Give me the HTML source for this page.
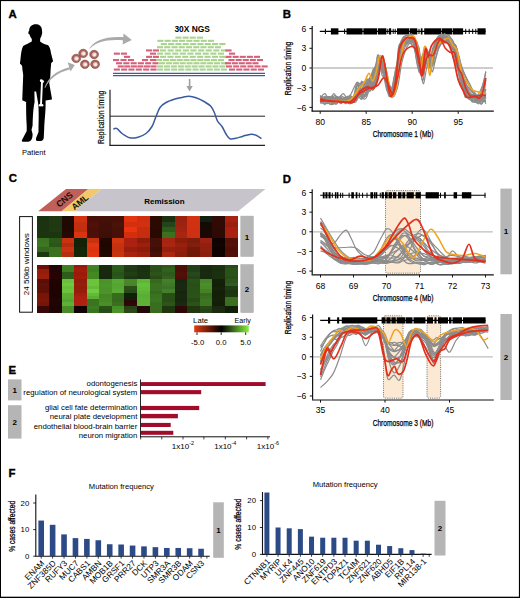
<!DOCTYPE html><html><head><meta charset="utf-8"><style>html,body{margin:0;padding:0;background:#fff;width:520px;height:598px;overflow:hidden}svg{display:block;font-family:"Liberation Sans",sans-serif}</style></head><body>
<svg width="520" height="598" viewBox="0 0 520 598">
<defs><radialGradient id="cellc" cx="0.6" cy="0.55" r="0.6"><stop offset="0" stop-color="#ffffff"/><stop offset="0.45" stop-color="#f0d2cc"/><stop offset="1" stop-color="#c27a70"/></radialGradient><linearGradient id="cbar" x1="0" x2="1" y1="0" y2="0"><stop offset="0" stop-color="#e83a10"/><stop offset="0.5" stop-color="#000000"/><stop offset="1" stop-color="#8cf040"/></linearGradient></defs>
<rect x="0" y="0" width="520" height="598" fill="#fff"/>
<text x="8.40" y="18.10" font-size="11.4" text-anchor="start" fill="#000" font-weight="bold" stroke="#000" stroke-width="0.35">A</text>
<text x="282.80" y="18.20" font-size="11.4" text-anchor="start" fill="#000" font-weight="bold" stroke="#000" stroke-width="0.35">B</text>
<text x="8.70" y="182.10" font-size="11.4" text-anchor="start" fill="#000" font-weight="bold" stroke="#000" stroke-width="0.35">C</text>
<text x="282.80" y="182.60" font-size="11.4" text-anchor="start" fill="#000" font-weight="bold" stroke="#000" stroke-width="0.35">D</text>
<text x="8.50" y="373.90" font-size="11.4" text-anchor="start" fill="#000" font-weight="bold" stroke="#000" stroke-width="0.35">E</text>
<text x="8.60" y="476.70" font-size="11.4" text-anchor="start" fill="#000" font-weight="bold" stroke="#000" stroke-width="0.35">F</text>
<path d="M35.6,24.3 C38.8,24.2 41.9,26.2 42,30.2 L42.2,33 C41.7,35.5 41,37.3 40.2,38.4 L40.1,41.4 C42.3,43.4 45,44.4 47.6,45.1 C49.6,46.2 50.6,50 51.2,54 L53.1,61.3 L51.2,62.9 L50.6,70 L50.3,76.5 L49.2,83 L51.9,98.4 L51.9,99.4 L45.6,100.4 L45.6,105 C45.6,112 44.6,120 44.3,125.4 L44.1,131 L43.8,137 C43.8,139.6 42.6,140.9 40.6,140.9 L37.1,140.9 C36,140.9 35.8,139.6 36.1,138 L38.5,132 L38.5,127 C38.9,120 38.7,110 38.4,105.5 L37.9,102 L36.1,91.4 L34.4,91.4 L34.6,102 C33.2,108 32.8,118 32.6,125.4 L31.5,130 L32.6,134 C32.6,138 31.6,141.6 28,141.8 L23.5,141.8 C22,141.8 21.4,141 22,140 L26.7,131 L26.7,125.4 C26.2,118 26.1,110 26.1,102 L22.3,100.2 L22.3,99 L23.2,75 L22.5,70 L22.1,65.7 L19.9,63.5 L20.4,60 C21,54 21.5,49 23.2,46.1 C26,44.5 29.5,43 31.8,41.6 L31.8,39 C30.6,37.6 30,35.6 29.5,34.5 L28.3,33.6 L28.5,31.5 L29.1,30.9 C29.3,26.6 32,24.3 35.6,24.3 Z" fill="#000"/>
<path d="M42,81.2 L41.0,104.6" stroke="#fff" stroke-width="1.9" stroke-linecap="round"/>
<circle cx="41.3" cy="80.8" r="1.45" fill="#fff"/><circle cx="42.8" cy="81.4" r="1.25" fill="#fff"/>
<circle cx="40.1" cy="105.3" r="1.3" fill="#fff"/><circle cx="42.1" cy="105.3" r="1.3" fill="#fff"/>
<path d="M44.6,87.6 C48,78 55,71 69.5,67.2 L70.4,69.2 C57,72.5 49.5,79 45.2,88 Z" fill="#aaaaaa"/>
<path d="M67.6,62.2 L74.8,65 L70.6,71.6 Z" fill="#aaaaaa"/>
<path d="M89.4,48.4 C95,40 106,35.8 124.5,37.2 L124.3,40.4 C107,38.8 96,42 89.8,48.8 Z" fill="#aaaaaa"/>
<path d="M123.6,33.6 L131.8,40.1 L122.6,44.6 Z" fill="#aaaaaa"/>
<ellipse cx="76.2" cy="58.4" rx="4.4" ry="4.2" fill="#b0675e" stroke="#7a4540" stroke-width="0.6"/>
<ellipse cx="76.2" cy="58.4" rx="3.0" ry="2.85" fill="url(#cellc)" stroke="#874a44" stroke-width="0.5"/>
<ellipse cx="83.2" cy="53.4" rx="4.4" ry="4.2" fill="#b0675e" stroke="#7a4540" stroke-width="0.6"/>
<ellipse cx="83.2" cy="53.4" rx="3.0" ry="2.85" fill="url(#cellc)" stroke="#874a44" stroke-width="0.5"/>
<ellipse cx="94.1" cy="54.5" rx="4.4" ry="4.2" fill="#b0675e" stroke="#7a4540" stroke-width="0.6"/>
<ellipse cx="94.1" cy="54.5" rx="3.0" ry="2.85" fill="url(#cellc)" stroke="#874a44" stroke-width="0.5"/>
<ellipse cx="84.9" cy="64.3" rx="4.4" ry="4.2" fill="#b0675e" stroke="#7a4540" stroke-width="0.6"/>
<ellipse cx="84.9" cy="64.3" rx="3.0" ry="2.85" fill="url(#cellc)" stroke="#874a44" stroke-width="0.5"/>
<ellipse cx="95.1" cy="64.3" rx="4.4" ry="4.2" fill="#b0675e" stroke="#7a4540" stroke-width="0.6"/>
<ellipse cx="95.1" cy="64.3" rx="3.0" ry="2.85" fill="url(#cellc)" stroke="#874a44" stroke-width="0.5"/>
<text x="33.80" y="155.00" font-size="7.7" text-anchor="middle" fill="#000" textLength="23.6" lengthAdjust="spacingAndGlyphs" >Patient</text>
<text x="192.20" y="32.20" font-size="8.8" text-anchor="middle" fill="#000" font-weight="bold" textLength="35.5" lengthAdjust="spacingAndGlyphs" >30X NGS</text>
<rect x="175.4" y="36.6" width="6.1" height="2.1" fill="#a8d48c"/>
<rect x="182.6" y="36.6" width="6.1" height="2.1" fill="#a8d48c"/>
<rect x="189.7" y="36.6" width="6.1" height="2.1" fill="#a8d48c"/>
<rect x="196.9" y="36.6" width="6.1" height="2.1" fill="#a8d48c"/>
<rect x="157.4" y="39.8" width="6.1" height="2.1" fill="#a8d48c"/>
<rect x="164.6" y="39.8" width="6.1" height="2.1" fill="#a8d48c"/>
<rect x="171.8" y="39.8" width="6.1" height="2.1" fill="#a8d48c"/>
<rect x="179.0" y="39.8" width="6.1" height="2.1" fill="#a8d48c"/>
<rect x="186.3" y="39.8" width="6.1" height="2.1" fill="#a8d48c"/>
<rect x="193.5" y="39.8" width="6.1" height="2.1" fill="#a8d48c"/>
<rect x="200.7" y="39.8" width="6.1" height="2.1" fill="#a8d48c"/>
<rect x="207.9" y="39.8" width="6.1" height="2.1" fill="#a8d48c"/>
<rect x="160.8" y="43.0" width="6.1" height="2.1" fill="#a8d48c"/>
<rect x="168.1" y="43.0" width="6.1" height="2.1" fill="#a8d48c"/>
<rect x="175.4" y="43.0" width="6.1" height="2.1" fill="#a8d48c"/>
<rect x="182.7" y="43.0" width="6.1" height="2.1" fill="#a8d48c"/>
<rect x="190.1" y="43.0" width="6.1" height="2.1" fill="#a8d48c"/>
<rect x="197.4" y="43.0" width="6.1" height="2.1" fill="#a8d48c"/>
<rect x="204.7" y="43.0" width="6.1" height="2.1" fill="#a8d48c"/>
<rect x="212.0" y="43.0" width="6.1" height="2.1" fill="#a8d48c"/>
<rect x="219.3" y="43.0" width="6.1" height="2.1" fill="#a8d48c"/>
<rect x="157.0" y="46.2" width="6.1" height="2.1" fill="#a8d48c"/>
<rect x="164.2" y="46.2" width="6.1" height="2.1" fill="#a8d48c"/>
<rect x="171.5" y="46.2" width="6.1" height="2.1" fill="#a8d48c"/>
<rect x="178.7" y="46.2" width="6.1" height="2.1" fill="#a8d48c"/>
<rect x="185.9" y="46.2" width="6.1" height="2.1" fill="#a8d48c"/>
<rect x="193.2" y="46.2" width="6.1" height="2.1" fill="#a8d48c"/>
<rect x="200.4" y="46.2" width="6.1" height="2.1" fill="#a8d48c"/>
<rect x="207.7" y="46.2" width="6.1" height="2.1" fill="#a8d48c"/>
<rect x="214.9" y="46.2" width="6.1" height="2.1" fill="#a8d48c"/>
<rect x="146.0" y="49.4" width="6.1" height="2.1" fill="#d4607a"/>
<rect x="152.9" y="49.4" width="6.1" height="2.1" fill="#d4607a"/>
<rect x="160.0" y="49.4" width="6.1" height="2.1" fill="#a8d48c"/>
<rect x="167.6" y="49.4" width="6.1" height="2.1" fill="#a8d48c"/>
<rect x="175.2" y="49.4" width="6.1" height="2.1" fill="#a8d48c"/>
<rect x="182.8" y="49.4" width="6.1" height="2.1" fill="#a8d48c"/>
<rect x="190.4" y="49.4" width="6.1" height="2.1" fill="#a8d48c"/>
<rect x="198.1" y="49.4" width="6.1" height="2.1" fill="#a8d48c"/>
<rect x="205.7" y="49.4" width="6.1" height="2.1" fill="#a8d48c"/>
<rect x="213.3" y="49.4" width="6.1" height="2.1" fill="#a8d48c"/>
<rect x="220.9" y="49.4" width="6.1" height="2.1" fill="#a8d48c"/>
<rect x="225.5" y="49.4" width="6.1" height="2.1" fill="#d4607a"/>
<rect x="113.8" y="52.6" width="6.1" height="2.1" fill="#d4607a"/>
<rect x="120.9" y="52.6" width="6.1" height="2.1" fill="#d4607a"/>
<rect x="150.0" y="52.6" width="6.1" height="2.1" fill="#d4607a"/>
<rect x="157.0" y="52.6" width="6.1" height="2.1" fill="#a8d48c"/>
<rect x="164.6" y="52.6" width="6.1" height="2.1" fill="#a8d48c"/>
<rect x="172.2" y="52.6" width="6.1" height="2.1" fill="#a8d48c"/>
<rect x="179.8" y="52.6" width="6.1" height="2.1" fill="#a8d48c"/>
<rect x="187.4" y="52.6" width="6.1" height="2.1" fill="#a8d48c"/>
<rect x="195.1" y="52.6" width="6.1" height="2.1" fill="#a8d48c"/>
<rect x="202.7" y="52.6" width="6.1" height="2.1" fill="#a8d48c"/>
<rect x="210.3" y="52.6" width="6.1" height="2.1" fill="#a8d48c"/>
<rect x="217.9" y="52.6" width="6.1" height="2.1" fill="#a8d48c"/>
<rect x="229.0" y="52.6" width="6.1" height="2.1" fill="#d4607a"/>
<rect x="124.0" y="55.8" width="6.1" height="2.1" fill="#d4607a"/>
<rect x="146.0" y="55.8" width="6.1" height="2.1" fill="#d4607a"/>
<rect x="152.9" y="55.8" width="6.1" height="2.1" fill="#d4607a"/>
<rect x="160.0" y="55.8" width="6.1" height="2.1" fill="#a8d48c"/>
<rect x="167.4" y="55.8" width="6.1" height="2.1" fill="#a8d48c"/>
<rect x="174.8" y="55.8" width="6.1" height="2.1" fill="#a8d48c"/>
<rect x="182.2" y="55.8" width="6.1" height="2.1" fill="#a8d48c"/>
<rect x="189.7" y="55.8" width="6.1" height="2.1" fill="#a8d48c"/>
<rect x="197.1" y="55.8" width="6.1" height="2.1" fill="#a8d48c"/>
<rect x="204.5" y="55.8" width="6.1" height="2.1" fill="#a8d48c"/>
<rect x="211.9" y="55.8" width="6.1" height="2.1" fill="#a8d48c"/>
<rect x="219.3" y="55.8" width="6.1" height="2.1" fill="#a8d48c"/>
<rect x="225.5" y="55.8" width="6.1" height="2.1" fill="#d4607a"/>
<rect x="232.6" y="55.8" width="6.1" height="2.1" fill="#d4607a"/>
<rect x="239.7" y="55.8" width="6.1" height="2.1" fill="#d4607a"/>
<rect x="246.8" y="55.8" width="6.1" height="2.1" fill="#d4607a"/>
<rect x="253.9" y="55.8" width="6.1" height="2.1" fill="#d4607a"/>
<rect x="113.0" y="59.0" width="6.1" height="2.1" fill="#d4607a"/>
<rect x="120.5" y="59.0" width="6.1" height="2.1" fill="#d4607a"/>
<rect x="127.9" y="59.0" width="6.1" height="2.1" fill="#d4607a"/>
<rect x="142.0" y="59.0" width="6.1" height="2.1" fill="#d4607a"/>
<rect x="149.9" y="59.0" width="6.1" height="2.1" fill="#d4607a"/>
<rect x="156.0" y="59.0" width="6.1" height="2.1" fill="#a8d48c"/>
<rect x="162.9" y="59.0" width="6.1" height="2.1" fill="#a8d48c"/>
<rect x="169.8" y="59.0" width="6.1" height="2.1" fill="#a8d48c"/>
<rect x="176.6" y="59.0" width="6.1" height="2.1" fill="#a8d48c"/>
<rect x="183.5" y="59.0" width="6.1" height="2.1" fill="#a8d48c"/>
<rect x="190.4" y="59.0" width="6.1" height="2.1" fill="#a8d48c"/>
<rect x="197.3" y="59.0" width="6.1" height="2.1" fill="#a8d48c"/>
<rect x="204.1" y="59.0" width="6.1" height="2.1" fill="#a8d48c"/>
<rect x="211.0" y="59.0" width="6.1" height="2.1" fill="#a8d48c"/>
<rect x="217.9" y="59.0" width="6.1" height="2.1" fill="#a8d48c"/>
<rect x="228.5" y="59.0" width="6.1" height="2.1" fill="#d4607a"/>
<rect x="235.6" y="59.0" width="6.1" height="2.1" fill="#d4607a"/>
<rect x="242.7" y="59.0" width="6.1" height="2.1" fill="#d4607a"/>
<rect x="249.8" y="59.0" width="6.1" height="2.1" fill="#d4607a"/>
<rect x="256.9" y="59.0" width="6.1" height="2.1" fill="#d4607a"/>
<rect x="116.0" y="62.2" width="6.1" height="2.1" fill="#d4607a"/>
<rect x="123.3" y="62.2" width="6.1" height="2.1" fill="#d4607a"/>
<rect x="130.6" y="62.2" width="6.1" height="2.1" fill="#d4607a"/>
<rect x="137.8" y="62.2" width="6.1" height="2.1" fill="#d4607a"/>
<rect x="145.1" y="62.2" width="6.1" height="2.1" fill="#d4607a"/>
<rect x="152.4" y="62.2" width="6.1" height="2.1" fill="#d4607a"/>
<rect x="159.0" y="62.2" width="6.1" height="2.1" fill="#a8d48c"/>
<rect x="165.9" y="62.2" width="6.1" height="2.1" fill="#a8d48c"/>
<rect x="172.8" y="62.2" width="6.1" height="2.1" fill="#a8d48c"/>
<rect x="179.6" y="62.2" width="6.1" height="2.1" fill="#a8d48c"/>
<rect x="186.5" y="62.2" width="6.1" height="2.1" fill="#a8d48c"/>
<rect x="193.4" y="62.2" width="6.1" height="2.1" fill="#a8d48c"/>
<rect x="200.3" y="62.2" width="6.1" height="2.1" fill="#a8d48c"/>
<rect x="207.1" y="62.2" width="6.1" height="2.1" fill="#a8d48c"/>
<rect x="214.0" y="62.2" width="6.1" height="2.1" fill="#a8d48c"/>
<rect x="220.9" y="62.2" width="6.1" height="2.1" fill="#a8d48c"/>
<rect x="225.0" y="62.2" width="6.1" height="2.1" fill="#d4607a"/>
<rect x="231.8" y="62.2" width="6.1" height="2.1" fill="#d4607a"/>
<rect x="238.7" y="62.2" width="6.1" height="2.1" fill="#d4607a"/>
<rect x="245.6" y="62.2" width="6.1" height="2.1" fill="#d4607a"/>
<rect x="252.4" y="62.2" width="6.1" height="2.1" fill="#d4607a"/>
<rect x="117.7" y="65.4" width="6.1" height="2.1" fill="#d4607a"/>
<rect x="124.2" y="65.4" width="6.1" height="2.1" fill="#d4607a"/>
<rect x="130.8" y="65.4" width="6.1" height="2.1" fill="#d4607a"/>
<rect x="137.3" y="65.4" width="6.1" height="2.1" fill="#d4607a"/>
<rect x="143.9" y="65.4" width="6.1" height="2.1" fill="#d4607a"/>
<rect x="150.4" y="65.4" width="6.1" height="2.1" fill="#d4607a"/>
<rect x="157.0" y="65.4" width="6.1" height="2.1" fill="#a8d48c"/>
<rect x="163.9" y="65.4" width="6.1" height="2.1" fill="#a8d48c"/>
<rect x="170.8" y="65.4" width="6.1" height="2.1" fill="#a8d48c"/>
<rect x="177.8" y="65.4" width="6.1" height="2.1" fill="#a8d48c"/>
<rect x="184.7" y="65.4" width="6.1" height="2.1" fill="#a8d48c"/>
<rect x="191.6" y="65.4" width="6.1" height="2.1" fill="#a8d48c"/>
<rect x="198.5" y="65.4" width="6.1" height="2.1" fill="#a8d48c"/>
<rect x="205.5" y="65.4" width="6.1" height="2.1" fill="#a8d48c"/>
<rect x="212.4" y="65.4" width="6.1" height="2.1" fill="#a8d48c"/>
<rect x="219.3" y="65.4" width="6.1" height="2.1" fill="#a8d48c"/>
<rect x="226.0" y="65.4" width="6.1" height="2.1" fill="#d4607a"/>
<rect x="233.1" y="65.4" width="6.1" height="2.1" fill="#d4607a"/>
<rect x="240.2" y="65.4" width="6.1" height="2.1" fill="#d4607a"/>
<rect x="247.4" y="65.4" width="6.1" height="2.1" fill="#d4607a"/>
<rect x="254.5" y="65.4" width="6.1" height="2.1" fill="#d4607a"/>
<rect x="261.6" y="65.4" width="6.1" height="2.1" fill="#d4607a"/>
<rect x="113.8" y="68.5" width="6.1" height="2.1" fill="#d4607a"/>
<rect x="121.1" y="68.5" width="6.1" height="2.1" fill="#d4607a"/>
<rect x="128.4" y="68.5" width="6.1" height="2.1" fill="#d4607a"/>
<rect x="135.8" y="68.5" width="6.1" height="2.1" fill="#d4607a"/>
<rect x="143.1" y="68.5" width="6.1" height="2.1" fill="#d4607a"/>
<rect x="150.4" y="68.5" width="6.1" height="2.1" fill="#d4607a"/>
<rect x="157.0" y="68.5" width="6.1" height="2.1" fill="#a8d48c"/>
<rect x="164.1" y="68.5" width="6.1" height="2.1" fill="#a8d48c"/>
<rect x="171.2" y="68.5" width="6.1" height="2.1" fill="#a8d48c"/>
<rect x="178.3" y="68.5" width="6.1" height="2.1" fill="#a8d48c"/>
<rect x="185.4" y="68.5" width="6.1" height="2.1" fill="#a8d48c"/>
<rect x="192.5" y="68.5" width="6.1" height="2.1" fill="#a8d48c"/>
<rect x="199.6" y="68.5" width="6.1" height="2.1" fill="#a8d48c"/>
<rect x="206.7" y="68.5" width="6.1" height="2.1" fill="#a8d48c"/>
<rect x="213.8" y="68.5" width="6.1" height="2.1" fill="#a8d48c"/>
<rect x="220.9" y="68.5" width="6.1" height="2.1" fill="#a8d48c"/>
<rect x="229.0" y="68.5" width="6.1" height="2.1" fill="#d4607a"/>
<rect x="236.2" y="68.5" width="6.1" height="2.1" fill="#d4607a"/>
<rect x="243.4" y="68.5" width="6.1" height="2.1" fill="#d4607a"/>
<rect x="250.7" y="68.5" width="6.1" height="2.1" fill="#d4607a"/>
<rect x="257.9" y="68.5" width="6.1" height="2.1" fill="#d4607a"/>
<line x1="113" y1="73.4" x2="265" y2="73.4" stroke="#3d5c9c" stroke-width="1.1"/>
<line x1="113" y1="75.6" x2="265" y2="75.6" stroke="#3d5c9c" stroke-width="1.1"/>
<line x1="189.6" y1="79" x2="189.6" y2="87" stroke="#a0a0a0" stroke-width="1.6"/>
<path d="M186.4,86 L192.8,86 L189.6,91.6 Z" fill="#a0a0a0"/>
<line x1="110" y1="89.8" x2="110" y2="145.5" stroke="#222" stroke-width="1.2"/>
<line x1="109.4" y1="145.3" x2="265" y2="145.3" stroke="#222" stroke-width="1.2"/>
<line x1="110" y1="116.2" x2="265" y2="116.2" stroke="#222" stroke-width="1"/>
<path d="M113.30,128.90 C113.92,128.85 115.55,127.83 117.00,128.60 C118.45,129.37 119.87,131.97 122.00,133.50 C124.13,135.03 127.13,137.18 129.80,137.80 C132.47,138.42 135.30,137.92 138.00,137.20 C140.70,136.48 143.67,135.28 146.00,133.50 C148.33,131.72 150.33,129.33 152.00,126.50 C153.67,123.67 154.67,119.67 156.00,116.50 C157.33,113.33 158.33,109.83 160.00,107.50 C161.67,105.17 163.50,103.92 166.00,102.50 C168.50,101.08 172.17,99.88 175.00,99.00 C177.83,98.12 180.67,97.65 183.00,97.20 C185.33,96.75 186.83,96.20 189.00,96.30 C191.17,96.40 193.50,96.93 196.00,97.80 C198.50,98.67 201.50,100.05 204.00,101.50 C206.50,102.95 209.25,104.58 211.00,106.50 C212.75,108.42 213.42,110.58 214.50,113.00 C215.58,115.42 216.25,118.75 217.50,121.00 C218.75,123.25 220.58,124.33 222.00,126.50 C223.42,128.67 224.67,131.95 226.00,134.00 C227.33,136.05 228.33,138.08 230.00,138.80 C231.67,139.52 233.83,138.73 236.00,138.30 C238.17,137.87 240.50,136.88 243.00,136.20 C245.50,135.52 248.83,134.35 251.00,134.20 C253.17,134.05 254.25,134.58 256.00,135.30 C257.75,136.02 260.58,137.97 261.50,138.50" fill="none" stroke="#3a5a9e" stroke-width="1.5"/>
<text x="104.30" y="117.30" font-size="9" text-anchor="middle" fill="#000" textLength="53.4" lengthAdjust="spacingAndGlyphs" transform="rotate(-90 104.30 117.30)" stroke="#000" stroke-width="0.2">Replication timing</text>
<line x1="312.2" y1="25.9" x2="312.2" y2="111.6" stroke="#111" stroke-width="1.2"/>
<line x1="309.4" y1="28.58" x2="312.2" y2="28.58" stroke="#111" stroke-width="1"/>
<text x="306.40" y="31.68" font-size="8.6" text-anchor="end" fill="#000" >6</text>
<line x1="309.4" y1="48.29" x2="312.2" y2="48.29" stroke="#111" stroke-width="1"/>
<text x="306.40" y="51.39" font-size="8.6" text-anchor="end" fill="#000" >3</text>
<line x1="309.4" y1="68.0" x2="312.2" y2="68.0" stroke="#111" stroke-width="1"/>
<text x="306.40" y="71.10" font-size="8.6" text-anchor="end" fill="#000" >0</text>
<line x1="309.4" y1="87.71000000000001" x2="312.2" y2="87.71000000000001" stroke="#111" stroke-width="1"/>
<text x="306.40" y="90.81" font-size="8.6" text-anchor="end" fill="#000" >−3</text>
<line x1="309.4" y1="107.42" x2="312.2" y2="107.42" stroke="#111" stroke-width="1"/>
<text x="306.40" y="110.52" font-size="8.6" text-anchor="end" fill="#000" >−6</text>
<line x1="311.6" y1="111.2" x2="493.8" y2="111.2" stroke="#111" stroke-width="1.2"/>
<line x1="320.2" y1="111.2" x2="320.2" y2="113.8" stroke="#111" stroke-width="1"/>
<text x="320.20" y="124.75" font-size="8.6" text-anchor="middle" fill="#000" >80</text>
<line x1="366.2" y1="111.2" x2="366.2" y2="113.8" stroke="#111" stroke-width="1"/>
<text x="366.20" y="124.75" font-size="8.6" text-anchor="middle" fill="#000" >85</text>
<line x1="412.2" y1="111.2" x2="412.2" y2="113.8" stroke="#111" stroke-width="1"/>
<text x="412.20" y="124.75" font-size="8.6" text-anchor="middle" fill="#000" >90</text>
<line x1="458.2" y1="111.2" x2="458.2" y2="113.8" stroke="#111" stroke-width="1"/>
<text x="458.20" y="124.75" font-size="8.6" text-anchor="middle" fill="#000" >95</text>
<line x1="312.8" y1="68.0" x2="493" y2="68.0" stroke="#bdbdbd" stroke-width="1.3"/>
<text x="403.00" y="136.90" font-size="8.8" text-anchor="middle" fill="#000" textLength="60.7" lengthAdjust="spacingAndGlyphs" stroke="#000" stroke-width="0.25">Chromosome 1 (Mb)</text>
<text x="290.60" y="68.40" font-size="9.2" text-anchor="middle" fill="#000" textLength="53.5" lengthAdjust="spacingAndGlyphs" transform="rotate(-90 290.60 68.40)" stroke="#000" stroke-width="0.25">Replication timing</text>
<line x1="319.8" y1="31.4" x2="485.6" y2="31.4" stroke="#000" stroke-width="1.1"/>
<rect x="330.9" y="28.299999999999997" width="7.50" height="6.2" fill="#000"/>
<rect x="346.5" y="28.299999999999997" width="16.10" height="6.2" fill="#000"/>
<rect x="363.4" y="28.299999999999997" width="13.60" height="6.2" fill="#000"/>
<rect x="377.8" y="28.299999999999997" width="8.60" height="6.2" fill="#000"/>
<rect x="389" y="28.299999999999997" width="2.20" height="6.2" fill="#000"/>
<rect x="397" y="28.299999999999997" width="12.20" height="6.2" fill="#000"/>
<rect x="409.8" y="28.299999999999997" width="7.50" height="6.2" fill="#000"/>
<rect x="420.8" y="28.299999999999997" width="1.70" height="6.2" fill="#000"/>
<rect x="424.2" y="28.299999999999997" width="16.80" height="6.2" fill="#000"/>
<rect x="441.6" y="28.299999999999997" width="10.80" height="6.2" fill="#000"/>
<rect x="453" y="28.299999999999997" width="10.10" height="6.2" fill="#000"/>
<rect x="477.5" y="28.299999999999997" width="8.10" height="6.2" fill="#000"/>
<rect x="324.9" y="28.799999999999997" width="1.0" height="5.2" fill="#000"/>
<rect x="344.1" y="28.799999999999997" width="1.0" height="5.2" fill="#000"/>
<rect x="387.3" y="28.799999999999997" width="1.0" height="5.2" fill="#000"/>
<rect x="392.7" y="28.799999999999997" width="1.0" height="5.2" fill="#000"/>
<rect x="394.7" y="28.799999999999997" width="1.0" height="5.2" fill="#000"/>
<rect x="418.5" y="28.799999999999997" width="1.0" height="5.2" fill="#000"/>
<rect x="465.2" y="28.799999999999997" width="1.0" height="5.2" fill="#000"/>
<rect x="468.7" y="28.799999999999997" width="1.0" height="5.2" fill="#000"/>
<rect x="472.2" y="28.799999999999997" width="1.0" height="5.2" fill="#000"/>
<rect x="475.3" y="28.799999999999997" width="1.0" height="5.2" fill="#000"/>
<path d="M320.20,100.54 C320.58,100.40 321.73,100.07 322.50,99.67 C323.27,99.26 324.03,98.55 324.80,98.10 C325.57,97.66 326.33,96.98 327.10,96.98 C327.87,96.98 328.63,97.79 329.40,98.09 C330.17,98.39 330.93,98.23 331.70,98.76 C332.47,99.30 333.23,100.88 334.00,101.29 C334.77,101.71 335.53,101.49 336.30,101.25 C337.07,101.01 337.83,100.02 338.60,99.86 C339.37,99.69 340.13,99.89 340.90,100.26 C341.67,100.64 342.43,101.54 343.20,102.10 C343.97,102.65 344.73,103.63 345.50,103.60 C346.27,103.57 347.03,102.55 347.80,101.89 C348.57,101.24 349.33,100.04 350.10,99.68 C350.87,99.32 351.63,100.32 352.40,99.75 C353.17,99.18 353.93,97.69 354.70,96.27 C355.47,94.84 356.23,92.03 357.00,91.20 C357.77,90.36 358.53,90.07 359.30,91.28 C360.07,92.49 360.83,97.68 361.60,98.45 C362.37,99.23 363.13,96.90 363.90,95.91 C364.67,94.92 365.43,93.48 366.20,92.50 C366.97,91.52 367.73,91.07 368.50,90.02 C369.27,88.96 370.03,88.33 370.80,86.19 C371.57,84.06 372.33,79.66 373.10,77.19 C373.87,74.72 374.63,72.51 375.40,71.37 C376.17,70.24 376.93,71.17 377.70,70.37 C378.47,69.58 379.23,66.84 380.00,66.59 C380.77,66.33 381.53,67.15 382.30,68.84 C383.07,70.53 383.83,74.68 384.60,76.74 C385.37,78.79 386.13,79.77 386.90,81.15 C387.67,82.53 388.43,83.92 389.20,85.03 C389.97,86.14 390.73,86.77 391.50,87.82 C392.27,88.86 393.03,91.39 393.80,91.28 C394.57,91.17 395.33,90.63 396.10,87.17 C396.87,83.70 397.63,76.66 398.40,70.48 C399.17,64.31 399.93,54.46 400.70,50.12 C401.47,45.77 402.23,45.78 403.00,44.43 C403.77,43.08 404.53,42.18 405.30,41.99 C406.07,41.81 406.83,43.69 407.60,43.31 C408.37,42.93 409.13,40.31 409.90,39.73 C410.67,39.15 411.43,39.41 412.20,39.84 C412.97,40.28 413.73,41.05 414.50,42.35 C415.27,43.65 416.03,45.58 416.80,47.65 C417.57,49.73 418.33,51.79 419.10,54.78 C419.87,57.77 420.63,62.50 421.40,65.59 C422.17,68.69 422.93,74.82 423.70,73.37 C424.47,71.92 425.23,57.84 426.00,56.90 C426.77,55.96 427.53,66.35 428.30,67.73 C429.07,69.10 429.83,66.46 430.60,65.15 C431.37,63.83 432.13,62.64 432.90,59.86 C433.67,57.07 434.43,51.22 435.20,48.43 C435.97,45.65 436.73,45.04 437.50,43.15 C438.27,41.26 439.03,37.88 439.80,37.10 C440.57,36.33 441.33,38.08 442.10,38.50 C442.87,38.93 443.63,39.54 444.40,39.66 C445.17,39.78 445.93,39.02 446.70,39.23 C447.47,39.44 448.23,40.27 449.00,40.93 C449.77,41.59 450.53,42.31 451.30,43.19 C452.07,44.07 452.83,44.08 453.60,46.18 C454.37,48.29 455.13,53.12 455.90,55.83 C456.67,58.54 457.43,60.56 458.20,62.44 C458.97,64.33 459.73,64.33 460.50,67.14 C461.27,69.95 462.03,75.60 462.80,79.29 C463.57,82.99 464.33,87.64 465.10,89.29 C465.87,90.95 466.63,89.12 467.40,89.24 C468.17,89.36 468.93,89.56 469.70,90.04 C470.47,90.51 471.23,91.38 472.00,92.10 C472.77,92.82 473.53,93.65 474.30,94.35 C475.07,95.05 475.83,96.18 476.60,96.30 C477.37,96.42 478.13,95.22 478.90,95.06 C479.67,94.90 480.43,95.22 481.20,95.34 C481.97,95.46 482.73,95.19 483.50,95.78 C484.27,96.36 485.42,98.35 485.80,98.87" fill="none" stroke="#8c8c8c" stroke-width="1.2" stroke-linejoin="round"/>
<path d="M320.20,95.37 C320.58,96.33 321.73,99.55 322.50,101.09 C323.27,102.63 324.03,104.82 324.80,104.63 C325.57,104.44 326.33,100.70 327.10,99.95 C327.87,99.21 328.63,100.19 329.40,100.17 C330.17,100.15 330.93,99.88 331.70,99.83 C332.47,99.78 333.23,99.95 334.00,99.87 C334.77,99.79 335.53,99.36 336.30,99.35 C337.07,99.33 337.83,99.11 338.60,99.79 C339.37,100.46 340.13,103.43 340.90,103.40 C341.67,103.36 342.43,100.65 343.20,99.58 C343.97,98.51 344.73,96.52 345.50,96.98 C346.27,97.43 347.03,101.40 347.80,102.32 C348.57,103.24 349.33,102.78 350.10,102.49 C350.87,102.20 351.63,101.73 352.40,100.58 C353.17,99.43 353.93,96.92 354.70,95.58 C355.47,94.25 356.23,93.98 357.00,92.54 C357.77,91.10 358.53,88.64 359.30,86.94 C360.07,85.24 360.83,82.83 361.60,82.35 C362.37,81.87 363.13,84.32 363.90,84.07 C364.67,83.82 365.43,81.65 366.20,80.85 C366.97,80.06 367.73,79.89 368.50,79.30 C369.27,78.71 370.03,78.19 370.80,77.32 C371.57,76.44 372.33,75.53 373.10,74.03 C373.87,72.53 374.63,71.50 375.40,68.32 C376.17,65.13 376.93,56.16 377.70,54.93 C378.47,53.70 379.23,59.34 380.00,60.92 C380.77,62.50 381.53,62.54 382.30,64.40 C383.07,66.26 383.83,69.11 384.60,72.08 C385.37,75.05 386.13,80.08 386.90,82.22 C387.67,84.35 388.43,83.67 389.20,84.89 C389.97,86.11 390.73,89.02 391.50,89.53 C392.27,90.04 393.03,90.40 393.80,87.94 C394.57,85.48 395.33,79.92 396.10,74.75 C396.87,69.57 397.63,62.24 398.40,56.90 C399.17,51.56 399.93,45.93 400.70,42.70 C401.47,39.47 402.23,38.60 403.00,37.51 C403.77,36.42 404.53,36.55 405.30,36.16 C406.07,35.77 406.83,35.12 407.60,35.15 C408.37,35.17 409.13,35.75 409.90,36.31 C410.67,36.88 411.43,37.66 412.20,38.52 C412.97,39.38 413.73,39.66 414.50,41.48 C415.27,43.29 416.03,46.41 416.80,49.42 C417.57,52.42 418.33,56.64 419.10,59.50 C419.87,62.36 420.63,64.95 421.40,66.58 C422.17,68.21 422.93,71.62 423.70,69.27 C424.47,66.92 425.23,53.76 426.00,52.47 C426.77,51.17 427.53,60.02 428.30,61.50 C429.07,62.97 429.83,63.12 430.60,61.32 C431.37,59.51 432.13,53.60 432.90,50.66 C433.67,47.71 434.43,45.79 435.20,43.62 C435.97,41.46 436.73,38.97 437.50,37.65 C438.27,36.34 439.03,36.29 439.80,35.72 C440.57,35.14 441.33,34.03 442.10,34.20 C442.87,34.37 443.63,36.34 444.40,36.74 C445.17,37.14 445.93,36.44 446.70,36.58 C447.47,36.72 448.23,36.78 449.00,37.56 C449.77,38.34 450.53,39.92 451.30,41.26 C452.07,42.61 452.83,43.66 453.60,45.64 C454.37,47.62 455.13,50.85 455.90,53.17 C456.67,55.48 457.43,57.20 458.20,59.54 C458.97,61.88 459.73,64.35 460.50,67.21 C461.27,70.07 462.03,73.58 462.80,76.70 C463.57,79.81 464.33,83.67 465.10,85.89 C465.87,88.11 466.63,88.67 467.40,90.02 C468.17,91.36 468.93,92.47 469.70,93.97 C470.47,95.47 471.23,97.88 472.00,99.02 C472.77,100.15 473.53,100.82 474.30,100.80 C475.07,100.77 475.83,99.05 476.60,98.86 C477.37,98.67 478.13,98.81 478.90,99.67 C479.67,100.52 480.43,103.92 481.20,103.98 C481.97,104.04 482.73,101.62 483.50,100.01 C484.27,98.40 485.42,95.27 485.80,94.32" fill="none" stroke="#8c8c8c" stroke-width="1.2" stroke-linejoin="round"/>
<path d="M320.20,100.23 C320.58,100.52 321.73,101.45 322.50,101.95 C323.27,102.45 324.03,103.64 324.80,103.24 C325.57,102.84 326.33,100.42 327.10,99.58 C327.87,98.74 328.63,97.69 329.40,98.20 C330.17,98.71 330.93,102.06 331.70,102.63 C332.47,103.19 333.23,102.15 334.00,101.59 C334.77,101.04 335.53,99.51 336.30,99.27 C337.07,99.03 337.83,99.49 338.60,100.15 C339.37,100.81 340.13,102.93 340.90,103.24 C341.67,103.54 342.43,102.22 343.20,101.98 C343.97,101.73 344.73,102.21 345.50,101.77 C346.27,101.32 347.03,99.94 347.80,99.32 C348.57,98.69 349.33,97.86 350.10,98.03 C350.87,98.21 351.63,99.97 352.40,100.35 C353.17,100.72 353.93,100.80 354.70,100.29 C355.47,99.78 356.23,98.16 357.00,97.28 C357.77,96.39 358.53,96.05 359.30,94.96 C360.07,93.86 360.83,91.80 361.60,90.72 C362.37,89.64 363.13,89.52 363.90,88.48 C364.67,87.44 365.43,85.56 366.20,84.48 C366.97,83.41 367.73,83.09 368.50,82.02 C369.27,80.95 370.03,78.93 370.80,78.08 C371.57,77.22 372.33,78.45 373.10,76.88 C373.87,75.32 374.63,72.03 375.40,68.67 C376.17,65.31 376.93,58.13 377.70,56.74 C378.47,55.34 379.23,57.89 380.00,60.30 C380.77,62.71 381.53,68.72 382.30,71.20 C383.07,73.68 383.83,73.85 384.60,75.18 C385.37,76.52 386.13,77.01 386.90,79.21 C387.67,81.41 388.43,85.55 389.20,88.37 C389.97,91.18 390.73,95.01 391.50,96.10 C392.27,97.20 393.03,96.40 393.80,94.92 C394.57,93.43 395.33,92.59 396.10,87.21 C396.87,81.83 397.63,69.73 398.40,62.62 C399.17,55.50 399.93,47.88 400.70,44.53 C401.47,41.19 402.23,43.28 403.00,42.54 C403.77,41.80 404.53,40.77 405.30,40.10 C406.07,39.43 406.83,38.88 407.60,38.52 C408.37,38.17 409.13,37.82 409.90,37.96 C410.67,38.10 411.43,39.03 412.20,39.38 C412.97,39.73 413.73,39.69 414.50,40.07 C415.27,40.44 416.03,39.93 416.80,41.62 C417.57,43.31 418.33,46.54 419.10,50.19 C419.87,53.83 420.63,60.60 421.40,63.49 C422.17,66.39 422.93,69.17 423.70,67.55 C424.47,65.93 425.23,54.16 426.00,53.78 C426.77,53.39 427.53,63.45 428.30,65.24 C429.07,67.02 429.83,65.69 430.60,64.47 C431.37,63.25 432.13,60.91 432.90,57.90 C433.67,54.88 434.43,49.09 435.20,46.39 C435.97,43.68 436.73,43.14 437.50,41.66 C438.27,40.17 439.03,38.13 439.80,37.49 C440.57,36.85 441.33,37.09 442.10,37.82 C442.87,38.56 443.63,41.82 444.40,41.91 C445.17,42.00 445.93,38.86 446.70,38.37 C447.47,37.88 448.23,38.87 449.00,38.95 C449.77,39.02 450.53,38.29 451.30,38.81 C452.07,39.34 452.83,39.62 453.60,42.11 C454.37,44.59 455.13,50.43 455.90,53.75 C456.67,57.07 457.43,59.50 458.20,62.05 C458.97,64.59 459.73,66.41 460.50,69.03 C461.27,71.65 462.03,74.72 462.80,77.77 C463.57,80.81 464.33,84.50 465.10,87.28 C465.87,90.07 466.63,92.99 467.40,94.47 C468.17,95.94 468.93,95.64 469.70,96.14 C470.47,96.64 471.23,97.04 472.00,97.47 C472.77,97.90 473.53,98.42 474.30,98.71 C475.07,99.00 475.83,98.83 476.60,99.20 C477.37,99.57 478.13,100.12 478.90,100.92 C479.67,101.71 480.43,104.29 481.20,103.97 C481.97,103.65 482.73,101.51 483.50,99.02 C484.27,96.52 485.42,90.67 485.80,89.00" fill="none" stroke="#8c8c8c" stroke-width="1.2" stroke-linejoin="round"/>
<path d="M320.20,97.66 C320.58,97.73 321.73,98.09 322.50,98.04 C323.27,97.99 324.03,97.46 324.80,97.37 C325.57,97.28 326.33,97.61 327.10,97.48 C327.87,97.36 328.63,96.51 329.40,96.62 C330.17,96.73 330.93,97.45 331.70,98.15 C332.47,98.85 333.23,100.47 334.00,100.83 C334.77,101.19 335.53,100.47 336.30,100.33 C337.07,100.18 337.83,99.88 338.60,99.95 C339.37,100.03 340.13,100.85 340.90,100.76 C341.67,100.68 342.43,99.55 343.20,99.44 C343.97,99.32 344.73,100.43 345.50,100.08 C346.27,99.73 347.03,98.15 347.80,97.34 C348.57,96.52 349.33,95.15 350.10,95.18 C350.87,95.22 351.63,97.20 352.40,97.53 C353.17,97.87 353.93,96.96 354.70,97.20 C355.47,97.44 356.23,100.29 357.00,98.97 C357.77,97.64 358.53,91.92 359.30,89.24 C360.07,86.57 360.83,84.07 361.60,82.92 C362.37,81.77 363.13,82.43 363.90,82.35 C364.67,82.26 365.43,82.83 366.20,82.42 C366.97,82.01 367.73,80.67 368.50,79.88 C369.27,79.10 370.03,79.44 370.80,77.72 C371.57,76.00 372.33,71.09 373.10,69.54 C373.87,67.99 374.63,68.43 375.40,68.41 C376.17,68.38 376.93,70.49 377.70,69.40 C378.47,68.31 379.23,61.68 380.00,61.85 C380.77,62.02 381.53,67.83 382.30,70.40 C383.07,72.98 383.83,75.36 384.60,77.31 C385.37,79.26 386.13,79.75 386.90,82.12 C387.67,84.48 388.43,90.02 389.20,91.50 C389.97,92.98 390.73,91.12 391.50,91.02 C392.27,90.93 393.03,91.91 393.80,90.92 C394.57,89.94 395.33,90.05 396.10,85.10 C396.87,80.15 397.63,67.86 398.40,61.22 C399.17,54.59 399.93,48.42 400.70,45.29 C401.47,42.17 402.23,43.38 403.00,42.47 C403.77,41.55 404.53,40.54 405.30,39.80 C406.07,39.06 406.83,37.97 407.60,38.02 C408.37,38.07 409.13,38.92 409.90,40.11 C410.67,41.30 411.43,44.52 412.20,45.15 C412.97,45.78 413.73,43.88 414.50,43.89 C415.27,43.90 416.03,42.45 416.80,45.20 C417.57,47.95 418.33,56.20 419.10,60.39 C419.87,64.58 420.63,68.06 421.40,70.33 C422.17,72.60 422.93,76.21 423.70,74.02 C424.47,71.83 425.23,59.22 426.00,57.19 C426.77,55.16 427.53,61.05 428.30,61.84 C429.07,62.63 429.83,63.28 430.60,61.95 C431.37,60.62 432.13,55.60 432.90,53.85 C433.67,52.10 434.43,52.99 435.20,51.47 C435.97,49.94 436.73,46.24 437.50,44.68 C438.27,43.12 439.03,43.13 439.80,42.12 C440.57,41.11 441.33,40.02 442.10,38.60 C442.87,37.18 443.63,34.00 444.40,33.57 C445.17,33.15 445.93,35.19 446.70,36.06 C447.47,36.93 448.23,37.06 449.00,38.80 C449.77,40.53 450.53,44.43 451.30,46.44 C452.07,48.45 452.83,49.56 453.60,50.86 C454.37,52.16 455.13,52.73 455.90,54.25 C456.67,55.76 457.43,57.66 458.20,59.97 C458.97,62.27 459.73,64.26 460.50,68.08 C461.27,71.90 462.03,79.12 462.80,82.88 C463.57,86.63 464.33,88.40 465.10,90.59 C465.87,92.79 466.63,94.87 467.40,96.04 C468.17,97.20 468.93,97.85 469.70,97.60 C470.47,97.35 471.23,95.04 472.00,94.56 C472.77,94.08 473.53,94.31 474.30,94.72 C475.07,95.14 475.83,96.71 476.60,97.05 C477.37,97.39 478.13,96.98 478.90,96.77 C479.67,96.57 480.43,96.05 481.20,95.83 C481.97,95.60 482.73,95.73 483.50,95.44 C484.27,95.15 485.42,94.32 485.80,94.10" fill="none" stroke="#8c8c8c" stroke-width="1.2" stroke-linejoin="round"/>
<path d="M320.20,98.19 C320.58,97.95 321.73,96.74 322.50,96.76 C323.27,96.77 324.03,97.53 324.80,98.28 C325.57,99.02 326.33,100.30 327.10,101.24 C327.87,102.17 328.63,103.32 329.40,103.89 C330.17,104.45 330.93,104.83 331.70,104.62 C332.47,104.41 333.23,103.70 334.00,102.63 C334.77,101.55 335.53,98.85 336.30,98.19 C337.07,97.52 337.83,98.50 338.60,98.64 C339.37,98.79 340.13,99.02 340.90,99.05 C341.67,99.08 342.43,98.86 343.20,98.80 C343.97,98.73 344.73,98.44 345.50,98.68 C346.27,98.91 347.03,99.65 347.80,100.22 C348.57,100.78 349.33,101.87 350.10,102.06 C350.87,102.25 351.63,101.52 352.40,101.33 C353.17,101.14 353.93,101.28 354.70,100.92 C355.47,100.55 356.23,100.97 357.00,99.14 C357.77,97.32 358.53,92.51 359.30,89.97 C360.07,87.43 360.83,84.35 361.60,83.90 C362.37,83.45 363.13,86.64 363.90,87.26 C364.67,87.88 365.43,88.10 366.20,87.61 C366.97,87.13 367.73,85.75 368.50,84.35 C369.27,82.95 370.03,81.17 370.80,79.21 C371.57,77.24 372.33,73.95 373.10,72.55 C373.87,71.15 374.63,70.61 375.40,70.81 C376.17,71.01 376.93,74.88 377.70,73.76 C378.47,72.64 379.23,66.12 380.00,64.07 C380.77,62.02 381.53,60.93 382.30,61.44 C383.07,61.96 383.83,64.46 384.60,67.16 C385.37,69.87 386.13,74.88 386.90,77.68 C387.67,80.48 388.43,81.65 389.20,83.98 C389.97,86.30 390.73,90.20 391.50,91.64 C392.27,93.08 393.03,93.38 393.80,92.60 C394.57,91.81 395.33,91.56 396.10,86.91 C396.87,82.26 397.63,71.13 398.40,64.69 C399.17,58.24 399.93,51.43 400.70,48.22 C401.47,45.00 402.23,46.73 403.00,45.38 C403.77,44.02 404.53,41.49 405.30,40.08 C406.07,38.66 406.83,36.87 407.60,36.88 C408.37,36.89 409.13,38.66 409.90,40.13 C410.67,41.60 411.43,44.52 412.20,45.70 C412.97,46.88 413.73,46.20 414.50,47.21 C415.27,48.22 416.03,50.54 416.80,51.77 C417.57,53.00 418.33,51.38 419.10,54.60 C419.87,57.81 420.63,71.14 421.40,71.03 C422.17,70.93 422.93,56.17 423.70,53.94 C424.47,51.72 425.23,56.17 426.00,57.67 C426.77,59.18 427.53,61.67 428.30,62.98 C429.07,64.28 429.83,65.68 430.60,65.51 C431.37,65.34 432.13,63.99 432.90,61.97 C433.67,59.95 434.43,56.10 435.20,53.37 C435.97,50.65 436.73,47.08 437.50,45.64 C438.27,44.20 439.03,45.16 439.80,44.76 C440.57,44.36 441.33,43.69 442.10,43.24 C442.87,42.80 443.63,42.55 444.40,42.11 C445.17,41.67 445.93,40.77 446.70,40.60 C447.47,40.43 448.23,39.66 449.00,41.09 C449.77,42.51 450.53,46.16 451.30,49.14 C452.07,52.13 452.83,56.66 453.60,59.00 C454.37,61.33 455.13,61.33 455.90,63.16 C456.67,64.99 457.43,67.25 458.20,69.98 C458.97,72.70 459.73,77.52 460.50,79.50 C461.27,81.49 462.03,81.63 462.80,81.89 C463.57,82.14 464.33,79.19 465.10,81.02 C465.87,82.85 466.63,89.91 467.40,92.85 C468.17,95.79 468.93,97.32 469.70,98.64 C470.47,99.97 471.23,100.22 472.00,100.78 C472.77,101.33 473.53,101.88 474.30,101.97 C475.07,102.07 475.83,101.83 476.60,101.35 C477.37,100.86 478.13,100.01 478.90,99.04 C479.67,98.07 480.43,95.86 481.20,95.51 C481.97,95.16 482.73,96.52 483.50,96.94 C484.27,97.35 485.42,97.82 485.80,98.00" fill="none" stroke="#8c8c8c" stroke-width="1.2" stroke-linejoin="round"/>
<path d="M320.20,95.69 C320.58,96.11 321.73,97.49 322.50,98.23 C323.27,98.96 324.03,99.41 324.80,100.08 C325.57,100.75 326.33,101.67 327.10,102.27 C327.87,102.87 328.63,103.42 329.40,103.67 C330.17,103.92 330.93,103.99 331.70,103.76 C332.47,103.54 333.23,103.51 334.00,102.31 C334.77,101.12 335.53,97.45 336.30,96.59 C337.07,95.73 337.83,97.03 338.60,97.15 C339.37,97.27 340.13,96.80 340.90,97.31 C341.67,97.82 342.43,99.65 343.20,100.23 C343.97,100.80 344.73,100.60 345.50,100.75 C346.27,100.91 347.03,101.19 347.80,101.18 C348.57,101.17 349.33,100.73 350.10,100.67 C350.87,100.61 351.63,101.02 352.40,100.82 C353.17,100.62 353.93,99.97 354.70,99.47 C355.47,98.97 356.23,99.51 357.00,97.84 C357.77,96.17 358.53,92.23 359.30,89.47 C360.07,86.72 360.83,82.13 361.60,81.32 C362.37,80.51 363.13,83.56 363.90,84.62 C364.67,85.68 365.43,87.09 366.20,87.70 C366.97,88.30 367.73,88.06 368.50,88.24 C369.27,88.43 370.03,88.48 370.80,88.80 C371.57,89.12 372.33,90.79 373.10,90.15 C373.87,89.51 374.63,87.51 375.40,84.95 C376.17,82.40 376.93,77.47 377.70,74.83 C378.47,72.19 379.23,71.26 380.00,69.11 C380.77,66.96 381.53,62.97 382.30,61.94 C383.07,60.90 383.83,60.59 384.60,62.92 C385.37,65.24 386.13,72.09 386.90,75.91 C387.67,79.72 388.43,83.11 389.20,85.80 C389.97,88.50 390.73,92.05 391.50,92.08 C392.27,92.10 393.03,88.58 393.80,85.96 C394.57,83.34 395.33,78.83 396.10,76.38 C396.87,73.92 397.63,74.76 398.40,71.22 C399.17,67.68 399.93,59.32 400.70,55.15 C401.47,50.99 402.23,48.08 403.00,46.23 C403.77,44.37 404.53,44.80 405.30,44.03 C406.07,43.27 406.83,42.32 407.60,41.63 C408.37,40.95 409.13,40.37 409.90,39.91 C410.67,39.46 411.43,38.89 412.20,38.89 C412.97,38.89 413.73,37.79 414.50,39.91 C415.27,42.03 416.03,46.23 416.80,51.62 C417.57,57.01 418.33,71.05 419.10,72.25 C419.87,73.46 420.63,62.15 421.40,58.83 C422.17,55.51 422.93,53.16 423.70,52.31 C424.47,51.46 425.23,52.50 426.00,53.73 C426.77,54.97 427.53,58.14 428.30,59.71 C429.07,61.28 429.83,62.19 430.60,63.14 C431.37,64.09 432.13,67.60 432.90,65.42 C433.67,63.24 434.43,53.65 435.20,50.07 C435.97,46.50 436.73,45.21 437.50,43.97 C438.27,42.72 439.03,43.16 439.80,42.59 C440.57,42.03 441.33,41.72 442.10,40.58 C442.87,39.43 443.63,35.81 444.40,35.73 C445.17,35.64 445.93,38.60 446.70,40.07 C447.47,41.54 448.23,43.88 449.00,44.55 C449.77,45.23 450.53,44.24 451.30,44.13 C452.07,44.03 452.83,43.57 453.60,43.94 C454.37,44.32 455.13,44.11 455.90,46.37 C456.67,48.62 457.43,52.01 458.20,57.45 C458.97,62.89 459.73,73.77 460.50,79.02 C461.27,84.26 462.03,86.05 462.80,88.92 C463.57,91.79 464.33,95.02 465.10,96.22 C465.87,97.42 466.63,95.94 467.40,96.13 C468.17,96.31 468.93,97.25 469.70,97.34 C470.47,97.42 471.23,96.52 472.00,96.63 C472.77,96.73 473.53,97.02 474.30,97.97 C475.07,98.93 475.83,101.39 476.60,102.35 C477.37,103.32 478.13,104.21 478.90,103.78 C479.67,103.36 480.43,100.84 481.20,99.80 C481.97,98.76 482.73,98.14 483.50,97.55 C484.27,96.97 485.42,96.50 485.80,96.29" fill="none" stroke="#8c8c8c" stroke-width="1.2" stroke-linejoin="round"/>
<path d="M320.20,101.13 C320.58,100.67 321.73,98.99 322.50,98.35 C323.27,97.71 324.03,97.14 324.80,97.27 C325.57,97.40 326.33,98.49 327.10,99.14 C327.87,99.80 328.63,100.83 329.40,101.20 C330.17,101.56 330.93,101.18 331.70,101.35 C332.47,101.52 333.23,101.78 334.00,102.23 C334.77,102.67 335.53,104.16 336.30,104.02 C337.07,103.87 337.83,102.47 338.60,101.34 C339.37,100.21 340.13,97.53 340.90,97.25 C341.67,96.96 342.43,98.85 343.20,99.64 C343.97,100.42 344.73,102.15 345.50,101.97 C346.27,101.80 347.03,99.52 347.80,98.61 C348.57,97.69 349.33,96.43 350.10,96.49 C350.87,96.56 351.63,99.13 352.40,99.00 C353.17,98.86 353.93,96.21 354.70,95.67 C355.47,95.13 356.23,96.82 357.00,95.74 C357.77,94.67 358.53,90.28 359.30,89.23 C360.07,88.18 360.83,89.22 361.60,89.47 C362.37,89.72 363.13,90.30 363.90,90.71 C364.67,91.12 365.43,93.53 366.20,91.91 C366.97,90.30 367.73,83.75 368.50,81.03 C369.27,78.32 370.03,77.32 370.80,75.64 C371.57,73.96 372.33,72.57 373.10,70.96 C373.87,69.35 374.63,67.42 375.40,65.96 C376.17,64.51 376.93,63.19 377.70,62.25 C378.47,61.31 379.23,59.82 380.00,60.30 C380.77,60.78 381.53,61.83 382.30,65.13 C383.07,68.43 383.83,75.82 384.60,80.08 C385.37,84.33 386.13,88.58 386.90,90.66 C387.67,92.75 388.43,92.74 389.20,92.60 C389.97,92.46 390.73,90.22 391.50,89.82 C392.27,89.42 393.03,92.82 393.80,90.20 C394.57,87.58 395.33,81.10 396.10,74.09 C396.87,67.08 397.63,53.29 398.40,48.13 C399.17,42.98 399.93,43.78 400.70,43.17 C401.47,42.56 402.23,45.18 403.00,44.47 C403.77,43.76 404.53,39.97 405.30,38.93 C406.07,37.88 406.83,38.64 407.60,38.22 C408.37,37.80 409.13,36.80 409.90,36.42 C410.67,36.04 411.43,34.85 412.20,35.91 C412.97,36.98 413.73,40.19 414.50,42.81 C415.27,45.43 416.03,48.05 416.80,51.63 C417.57,55.21 418.33,61.75 419.10,64.31 C419.87,66.87 420.63,68.48 421.40,67.00 C422.17,65.52 422.93,56.65 423.70,55.43 C424.47,54.21 425.23,57.85 426.00,59.66 C426.77,61.47 427.53,65.19 428.30,66.29 C429.07,67.39 429.83,67.87 430.60,66.24 C431.37,64.61 432.13,59.95 432.90,56.51 C433.67,53.07 434.43,48.52 435.20,45.60 C435.97,42.69 436.73,40.86 437.50,39.02 C438.27,37.18 439.03,35.28 439.80,34.59 C440.57,33.90 441.33,34.39 442.10,34.90 C442.87,35.40 443.63,36.92 444.40,37.61 C445.17,38.29 445.93,38.34 446.70,39.01 C447.47,39.69 448.23,40.99 449.00,41.68 C449.77,42.37 450.53,41.36 451.30,43.16 C452.07,44.95 452.83,49.37 453.60,52.47 C454.37,55.57 455.13,58.71 455.90,61.74 C456.67,64.77 457.43,67.46 458.20,70.66 C458.97,73.86 459.73,78.48 460.50,80.94 C461.27,83.39 462.03,84.09 462.80,85.38 C463.57,86.67 464.33,87.44 465.10,88.68 C465.87,89.92 466.63,91.59 467.40,92.80 C468.17,94.01 468.93,94.80 469.70,95.94 C470.47,97.08 471.23,98.66 472.00,99.65 C472.77,100.64 473.53,101.37 474.30,101.88 C475.07,102.40 475.83,102.59 476.60,102.74 C477.37,102.88 478.13,103.17 478.90,102.75 C479.67,102.33 480.43,100.50 481.20,100.21 C481.97,99.92 482.73,100.77 483.50,101.01 C484.27,101.25 485.42,101.54 485.80,101.65" fill="none" stroke="#8c8c8c" stroke-width="1.2" stroke-linejoin="round"/>
<path d="M320.20,102.90 C320.58,102.96 321.73,103.23 322.50,103.26 C323.27,103.29 324.03,103.02 324.80,103.07 C325.57,103.12 326.33,103.70 327.10,103.55 C327.87,103.41 328.63,102.85 329.40,102.19 C330.17,101.53 330.93,100.17 331.70,99.58 C332.47,98.99 333.23,98.81 334.00,98.65 C334.77,98.49 335.53,98.45 336.30,98.62 C337.07,98.80 337.83,99.03 338.60,99.71 C339.37,100.38 340.13,102.70 340.90,102.67 C341.67,102.63 342.43,100.09 343.20,99.51 C343.97,98.92 344.73,99.44 345.50,99.16 C346.27,98.88 347.03,98.03 347.80,97.82 C348.57,97.62 349.33,97.90 350.10,97.93 C350.87,97.96 351.63,98.30 352.40,97.98 C353.17,97.67 353.93,96.50 354.70,96.03 C355.47,95.57 356.23,95.20 357.00,95.21 C357.77,95.21 358.53,96.19 359.30,96.08 C360.07,95.98 360.83,95.85 361.60,94.56 C362.37,93.26 363.13,90.81 363.90,88.30 C364.67,85.78 365.43,80.80 366.20,79.49 C366.97,78.17 367.73,79.70 368.50,80.42 C369.27,81.15 370.03,83.50 370.80,83.85 C371.57,84.20 372.33,83.62 373.10,82.51 C373.87,81.39 374.63,79.18 375.40,77.17 C376.17,75.16 376.93,72.18 377.70,70.44 C378.47,68.70 379.23,67.44 380.00,66.74 C380.77,66.04 381.53,65.00 382.30,66.23 C383.07,67.46 383.83,71.10 384.60,74.12 C385.37,77.15 386.13,81.04 386.90,84.37 C387.67,87.70 388.43,93.03 389.20,94.10 C389.97,95.17 390.73,92.48 391.50,90.81 C392.27,89.14 393.03,86.65 393.80,84.08 C394.57,81.51 395.33,77.42 396.10,75.37 C396.87,73.33 397.63,74.63 398.40,71.81 C399.17,68.99 399.93,62.37 400.70,58.47 C401.47,54.56 402.23,50.80 403.00,48.38 C403.77,45.96 404.53,45.68 405.30,43.94 C406.07,42.21 406.83,38.76 407.60,37.97 C408.37,37.19 409.13,38.78 409.90,39.23 C410.67,39.69 411.43,39.59 412.20,40.70 C412.97,41.81 413.73,44.83 414.50,45.89 C415.27,46.95 416.03,46.68 416.80,47.06 C417.57,47.45 418.33,44.72 419.10,48.20 C419.87,51.68 420.63,65.98 421.40,67.93 C422.17,69.87 422.93,61.61 423.70,59.89 C424.47,58.16 425.23,56.73 426.00,57.58 C426.77,58.42 427.53,64.41 428.30,64.96 C429.07,65.51 429.83,63.40 430.60,60.87 C431.37,58.33 432.13,52.25 432.90,49.74 C433.67,47.24 434.43,46.57 435.20,45.83 C435.97,45.10 436.73,45.60 437.50,45.31 C438.27,45.02 439.03,44.84 439.80,44.10 C440.57,43.37 441.33,41.69 442.10,40.91 C442.87,40.13 443.63,39.51 444.40,39.44 C445.17,39.36 445.93,40.15 446.70,40.47 C447.47,40.78 448.23,41.31 449.00,41.34 C449.77,41.36 450.53,40.15 451.30,40.61 C452.07,41.07 452.83,42.52 453.60,44.11 C454.37,45.69 455.13,47.25 455.90,50.13 C456.67,53.01 457.43,57.06 458.20,61.38 C458.97,65.70 459.73,72.54 460.50,76.04 C461.27,79.54 462.03,80.61 462.80,82.37 C463.57,84.14 464.33,84.87 465.10,86.62 C465.87,88.37 466.63,91.34 467.40,92.89 C468.17,94.44 468.93,95.13 469.70,95.91 C470.47,96.69 471.23,97.06 472.00,97.58 C472.77,98.11 473.53,99.29 474.30,99.07 C475.07,98.85 475.83,96.91 476.60,96.25 C477.37,95.60 478.13,94.86 478.90,95.13 C479.67,95.40 480.43,97.15 481.20,97.90 C481.97,98.65 482.73,99.15 483.50,99.63 C484.27,100.10 485.42,100.55 485.80,100.73" fill="none" stroke="#8c8c8c" stroke-width="1.2" stroke-linejoin="round"/>
<path d="M320.20,101.51 C320.58,101.38 321.73,100.93 322.50,100.73 C323.27,100.53 324.03,100.98 324.80,100.33 C325.57,99.68 326.33,97.43 327.10,96.85 C327.87,96.27 328.63,96.52 329.40,96.85 C330.17,97.18 330.93,98.52 331.70,98.81 C332.47,99.10 333.23,98.76 334.00,98.59 C334.77,98.41 335.53,97.39 336.30,97.76 C337.07,98.13 337.83,99.91 338.60,100.81 C339.37,101.72 340.13,102.98 340.90,103.17 C341.67,103.37 342.43,102.21 343.20,101.98 C343.97,101.75 344.73,101.63 345.50,101.78 C346.27,101.94 347.03,102.56 347.80,102.90 C348.57,103.24 349.33,104.30 350.10,103.80 C350.87,103.30 351.63,101.15 352.40,99.91 C353.17,98.68 353.93,97.06 354.70,96.38 C355.47,95.71 356.23,96.25 357.00,95.88 C357.77,95.51 358.53,94.09 359.30,94.15 C360.07,94.21 360.83,95.43 361.60,96.25 C362.37,97.07 363.13,98.77 363.90,99.06 C364.67,99.34 365.43,99.14 366.20,97.97 C366.97,96.80 367.73,93.65 368.50,92.03 C369.27,90.42 370.03,89.13 370.80,88.27 C371.57,87.41 372.33,87.75 373.10,86.87 C373.87,85.98 374.63,84.76 375.40,82.96 C376.17,81.17 376.93,79.36 377.70,76.09 C378.47,72.82 379.23,66.35 380.00,63.35 C380.77,60.35 381.53,58.10 382.30,58.09 C383.07,58.09 383.83,60.80 384.60,63.32 C385.37,65.84 386.13,69.72 386.90,73.21 C387.67,76.69 388.43,81.27 389.20,84.24 C389.97,87.20 390.73,88.97 391.50,91.01 C392.27,93.05 393.03,96.83 393.80,96.50 C394.57,96.17 395.33,94.08 396.10,89.01 C396.87,83.93 397.63,72.75 398.40,66.03 C399.17,59.32 399.93,53.39 400.70,48.71 C401.47,44.04 402.23,39.81 403.00,37.99 C403.77,36.17 404.53,37.57 405.30,37.80 C406.07,38.03 406.83,39.52 407.60,39.39 C408.37,39.26 409.13,36.97 409.90,37.03 C410.67,37.10 411.43,39.21 412.20,39.78 C412.97,40.34 413.73,39.38 414.50,40.42 C415.27,41.46 416.03,42.51 416.80,46.03 C417.57,49.54 418.33,58.80 419.10,61.50 C419.87,64.20 420.63,62.98 421.40,62.21 C422.17,61.45 422.93,58.15 423.70,56.93 C424.47,55.71 425.23,54.61 426.00,54.90 C426.77,55.18 427.53,56.87 428.30,58.61 C429.07,60.36 429.83,66.33 430.60,65.35 C431.37,64.36 432.13,55.30 432.90,52.70 C433.67,50.09 434.43,51.40 435.20,49.73 C435.97,48.06 436.73,45.04 437.50,42.68 C438.27,40.32 439.03,36.31 439.80,35.56 C440.57,34.82 441.33,37.19 442.10,38.21 C442.87,39.24 443.63,41.49 444.40,41.70 C445.17,41.91 445.93,40.20 446.70,39.48 C447.47,38.76 448.23,36.64 449.00,37.38 C449.77,38.12 450.53,41.77 451.30,43.92 C452.07,46.07 452.83,48.63 453.60,50.27 C454.37,51.91 455.13,51.85 455.90,53.75 C456.67,55.66 457.43,58.46 458.20,61.69 C458.97,64.93 459.73,69.55 460.50,73.15 C461.27,76.75 462.03,80.54 462.80,83.31 C463.57,86.08 464.33,88.01 465.10,89.78 C465.87,91.55 466.63,92.51 467.40,93.92 C468.17,95.32 468.93,97.09 469.70,98.21 C470.47,99.32 471.23,100.24 472.00,100.59 C472.77,100.94 473.53,100.69 474.30,100.33 C475.07,99.96 475.83,98.33 476.60,98.39 C477.37,98.45 478.13,99.70 478.90,100.67 C479.67,101.63 480.43,104.02 481.20,104.15 C481.97,104.29 482.73,102.19 483.50,101.45 C484.27,100.71 485.42,100.02 485.80,99.73" fill="none" stroke="#8c8c8c" stroke-width="1.2" stroke-linejoin="round"/>
<path d="M320.20,97.16 C320.58,97.12 321.73,96.75 322.50,96.94 C323.27,97.14 324.03,98.16 324.80,98.31 C325.57,98.47 326.33,97.97 327.10,97.89 C327.87,97.81 328.63,98.11 329.40,97.81 C330.17,97.52 330.93,96.18 331.70,96.12 C332.47,96.06 333.23,97.09 334.00,97.45 C334.77,97.80 335.53,97.61 336.30,98.25 C337.07,98.89 337.83,100.51 338.60,101.27 C339.37,102.04 340.13,102.77 340.90,102.83 C341.67,102.90 342.43,102.25 343.20,101.66 C343.97,101.07 344.73,99.47 345.50,99.31 C346.27,99.14 347.03,100.49 347.80,100.68 C348.57,100.88 349.33,100.47 350.10,100.48 C350.87,100.48 351.63,101.23 352.40,100.70 C353.17,100.17 353.93,98.07 354.70,97.31 C355.47,96.54 356.23,96.60 357.00,96.11 C357.77,95.61 358.53,94.49 359.30,94.34 C360.07,94.20 360.83,95.82 361.60,95.25 C362.37,94.67 363.13,92.43 363.90,90.90 C364.67,89.37 365.43,86.76 366.20,86.04 C366.97,85.32 367.73,86.52 368.50,86.58 C369.27,86.63 370.03,86.61 370.80,86.37 C371.57,86.13 372.33,86.30 373.10,85.13 C373.87,83.97 374.63,82.57 375.40,79.40 C376.17,76.22 376.93,68.48 377.70,66.08 C378.47,63.67 379.23,63.36 380.00,65.00 C380.77,66.63 381.53,74.18 382.30,75.87 C383.07,77.55 383.83,74.78 384.60,75.08 C385.37,75.39 386.13,75.23 386.90,77.68 C387.67,80.13 388.43,87.01 389.20,89.79 C389.97,92.57 390.73,94.00 391.50,94.35 C392.27,94.69 393.03,93.73 393.80,91.85 C394.57,89.98 395.33,87.48 396.10,83.09 C396.87,78.71 397.63,70.30 398.40,65.54 C399.17,60.78 399.93,57.45 400.70,54.55 C401.47,51.64 402.23,49.86 403.00,48.12 C403.77,46.38 404.53,45.19 405.30,44.11 C406.07,43.03 406.83,42.54 407.60,41.64 C408.37,40.73 409.13,38.85 409.90,38.67 C410.67,38.49 411.43,39.81 412.20,40.55 C412.97,41.29 413.73,42.10 414.50,43.12 C415.27,44.13 416.03,42.82 416.80,46.64 C417.57,50.45 418.33,62.28 419.10,66.00 C419.87,69.73 420.63,68.59 421.40,68.99 C422.17,69.40 422.93,70.39 423.70,68.45 C424.47,66.51 425.23,60.02 426.00,57.36 C426.77,54.69 427.53,51.07 428.30,52.46 C429.07,53.84 429.83,64.38 430.60,65.66 C431.37,66.94 432.13,63.52 432.90,60.12 C433.67,56.72 434.43,48.91 435.20,45.26 C435.97,41.61 436.73,39.68 437.50,38.22 C438.27,36.76 439.03,36.37 439.80,36.51 C440.57,36.66 441.33,38.07 442.10,39.10 C442.87,40.14 443.63,42.15 444.40,42.71 C445.17,43.28 445.93,42.65 446.70,42.52 C447.47,42.40 448.23,41.99 449.00,41.98 C449.77,41.98 450.53,42.03 451.30,42.50 C452.07,42.97 452.83,43.26 453.60,44.81 C454.37,46.35 455.13,48.56 455.90,51.77 C456.67,54.98 457.43,60.33 458.20,64.07 C458.97,67.81 459.73,71.33 460.50,74.19 C461.27,77.06 462.03,79.49 462.80,81.27 C463.57,83.05 464.33,83.05 465.10,84.87 C465.87,86.68 466.63,90.03 467.40,92.15 C468.17,94.28 468.93,96.76 469.70,97.61 C470.47,98.47 471.23,97.29 472.00,97.28 C472.77,97.26 473.53,97.20 474.30,97.53 C475.07,97.87 475.83,98.87 476.60,99.29 C477.37,99.70 478.13,99.66 478.90,100.04 C479.67,100.41 480.43,102.16 481.20,101.56 C481.97,100.95 482.73,97.84 483.50,96.43 C484.27,95.03 485.42,93.67 485.80,93.12" fill="none" stroke="#8c8c8c" stroke-width="1.2" stroke-linejoin="round"/>
<path d="M320.20,97.18 C320.58,97.72 321.73,99.80 322.50,100.44 C323.27,101.07 324.03,101.51 324.80,101.00 C325.57,100.48 326.33,97.78 327.10,97.36 C327.87,96.94 328.63,97.67 329.40,98.46 C330.17,99.26 330.93,101.23 331.70,102.12 C332.47,103.02 333.23,104.27 334.00,103.83 C334.77,103.39 335.53,99.86 336.30,99.49 C337.07,99.11 337.83,100.88 338.60,101.57 C339.37,102.27 340.13,103.68 340.90,103.65 C341.67,103.62 342.43,101.86 343.20,101.41 C343.97,100.96 344.73,101.12 345.50,100.96 C346.27,100.80 347.03,100.61 347.80,100.47 C348.57,100.34 349.33,100.45 350.10,100.16 C350.87,99.87 351.63,99.64 352.40,98.75 C353.17,97.86 353.93,96.54 354.70,94.84 C355.47,93.13 356.23,89.48 357.00,88.51 C357.77,87.55 358.53,88.34 359.30,89.03 C360.07,89.71 360.83,92.44 361.60,92.63 C362.37,92.83 363.13,90.87 363.90,90.21 C364.67,89.55 365.43,89.32 366.20,88.66 C366.97,88.00 367.73,86.64 368.50,86.24 C369.27,85.85 370.03,86.58 370.80,86.30 C371.57,86.02 372.33,86.40 373.10,84.57 C373.87,82.74 374.63,79.15 375.40,75.32 C376.17,71.49 376.93,63.89 377.70,61.59 C378.47,59.30 379.23,61.28 380.00,61.53 C380.77,61.79 381.53,61.07 382.30,63.13 C383.07,65.18 383.83,69.61 384.60,73.84 C385.37,78.07 386.13,84.70 386.90,88.50 C387.67,92.31 388.43,96.27 389.20,96.66 C389.97,97.04 390.73,93.58 391.50,90.81 C392.27,88.04 393.03,83.81 393.80,80.05 C394.57,76.28 395.33,71.33 396.10,68.23 C396.87,65.12 397.63,64.52 398.40,61.43 C399.17,58.34 399.93,53.10 400.70,49.68 C401.47,46.27 402.23,42.81 403.00,40.93 C403.77,39.05 404.53,38.91 405.30,38.39 C406.07,37.87 406.83,37.84 407.60,37.82 C408.37,37.81 409.13,38.24 409.90,38.30 C410.67,38.37 411.43,36.67 412.20,38.22 C412.97,39.77 413.73,43.50 414.50,47.60 C415.27,51.69 416.03,58.82 416.80,62.76 C417.57,66.70 418.33,69.69 419.10,71.24 C419.87,72.78 420.63,73.42 421.40,72.03 C422.17,70.64 422.93,65.46 423.70,62.90 C424.47,60.35 425.23,56.38 426.00,56.71 C426.77,57.04 427.53,63.48 428.30,64.88 C429.07,66.29 429.83,66.32 430.60,65.13 C431.37,63.94 432.13,59.87 432.90,57.75 C433.67,55.63 434.43,54.12 435.20,52.42 C435.97,50.72 436.73,49.07 437.50,47.54 C438.27,46.02 439.03,44.70 439.80,43.27 C440.57,41.84 441.33,39.45 442.10,38.98 C442.87,38.50 443.63,40.12 444.40,40.43 C445.17,40.73 445.93,40.59 446.70,40.81 C447.47,41.02 448.23,41.09 449.00,41.71 C449.77,42.34 450.53,43.69 451.30,44.54 C452.07,45.40 452.83,46.63 453.60,46.83 C454.37,47.02 455.13,43.98 455.90,45.71 C456.67,47.44 457.43,51.80 458.20,57.23 C458.97,62.65 459.73,73.70 460.50,78.27 C461.27,82.84 462.03,83.47 462.80,84.63 C463.57,85.79 464.33,83.74 465.10,85.22 C465.87,86.70 466.63,91.33 467.40,93.52 C468.17,95.70 468.93,97.73 469.70,98.33 C470.47,98.94 471.23,97.26 472.00,97.16 C472.77,97.06 473.53,96.96 474.30,97.74 C475.07,98.53 475.83,101.39 476.60,101.89 C477.37,102.38 478.13,102.20 478.90,100.70 C479.67,99.20 480.43,93.91 481.20,92.87 C481.97,91.84 482.73,93.63 483.50,94.48 C484.27,95.34 485.42,97.43 485.80,98.02" fill="none" stroke="#8c8c8c" stroke-width="1.2" stroke-linejoin="round"/>
<path d="M320.20,102.10 C320.58,101.67 321.73,100.48 322.50,99.52 C323.27,98.57 324.03,96.51 324.80,96.36 C325.57,96.20 326.33,98.02 327.10,98.60 C327.87,99.18 328.63,99.47 329.40,99.83 C330.17,100.19 330.93,100.20 331.70,100.76 C332.47,101.33 333.23,102.70 334.00,103.22 C334.77,103.74 335.53,104.44 336.30,103.90 C337.07,103.37 337.83,101.35 338.60,100.02 C339.37,98.69 340.13,96.41 340.90,95.92 C341.67,95.44 342.43,96.57 343.20,97.09 C343.97,97.62 344.73,99.00 345.50,99.08 C346.27,99.15 347.03,97.67 347.80,97.54 C348.57,97.42 349.33,98.30 350.10,98.33 C350.87,98.36 351.63,97.57 352.40,97.73 C353.17,97.88 353.93,99.38 354.70,99.28 C355.47,99.18 356.23,97.95 357.00,97.13 C357.77,96.30 358.53,95.16 359.30,94.35 C360.07,93.53 360.83,92.07 361.60,92.23 C362.37,92.40 363.13,94.76 363.90,95.34 C364.67,95.92 365.43,97.20 366.20,95.70 C366.97,94.21 367.73,88.92 368.50,86.39 C369.27,83.85 370.03,81.09 370.80,80.49 C371.57,79.89 372.33,83.27 373.10,82.79 C373.87,82.31 374.63,80.06 375.40,77.60 C376.17,75.13 376.93,70.54 377.70,68.00 C378.47,65.46 379.23,63.12 380.00,62.36 C380.77,61.60 381.53,61.42 382.30,63.42 C383.07,65.43 383.83,70.40 384.60,74.40 C385.37,78.40 386.13,84.33 386.90,87.44 C387.67,90.54 388.43,92.05 389.20,93.02 C389.97,93.99 390.73,94.03 391.50,93.24 C392.27,92.46 393.03,91.21 393.80,88.31 C394.57,85.41 395.33,81.28 396.10,75.84 C396.87,70.40 397.63,61.18 398.40,55.65 C399.17,50.12 399.93,45.44 400.70,42.68 C401.47,39.92 402.23,39.24 403.00,39.09 C403.77,38.94 404.53,41.02 405.30,41.77 C406.07,42.52 406.83,43.94 407.60,43.58 C408.37,43.23 409.13,40.33 409.90,39.64 C410.67,38.95 411.43,38.68 412.20,39.45 C412.97,40.22 413.73,42.72 414.50,44.27 C415.27,45.83 416.03,46.96 416.80,48.78 C417.57,50.60 418.33,51.72 419.10,55.21 C419.87,58.69 420.63,68.69 421.40,69.69 C422.17,70.68 422.93,63.90 423.70,61.18 C424.47,58.46 425.23,54.57 426.00,53.37 C426.77,52.16 427.53,52.73 428.30,53.95 C429.07,55.17 429.83,61.25 430.60,60.70 C431.37,60.15 432.13,53.03 432.90,50.65 C433.67,48.26 434.43,48.26 435.20,46.41 C435.97,44.55 436.73,41.47 437.50,39.53 C438.27,37.59 439.03,35.14 439.80,34.77 C440.57,34.39 441.33,36.13 442.10,37.29 C442.87,38.44 443.63,41.09 444.40,41.70 C445.17,42.31 445.93,40.95 446.70,40.96 C447.47,40.96 448.23,41.31 449.00,41.72 C449.77,42.13 450.53,42.50 451.30,43.41 C452.07,44.32 452.83,44.17 453.60,47.17 C454.37,50.17 455.13,57.27 455.90,61.41 C456.67,65.55 457.43,68.50 458.20,72.01 C458.97,75.52 459.73,79.60 460.50,82.47 C461.27,85.35 462.03,87.57 462.80,89.27 C463.57,90.98 464.33,91.49 465.10,92.70 C465.87,93.91 466.63,95.38 467.40,96.54 C468.17,97.70 468.93,99.44 469.70,99.68 C470.47,99.92 471.23,98.15 472.00,97.99 C472.77,97.83 473.53,98.99 474.30,98.72 C475.07,98.45 475.83,96.73 476.60,96.37 C477.37,96.01 478.13,95.86 478.90,96.57 C479.67,97.29 480.43,100.38 481.20,100.68 C481.97,100.98 482.73,99.68 483.50,98.36 C484.27,97.04 485.42,93.67 485.80,92.74" fill="none" stroke="#8c8c8c" stroke-width="1.2" stroke-linejoin="round"/>
<path d="M320.20,100.60 C320.58,100.60 321.73,100.82 322.50,100.61 C323.27,100.40 324.03,99.54 324.80,99.32 C325.57,99.11 326.33,99.48 327.10,99.32 C327.87,99.16 328.63,98.67 329.40,98.35 C330.17,98.02 330.93,97.52 331.70,97.38 C332.47,97.25 333.23,97.60 334.00,97.54 C334.77,97.47 335.53,96.96 336.30,97.00 C337.07,97.04 337.83,97.15 338.60,97.78 C339.37,98.41 340.13,100.26 340.90,100.81 C341.67,101.35 342.43,101.28 343.20,101.05 C343.97,100.82 344.73,100.04 345.50,99.45 C346.27,98.87 347.03,97.89 347.80,97.55 C348.57,97.21 349.33,96.87 350.10,97.42 C350.87,97.98 351.63,100.04 352.40,100.88 C353.17,101.73 353.93,102.61 354.70,102.48 C355.47,102.36 356.23,102.20 357.00,100.15 C357.77,98.09 358.53,92.43 359.30,90.17 C360.07,87.92 360.83,86.60 361.60,86.62 C362.37,86.63 363.13,89.06 363.90,90.25 C364.67,91.44 365.43,94.13 366.20,93.75 C366.97,93.37 367.73,89.63 368.50,87.97 C369.27,86.31 370.03,85.01 370.80,83.82 C371.57,82.63 372.33,81.67 373.10,80.82 C373.87,79.98 374.63,80.03 375.40,78.73 C376.17,77.43 376.93,75.64 377.70,73.02 C378.47,70.40 379.23,63.90 380.00,63.00 C380.77,62.10 381.53,66.66 382.30,67.63 C383.07,68.61 383.83,67.53 384.60,68.86 C385.37,70.19 386.13,71.56 386.90,75.62 C387.67,79.67 388.43,90.83 389.20,93.18 C389.97,95.53 390.73,91.21 391.50,89.71 C392.27,88.21 393.03,86.68 393.80,84.19 C394.57,81.70 395.33,77.72 396.10,74.80 C396.87,71.87 397.63,69.63 398.40,66.65 C399.17,63.67 399.93,59.74 400.70,56.91 C401.47,54.07 402.23,52.26 403.00,49.65 C403.77,47.03 404.53,42.98 405.30,41.23 C406.07,39.49 406.83,39.70 407.60,39.16 C408.37,38.61 409.13,37.55 409.90,37.97 C410.67,38.38 411.43,40.36 412.20,41.66 C412.97,42.96 413.73,44.21 414.50,45.77 C415.27,47.33 416.03,49.64 416.80,51.04 C417.57,52.44 418.33,50.69 419.10,54.19 C419.87,57.69 420.63,71.44 421.40,72.02 C422.17,72.60 422.93,60.30 423.70,57.69 C424.47,55.07 425.23,56.96 426.00,56.33 C426.77,55.70 427.53,52.54 428.30,53.93 C429.07,55.31 429.83,64.58 430.60,64.65 C431.37,64.71 432.13,57.16 432.90,54.31 C433.67,51.46 434.43,49.45 435.20,47.53 C435.97,45.60 436.73,43.93 437.50,42.77 C438.27,41.62 439.03,41.19 439.80,40.60 C440.57,40.00 441.33,39.94 442.10,39.23 C442.87,38.52 443.63,36.43 444.40,36.35 C445.17,36.27 445.93,38.02 446.70,38.75 C447.47,39.48 448.23,39.17 449.00,40.74 C449.77,42.31 450.53,45.08 451.30,48.18 C452.07,51.27 452.83,56.69 453.60,59.30 C454.37,61.92 455.13,62.31 455.90,63.87 C456.67,65.43 457.43,67.34 458.20,68.67 C458.97,70.01 459.73,70.10 460.50,71.90 C461.27,73.70 462.03,77.14 462.80,79.49 C463.57,81.85 464.33,83.48 465.10,86.04 C465.87,88.59 466.63,93.22 467.40,94.84 C468.17,96.46 468.93,95.71 469.70,95.74 C470.47,95.77 471.23,95.17 472.00,95.03 C472.77,94.89 473.53,94.29 474.30,94.88 C475.07,95.47 475.83,97.82 476.60,98.56 C477.37,99.29 478.13,99.70 478.90,99.31 C479.67,98.91 480.43,96.60 481.20,96.19 C481.97,95.77 482.73,96.60 483.50,96.83 C484.27,97.06 485.42,97.44 485.80,97.56" fill="none" stroke="#8c8c8c" stroke-width="1.2" stroke-linejoin="round"/>
<path d="M320.20,103.06 C320.58,102.79 321.73,101.82 322.50,101.45 C323.27,101.08 324.03,101.46 324.80,100.84 C325.57,100.23 326.33,98.22 327.10,97.75 C327.87,97.28 328.63,97.15 329.40,98.02 C330.17,98.90 330.93,102.06 331.70,103.01 C332.47,103.96 333.23,104.30 334.00,103.74 C334.77,103.17 335.53,100.23 336.30,99.63 C337.07,99.02 337.83,100.03 338.60,100.08 C339.37,100.14 340.13,99.94 340.90,99.96 C341.67,99.99 342.43,100.22 343.20,100.24 C343.97,100.26 344.73,99.85 345.50,100.08 C346.27,100.32 347.03,101.39 347.80,101.66 C348.57,101.92 349.33,101.53 350.10,101.70 C350.87,101.86 351.63,103.18 352.40,102.63 C353.17,102.08 353.93,101.05 354.70,98.38 C355.47,95.72 356.23,89.15 357.00,86.63 C357.77,84.12 358.53,83.46 359.30,83.29 C360.07,83.12 360.83,85.81 361.60,85.62 C362.37,85.42 363.13,82.69 363.90,82.13 C364.67,81.56 365.43,80.88 366.20,82.22 C366.97,83.56 367.73,88.82 368.50,90.16 C369.27,91.51 370.03,91.82 370.80,90.28 C371.57,88.74 372.33,83.50 373.10,80.90 C373.87,78.31 374.63,77.09 375.40,74.71 C376.17,72.33 376.93,68.48 377.70,66.63 C378.47,64.79 379.23,64.07 380.00,63.64 C380.77,63.21 381.53,62.17 382.30,64.04 C383.07,65.92 383.83,71.32 384.60,74.87 C385.37,78.43 386.13,83.42 386.90,85.40 C387.67,87.38 388.43,85.29 389.20,86.75 C389.97,88.22 390.73,93.10 391.50,94.20 C392.27,95.29 393.03,95.19 393.80,93.32 C394.57,91.46 395.33,87.43 396.10,83.00 C396.87,78.56 397.63,72.36 398.40,66.72 C399.17,61.08 399.93,53.47 400.70,49.16 C401.47,44.85 402.23,43.10 403.00,40.87 C403.77,38.64 404.53,36.63 405.30,35.80 C406.07,34.96 406.83,36.01 407.60,35.84 C408.37,35.66 409.13,35.00 409.90,34.75 C410.67,34.49 411.43,33.07 412.20,34.32 C412.97,35.56 413.73,39.57 414.50,42.22 C415.27,44.88 416.03,47.49 416.80,50.26 C417.57,53.04 418.33,56.35 419.10,58.89 C419.87,61.43 420.63,64.63 421.40,65.49 C422.17,66.35 422.93,66.13 423.70,64.04 C424.47,61.95 425.23,53.35 426.00,52.95 C426.77,52.54 427.53,59.78 428.30,61.60 C429.07,63.42 429.83,64.10 430.60,63.87 C431.37,63.63 432.13,63.68 432.90,60.20 C433.67,56.72 434.43,46.79 435.20,42.98 C435.97,39.18 436.73,38.34 437.50,37.36 C438.27,36.39 439.03,36.62 439.80,37.12 C440.57,37.61 441.33,39.47 442.10,40.33 C442.87,41.19 443.63,42.11 444.40,42.28 C445.17,42.44 445.93,40.86 446.70,41.31 C447.47,41.76 448.23,44.16 449.00,44.97 C449.77,45.78 450.53,45.48 451.30,46.16 C452.07,46.84 452.83,47.31 453.60,49.04 C454.37,50.76 455.13,54.12 455.90,56.50 C456.67,58.88 457.43,61.23 458.20,63.31 C458.97,65.40 459.73,65.34 460.50,69.02 C461.27,72.71 462.03,80.75 462.80,85.42 C463.57,90.08 464.33,95.11 465.10,96.99 C465.87,98.88 466.63,96.58 467.40,96.75 C468.17,96.91 468.93,97.14 469.70,97.99 C470.47,98.84 471.23,101.27 472.00,101.85 C472.77,102.44 473.53,101.80 474.30,101.50 C475.07,101.21 475.83,100.17 476.60,100.08 C477.37,99.99 478.13,100.97 478.90,100.96 C479.67,100.96 480.43,100.01 481.20,100.05 C481.97,100.08 482.73,101.03 483.50,101.17 C484.27,101.32 485.42,100.97 485.80,100.93" fill="none" stroke="#8c8c8c" stroke-width="1.2" stroke-linejoin="round"/>
<path d="M320.20,100.97 C320.58,100.92 321.73,100.81 322.50,100.69 C323.27,100.58 324.03,100.61 324.80,100.28 C325.57,99.96 326.33,99.04 327.10,98.74 C327.87,98.44 328.63,98.04 329.40,98.47 C330.17,98.89 330.93,100.78 331.70,101.31 C332.47,101.83 333.23,101.53 334.00,101.64 C334.77,101.75 335.53,101.95 336.30,101.95 C337.07,101.95 337.83,102.14 338.60,101.63 C339.37,101.13 340.13,99.14 340.90,98.91 C341.67,98.69 342.43,99.72 343.20,100.27 C343.97,100.81 344.73,102.01 345.50,102.20 C346.27,102.39 347.03,101.82 347.80,101.40 C348.57,100.97 349.33,99.73 350.10,99.66 C350.87,99.58 351.63,101.12 352.40,100.96 C353.17,100.79 353.93,101.38 354.70,98.67 C355.47,95.95 356.23,86.24 357.00,84.65 C357.77,83.07 358.53,86.97 359.30,89.16 C360.07,91.35 360.83,96.35 361.60,97.80 C362.37,99.26 363.13,98.73 363.90,97.88 C364.67,97.03 365.43,94.41 366.20,92.70 C366.97,90.98 367.73,88.76 368.50,87.60 C369.27,86.44 370.03,86.04 370.80,85.74 C371.57,85.44 372.33,86.74 373.10,85.82 C373.87,84.90 374.63,82.75 375.40,80.20 C376.17,77.66 376.93,73.56 377.70,70.55 C378.47,67.54 379.23,63.33 380.00,62.15 C380.77,60.97 381.53,60.84 382.30,63.46 C383.07,66.08 383.83,73.92 384.60,77.87 C385.37,81.81 386.13,84.36 386.90,87.13 C387.67,89.90 388.43,93.60 389.20,94.46 C389.97,95.32 390.73,94.13 391.50,92.31 C392.27,90.48 393.03,86.97 393.80,83.51 C394.57,80.05 395.33,75.04 396.10,71.54 C396.87,68.03 397.63,65.33 398.40,62.49 C399.17,59.64 399.93,57.12 400.70,54.46 C401.47,51.80 402.23,48.15 403.00,46.51 C403.77,44.86 404.53,45.17 405.30,44.60 C406.07,44.03 406.83,43.76 407.60,43.08 C408.37,42.41 409.13,41.52 409.90,40.56 C410.67,39.61 411.43,36.88 412.20,37.34 C412.97,37.80 413.73,40.86 414.50,43.34 C415.27,45.83 416.03,50.60 416.80,52.26 C417.57,53.93 418.33,51.24 419.10,53.32 C419.87,55.41 420.63,61.92 421.40,64.76 C422.17,67.61 422.93,72.43 423.70,70.39 C424.47,68.36 425.23,55.33 426.00,52.56 C426.77,49.79 427.53,52.97 428.30,53.75 C429.07,54.53 429.83,56.27 430.60,57.24 C431.37,58.21 432.13,60.71 432.90,59.58 C433.67,58.45 434.43,52.32 435.20,50.47 C435.97,48.62 436.73,49.32 437.50,48.50 C438.27,47.68 439.03,46.95 439.80,45.54 C440.57,44.13 441.33,41.48 442.10,40.03 C442.87,38.58 443.63,37.31 444.40,36.85 C445.17,36.40 445.93,37.10 446.70,37.31 C447.47,37.51 448.23,36.75 449.00,38.09 C449.77,39.43 450.53,43.42 451.30,45.34 C452.07,47.25 452.83,47.75 453.60,49.57 C454.37,51.39 455.13,53.71 455.90,56.27 C456.67,58.82 457.43,60.82 458.20,64.90 C458.97,68.98 459.73,76.86 460.50,80.72 C461.27,84.58 462.03,86.33 462.80,88.04 C463.57,89.74 464.33,89.59 465.10,90.95 C465.87,92.31 466.63,95.23 467.40,96.21 C468.17,97.18 468.93,96.84 469.70,96.78 C470.47,96.72 471.23,96.02 472.00,95.85 C472.77,95.67 473.53,95.28 474.30,95.76 C475.07,96.23 475.83,98.26 476.60,98.70 C477.37,99.14 478.13,98.84 478.90,98.39 C479.67,97.94 480.43,95.95 481.20,95.98 C481.97,96.00 482.73,97.23 483.50,98.54 C484.27,99.86 485.42,102.98 485.80,103.86" fill="none" stroke="#8c8c8c" stroke-width="1.2" stroke-linejoin="round"/>
<path d="M320.20,99.47 C320.58,99.44 321.73,99.49 322.50,99.31 C323.27,99.12 324.03,98.35 324.80,98.37 C325.57,98.39 326.33,99.09 327.10,99.43 C327.87,99.77 328.63,99.72 329.40,100.42 C330.17,101.12 330.93,103.36 331.70,103.65 C332.47,103.95 333.23,102.74 334.00,102.20 C334.77,101.66 335.53,100.56 336.30,100.41 C337.07,100.25 337.83,101.35 338.60,101.27 C339.37,101.18 340.13,100.21 340.90,99.92 C341.67,99.63 342.43,99.91 343.20,99.53 C343.97,99.15 344.73,98.18 345.50,97.65 C346.27,97.11 347.03,96.34 347.80,96.34 C348.57,96.33 349.33,97.04 350.10,97.61 C350.87,98.18 351.63,99.21 352.40,99.76 C353.17,100.31 353.93,101.11 354.70,100.89 C355.47,100.68 356.23,99.01 357.00,98.46 C357.77,97.91 358.53,97.52 359.30,97.61 C360.07,97.70 360.83,99.98 361.60,99.02 C362.37,98.05 363.13,94.07 363.90,91.83 C364.67,89.58 365.43,86.59 366.20,85.55 C366.97,84.51 367.73,86.09 368.50,85.59 C369.27,85.10 370.03,84.81 370.80,82.59 C371.57,80.37 372.33,74.89 373.10,72.27 C373.87,69.66 374.63,67.81 375.40,66.90 C376.17,65.99 376.93,66.90 377.70,66.81 C378.47,66.73 379.23,66.73 380.00,66.40 C380.77,66.06 381.53,64.05 382.30,64.80 C383.07,65.55 383.83,67.85 384.60,70.90 C385.37,73.94 386.13,79.45 386.90,83.07 C387.67,86.68 388.43,91.42 389.20,92.61 C389.97,93.80 390.73,92.51 391.50,90.20 C392.27,87.88 393.03,82.58 393.80,78.71 C394.57,74.84 395.33,70.17 396.10,66.97 C396.87,63.78 397.63,61.80 398.40,59.54 C399.17,57.28 399.93,55.55 400.70,53.40 C401.47,51.26 402.23,49.18 403.00,46.65 C403.77,44.13 404.53,39.40 405.30,38.25 C406.07,37.09 406.83,39.58 407.60,39.73 C408.37,39.87 409.13,39.28 409.90,39.12 C410.67,38.97 411.43,37.65 412.20,38.80 C412.97,39.94 413.73,42.45 414.50,46.01 C415.27,49.56 416.03,56.77 416.80,60.12 C417.57,63.47 418.33,66.04 419.10,66.12 C419.87,66.20 420.63,62.81 421.40,60.62 C422.17,58.42 422.93,52.98 423.70,52.96 C424.47,52.95 425.23,58.49 426.00,60.54 C426.77,62.60 427.53,65.08 428.30,65.27 C429.07,65.47 429.83,63.53 430.60,61.72 C431.37,59.91 432.13,56.80 432.90,54.42 C433.67,52.05 434.43,49.72 435.20,47.47 C435.97,45.23 436.73,42.48 437.50,40.97 C438.27,39.46 439.03,39.13 439.80,38.42 C440.57,37.72 441.33,37.16 442.10,36.73 C442.87,36.30 443.63,35.94 444.40,35.86 C445.17,35.77 445.93,36.29 446.70,36.21 C447.47,36.14 448.23,35.00 449.00,35.40 C449.77,35.79 450.53,37.29 451.30,38.59 C452.07,39.89 452.83,41.99 453.60,43.20 C454.37,44.41 455.13,44.11 455.90,45.83 C456.67,47.56 457.43,50.78 458.20,53.56 C458.97,56.34 459.73,58.08 460.50,62.51 C461.27,66.93 462.03,75.38 462.80,80.12 C463.57,84.86 464.33,88.90 465.10,90.94 C465.87,92.98 466.63,92.12 467.40,92.36 C468.17,92.61 468.93,92.04 469.70,92.40 C470.47,92.77 471.23,93.80 472.00,94.55 C472.77,95.30 473.53,95.71 474.30,96.90 C475.07,98.10 475.83,101.06 476.60,101.72 C477.37,102.38 478.13,102.01 478.90,100.86 C479.67,99.72 480.43,95.75 481.20,94.83 C481.97,93.92 482.73,94.67 483.50,95.37 C484.27,96.08 485.42,98.47 485.80,99.09" fill="none" stroke="#8c8c8c" stroke-width="1.2" stroke-linejoin="round"/>
<path d="M320.20,98.22 C320.97,97.46 323.27,93.40 324.80,93.62 C326.33,93.84 327.71,99.21 329.40,99.54 C331.09,99.86 333.08,95.48 334.92,95.59 C336.76,95.70 338.29,99.54 340.44,100.19 C342.59,100.85 345.04,102.49 347.80,99.54 C350.56,96.58 354.85,84.21 357.00,82.45 C359.15,80.70 359.15,88.70 360.68,89.02 C362.21,89.35 364.36,86.83 366.20,84.42 C368.04,82.02 369.88,78.18 371.72,74.57 C373.56,70.96 375.55,65.48 377.24,62.74 C378.93,60.01 380.15,55.63 381.84,58.14 C383.53,60.66 385.67,71.50 387.36,77.86 C389.05,84.21 390.43,96.25 391.96,96.25 C393.49,96.25 395.03,86.07 396.56,77.86 C398.09,69.64 399.47,53.33 401.16,46.98 C402.85,40.62 404.84,40.62 406.68,39.75 C408.52,38.87 410.51,39.75 412.20,41.72 C413.89,43.69 415.27,46.98 416.80,51.58 C418.33,56.17 420.17,69.42 421.40,69.31 C422.63,69.20 423.24,53.33 424.16,50.92 C425.08,48.51 425.85,52.01 426.92,54.86 C427.99,57.71 429.22,69.31 430.60,68.00 C431.98,66.69 433.36,52.01 435.20,46.98 C437.04,41.94 439.34,39.09 441.64,37.78 C443.94,36.46 446.85,38.00 449.00,39.09 C451.15,40.19 452.68,40.62 454.52,44.35 C456.36,48.07 458.35,56.39 460.04,61.43 C461.73,66.47 462.95,70.19 464.64,74.57 C466.33,78.95 468.17,84.21 470.16,87.71 C472.15,91.21 474.61,95.81 476.60,95.59 C478.59,95.38 480.59,90.34 482.12,86.40 C483.65,82.45 485.19,74.35 485.80,71.94" fill="none" stroke="#8c8c8c" stroke-width="1.2" stroke-linejoin="round"/>
<path d="M320.20,100.85 C321.73,100.41 326.33,98.55 329.40,98.22 C332.47,97.89 335.53,98.99 338.60,98.88 C341.67,98.77 344.73,97.89 347.80,97.56 C350.87,97.24 353.93,97.67 357.00,96.91 C360.07,96.14 363.75,95.59 366.20,92.97 C368.65,90.34 369.73,84.97 371.72,81.14 C373.71,77.31 376.32,73.15 378.16,69.97 C380.00,66.80 381.23,59.90 382.76,62.09 C384.29,64.28 385.83,77.75 387.36,83.11 C388.89,88.48 390.43,94.61 391.96,94.28 C393.49,93.95 395.03,88.37 396.56,81.14 C398.09,73.91 399.32,57.82 401.16,50.92 C403.00,44.02 405.61,41.50 407.60,39.75 C409.59,38.00 411.43,37.34 413.12,40.41 C414.81,43.47 416.34,52.23 417.72,58.14 C419.10,64.06 420.17,74.46 421.40,75.88 C422.63,77.31 423.70,69.64 425.08,66.69 C426.46,63.73 428.45,57.27 429.68,58.14 C430.91,59.02 431.21,72.93 432.44,71.94 C433.67,70.96 435.35,57.49 437.04,52.23 C438.73,46.98 440.41,42.16 442.56,40.41 C444.71,38.65 447.62,39.53 449.92,41.72 C452.22,43.91 454.37,48.62 456.36,53.55 C458.35,58.47 460.04,65.81 461.88,71.28 C463.72,76.76 465.41,83.00 467.40,86.40 C469.39,89.79 471.85,89.79 473.84,91.65 C475.83,93.51 477.67,97.35 479.36,97.56 C481.05,97.78 482.89,95.92 483.96,92.97 C485.03,90.01 485.49,82.02 485.80,79.83" fill="none" stroke="#8c8c8c" stroke-width="1.2" stroke-linejoin="round"/>
<path d="M320.20,99.54 C321.73,99.75 326.33,100.74 329.40,100.85 C332.47,100.96 335.53,100.41 338.60,100.19 C341.67,99.97 344.73,100.52 347.80,99.54 C350.87,98.55 353.93,95.92 357.00,94.28 C360.07,92.64 363.59,91.32 366.20,89.68 C368.81,88.04 370.49,88.04 372.64,84.42 C374.79,80.81 377.39,71.18 379.08,68.00 C380.77,64.82 381.38,62.31 382.76,65.37 C384.14,68.44 385.83,81.14 387.36,86.40 C388.89,91.65 390.27,96.69 391.96,96.91 C393.65,97.13 395.79,93.62 397.48,87.71 C399.17,81.80 400.24,68.66 402.08,61.43 C403.92,54.20 406.53,46.54 408.52,44.35 C410.51,42.16 412.35,44.35 414.04,48.29 C415.73,52.23 417.41,63.84 418.64,68.00 C419.87,72.16 420.17,76.32 421.40,73.26 C422.63,70.19 424.47,52.12 426.00,49.60 C427.53,47.09 429.22,55.95 430.60,58.14 C431.98,60.33 432.90,64.39 434.28,62.74 C435.66,61.10 437.19,52.01 438.88,48.29 C440.57,44.57 442.41,41.50 444.40,40.41 C446.39,39.31 448.85,39.75 450.84,41.72 C452.83,43.69 454.67,48.29 456.36,52.23 C458.05,56.17 459.43,60.34 460.96,65.37 C462.49,70.41 463.87,77.42 465.56,82.45 C467.25,87.49 469.24,92.75 471.08,95.59 C472.92,98.44 474.91,99.43 476.60,99.54 C478.29,99.65 479.67,96.47 481.20,96.25 C482.73,96.03 485.03,97.89 485.80,98.22" fill="none" stroke="#8c8c8c" stroke-width="1.2" stroke-linejoin="round"/>
<path d="M320.20,100.85 C320.97,100.41 323.27,98.22 324.80,98.22 C326.33,98.22 327.87,101.62 329.40,100.85 C330.93,100.08 332.47,93.73 334.00,93.62 C335.53,93.51 336.30,99.21 338.60,100.19 C340.90,101.18 345.35,100.08 347.80,99.54 C350.25,98.99 351.79,99.75 353.32,96.91 C354.85,94.06 355.77,83.33 357.00,82.45 C358.23,81.58 359.15,90.89 360.68,91.65 C362.21,92.42 364.82,88.80 366.20,87.05 C367.58,85.30 368.19,81.47 368.96,81.14 C369.73,80.81 370.11,86.61 370.80,85.08 C371.49,83.55 372.33,73.26 373.10,71.94 C373.87,70.63 374.40,77.64 375.40,77.20 C376.40,76.76 377.85,72.93 379.08,69.31 C380.31,65.70 381.53,54.86 382.76,55.52 C383.99,56.17 385.06,66.47 386.44,73.26 C387.82,80.05 389.51,93.62 391.04,96.25 C392.57,98.88 394.11,95.92 395.64,89.02 C397.17,82.13 398.71,62.74 400.24,54.86 C401.77,46.98 402.85,44.57 404.84,41.72 C406.83,38.87 410.21,36.90 412.20,37.78 C414.19,38.65 415.42,41.28 416.80,46.98 C418.18,52.67 419.41,66.47 420.48,71.94 C421.55,77.42 422.32,82.13 423.24,79.83 C424.16,77.53 424.93,61.21 426.00,58.14 C427.07,55.08 428.45,63.40 429.68,61.43 C430.91,59.46 431.67,50.04 433.36,46.32 C435.05,42.60 437.50,40.30 439.80,39.09 C442.10,37.89 445.01,37.56 447.16,39.09 C449.31,40.62 450.84,43.69 452.68,48.29 C454.52,52.89 456.67,61.43 458.20,66.69 C459.73,71.94 460.35,75.56 461.88,79.83 C463.41,84.10 465.56,89.35 467.40,92.31 C469.24,95.27 471.08,96.47 472.92,97.56 C474.76,98.66 476.75,99.10 478.44,98.88 C480.13,98.66 481.81,97.02 483.04,96.25 C484.27,95.48 485.34,94.61 485.80,94.28" fill="none" stroke="#8c8c8c" stroke-width="1.2" stroke-linejoin="round"/>
<path d="M320.20,100.19 C321.73,99.97 326.33,99.32 329.40,98.88 C332.47,98.44 336.30,98.44 338.60,97.56 C340.90,96.69 341.67,93.51 343.20,93.62 C344.73,93.73 345.50,97.89 347.80,98.22 C350.10,98.55 354.70,96.91 357.00,95.59 C359.30,94.28 360.07,92.53 361.60,90.34 C363.13,88.15 364.82,83.11 366.20,82.45 C367.58,81.80 368.65,87.71 369.88,86.40 C371.11,85.08 372.33,75.88 373.56,74.57 C374.79,73.26 376.01,79.83 377.24,78.51 C378.47,77.20 379.85,69.42 380.92,66.69 C381.99,63.95 382.61,59.02 383.68,62.09 C384.75,65.15 385.98,79.72 387.36,85.08 C388.74,90.45 390.43,94.50 391.96,94.28 C393.49,94.06 395.03,89.79 396.56,83.77 C398.09,77.75 399.47,64.72 401.16,58.14 C402.85,51.57 404.69,46.98 406.68,44.35 C408.67,41.72 411.43,41.50 413.12,42.38 C414.81,43.25 415.57,45.11 416.80,49.60 C418.03,54.09 419.41,63.62 420.48,69.31 C421.55,75.01 422.32,83.44 423.24,83.77 C424.16,84.10 424.93,76.32 426.00,71.28 C427.07,66.25 428.61,54.42 429.68,53.55 C430.75,52.67 431.37,66.91 432.44,66.03 C433.51,65.15 434.43,52.34 436.12,48.29 C437.81,44.24 440.26,43.25 442.56,41.72 C444.86,40.19 447.77,37.56 449.92,39.09 C452.07,40.62 453.75,46.76 455.44,50.92 C457.13,55.08 458.51,60.23 460.04,64.06 C461.57,67.89 463.11,70.74 464.64,73.91 C466.17,77.09 467.55,79.83 469.24,83.11 C470.93,86.40 473.07,91.43 474.76,93.62 C476.45,95.81 477.83,98.33 479.36,96.25 C480.89,94.17 482.89,85.30 483.96,81.14 C485.03,76.98 485.49,72.93 485.80,71.28" fill="none" stroke="#8c8c8c" stroke-width="1.2" stroke-linejoin="round"/>
<path d="M320.20,98.88 C321.73,99.32 326.33,101.18 329.40,101.51 C332.47,101.84 336.15,100.85 338.60,100.85 C341.05,100.85 342.28,101.62 344.12,101.51 C345.96,101.40 347.80,101.40 349.64,100.19 C351.48,98.99 353.47,96.47 355.16,94.28 C356.85,92.09 358.23,89.02 359.76,87.05 C361.29,85.08 362.83,84.75 364.36,82.45 C365.89,80.15 367.58,73.47 368.96,73.26 C370.34,73.04 371.41,81.47 372.64,81.14 C373.87,80.81 375.09,75.56 376.32,71.28 C377.55,67.01 378.31,55.52 380.00,55.52 C381.69,55.52 384.60,64.82 386.44,71.28 C388.28,77.75 389.51,91.00 391.04,94.28 C392.57,97.56 394.11,96.47 395.64,91.00 C397.17,85.52 398.71,69.86 400.24,61.43 C401.77,53.00 403.00,44.57 404.84,40.41 C406.68,36.24 409.59,36.90 411.28,36.46 C412.97,36.03 413.73,35.26 414.96,37.78 C416.19,40.30 417.57,46.54 418.64,51.58 C419.71,56.61 420.48,68.66 421.40,68.00 C422.32,67.34 423.24,50.48 424.16,47.63 C425.08,44.79 426.00,46.32 426.92,50.92 C427.84,55.52 428.61,74.90 429.68,75.23 C430.75,75.56 431.67,58.25 433.36,52.89 C435.05,47.52 437.96,45.22 439.80,43.03 C441.64,40.84 442.87,40.52 444.40,39.75 C445.93,38.98 447.62,37.56 449.00,38.44 C450.38,39.31 451.30,42.81 452.68,45.00 C454.06,47.19 455.75,46.87 457.28,51.58 C458.81,56.28 460.35,68.33 461.88,73.26 C463.41,78.18 464.79,78.40 466.48,81.14 C468.17,83.88 470.16,87.93 472.00,89.68 C473.84,91.43 475.83,91.10 477.52,91.65 C479.21,92.20 480.74,92.64 482.12,92.97 C483.50,93.29 485.19,93.51 485.80,93.62" fill="none" stroke="#f2a31e" stroke-width="1.6" stroke-linejoin="round"/>
<path d="M320.20,98.88 C321.73,99.26 326.33,100.74 329.40,101.18 C332.47,101.62 335.53,101.34 338.60,101.51 C341.67,101.67 345.35,102.05 347.80,102.16 C350.25,102.27 351.33,103.92 353.32,102.16 C355.31,100.41 357.46,94.17 359.76,91.65 C362.06,89.13 364.82,87.60 367.12,87.05 C369.42,86.51 371.72,89.79 373.56,88.37 C375.40,86.94 376.78,83.77 378.16,78.51 C379.54,73.26 380.77,59.24 381.84,56.83 C382.91,54.42 383.37,58.25 384.60,64.06 C385.83,69.86 387.97,86.40 389.20,91.65 C390.43,96.91 390.89,97.35 391.96,95.59 C393.03,93.84 394.41,88.91 395.64,81.14 C396.87,73.37 397.63,56.06 399.32,48.95 C401.01,41.83 404.07,40.30 405.76,38.44 C407.45,36.57 407.91,37.45 409.44,37.78 C410.97,38.11 413.27,36.46 414.96,40.41 C416.65,44.35 418.41,55.74 419.56,61.43 C420.71,67.12 420.86,76.65 421.86,74.57 C422.86,72.49 424.47,51.90 425.54,48.95 C426.61,45.99 427.30,57.38 428.30,56.83 C429.30,56.28 429.76,48.73 431.52,45.66 C433.28,42.60 436.73,39.09 438.88,38.44 C441.03,37.78 442.71,40.62 444.40,41.72 C446.09,42.81 447.47,42.16 449.00,45.00 C450.53,47.85 452.07,53.00 453.60,58.80 C455.13,64.61 456.51,74.35 458.20,79.83 C459.89,85.30 462.19,88.70 463.72,91.65 C465.25,94.61 465.56,96.80 467.40,97.56 C469.24,98.33 472.77,96.14 474.76,96.25 C476.75,96.36 478.13,98.55 479.36,98.22 C480.59,97.89 481.05,97.67 482.12,94.28 C483.19,90.89 485.19,80.59 485.80,77.86" fill="none" stroke="#e3301c" stroke-width="1.8" stroke-linejoin="round"/>
<path d="M320.20,100.85 C321.73,100.85 326.33,100.74 329.40,100.85 C332.47,100.96 335.23,101.29 338.60,101.51 C341.97,101.73 346.57,103.15 349.64,102.16 C352.71,101.18 354.24,97.67 357.00,95.59 C359.76,93.51 363.75,90.99 366.20,89.68 C368.65,88.37 369.73,88.48 371.72,87.71 C373.71,86.94 376.17,86.72 378.16,85.08 C380.15,83.44 381.99,77.96 383.68,77.86 C385.37,77.75 386.75,81.69 388.28,84.42 C389.81,87.16 391.35,95.38 392.88,94.28 C394.41,93.19 395.95,84.21 397.48,77.86 C399.01,71.50 400.24,61.21 402.08,56.17 C403.92,51.14 406.37,48.95 408.52,47.63 C410.67,46.32 413.12,45.44 414.96,48.29 C416.80,51.14 418.33,60.12 419.56,64.72 C420.79,69.31 421.25,76.76 422.32,75.88 C423.39,75.01 424.77,62.96 426.00,59.46 C427.23,55.96 428.45,55.63 429.68,54.86 C430.91,54.09 431.67,57.38 433.36,54.86 C435.05,52.34 437.81,40.84 439.80,39.75 C441.79,38.65 443.63,46.21 445.32,48.29 C447.01,50.37 448.39,51.47 449.92,52.23 C451.45,53.00 453.14,50.26 454.52,52.89 C455.90,55.52 456.97,64.39 458.20,68.00 C459.43,71.61 460.65,71.28 461.88,74.57 C463.11,77.85 464.18,84.21 465.56,87.71 C466.94,91.21 468.32,94.17 470.16,95.59 C472.00,97.02 474.61,96.36 476.60,96.25 C478.59,96.14 480.59,95.05 482.12,94.94 C483.65,94.83 485.19,95.48 485.80,95.59" fill="none" stroke="#e3301c" stroke-width="1.6" stroke-linejoin="round"/>
<path d="M38.2,211.3 L66,188.9 L88.4,188.9 L61.7,211.3 Z" fill="#c0605a"/>
<path d="M61.7,211.3 L88.4,188.9 L101.4,188.9 L74.7,211.3 Z" fill="#f1c96a"/>
<path d="M74.7,211.3 L101.4,188.9 L265.5,188.9 L238.2,211.3 Z" fill="#c7c5cb"/>
<text x="66.40" y="202.00" font-size="8.8" text-anchor="middle" fill="#1a1010" font-weight="bold" transform="rotate(-39 66.40 202.00)" >CNS</text>
<text x="81.90" y="204.60" font-size="8.8" text-anchor="middle" fill="#1a1410" font-weight="bold" transform="rotate(-39 81.90 204.60)" >AML</text>
<text x="164.40" y="204.00" font-size="8" text-anchor="middle" fill="#000" font-weight="bold" textLength="40.3" lengthAdjust="spacingAndGlyphs" >Remission</text>
<rect x="36.60" y="216.20" width="12.85" height="5.73" fill="#1b3210" shape-rendering="crispEdges"/>
<rect x="36.60" y="221.62" width="12.85" height="5.73" fill="#1b3310" shape-rendering="crispEdges"/>
<rect x="36.60" y="227.05" width="12.85" height="5.73" fill="#1b3310" shape-rendering="crispEdges"/>
<rect x="36.60" y="232.47" width="12.85" height="5.73" fill="#1c3410" shape-rendering="crispEdges"/>
<rect x="36.60" y="237.90" width="12.85" height="5.05" fill="#3c7421" shape-rendering="crispEdges"/>
<rect x="36.60" y="242.65" width="12.85" height="5.05" fill="#3d7722" shape-rendering="crispEdges"/>
<rect x="36.60" y="247.40" width="12.85" height="5.05" fill="#35671d" shape-rendering="crispEdges"/>
<rect x="36.60" y="252.15" width="12.85" height="5.05" fill="#1d3711" shape-rendering="crispEdges"/>
<rect x="49.15" y="216.20" width="12.85" height="5.73" fill="#1f3a12" shape-rendering="crispEdges"/>
<rect x="49.15" y="221.62" width="12.85" height="5.73" fill="#1e3912" shape-rendering="crispEdges"/>
<rect x="49.15" y="227.05" width="12.85" height="5.73" fill="#1f3a12" shape-rendering="crispEdges"/>
<rect x="49.15" y="232.47" width="12.85" height="5.73" fill="#1c3511" shape-rendering="crispEdges"/>
<rect x="49.15" y="237.90" width="12.85" height="5.05" fill="#2d5919" shape-rendering="crispEdges"/>
<rect x="49.15" y="242.65" width="12.85" height="5.05" fill="#2c5618" shape-rendering="crispEdges"/>
<rect x="49.15" y="247.40" width="12.85" height="5.05" fill="#3a7020" shape-rendering="crispEdges"/>
<rect x="49.15" y="252.15" width="12.85" height="5.05" fill="#3a7120" shape-rendering="crispEdges"/>
<rect x="61.70" y="216.20" width="12.85" height="5.73" fill="#200901" shape-rendering="crispEdges"/>
<rect x="61.70" y="221.62" width="12.85" height="5.73" fill="#200901" shape-rendering="crispEdges"/>
<rect x="61.70" y="227.05" width="12.85" height="5.73" fill="#210901" shape-rendering="crispEdges"/>
<rect x="61.70" y="232.47" width="12.85" height="5.73" fill="#230a02" shape-rendering="crispEdges"/>
<rect x="61.70" y="237.90" width="12.85" height="5.05" fill="#ca3210" shape-rendering="crispEdges"/>
<rect x="61.70" y="242.65" width="12.85" height="5.05" fill="#b72d0f" shape-rendering="crispEdges"/>
<rect x="61.70" y="247.40" width="12.85" height="5.05" fill="#cb3210" shape-rendering="crispEdges"/>
<rect x="61.70" y="252.15" width="12.85" height="5.05" fill="#b62d0f" shape-rendering="crispEdges"/>
<rect x="74.25" y="216.20" width="12.85" height="5.73" fill="#d13210" shape-rendering="crispEdges"/>
<rect x="74.25" y="221.62" width="12.85" height="5.73" fill="#c52f0f" shape-rendering="crispEdges"/>
<rect x="74.25" y="227.05" width="12.85" height="5.73" fill="#c22f0f" shape-rendering="crispEdges"/>
<rect x="74.25" y="232.47" width="12.85" height="5.73" fill="#d83410" shape-rendering="crispEdges"/>
<rect x="74.25" y="237.90" width="12.85" height="5.05" fill="#132207" shape-rendering="crispEdges"/>
<rect x="74.25" y="242.65" width="12.85" height="5.05" fill="#132207" shape-rendering="crispEdges"/>
<rect x="74.25" y="247.40" width="12.85" height="5.05" fill="#152608" shape-rendering="crispEdges"/>
<rect x="74.25" y="252.15" width="12.85" height="5.05" fill="#152608" shape-rendering="crispEdges"/>
<rect x="86.80" y="216.20" width="12.85" height="5.73" fill="#480f07" shape-rendering="crispEdges"/>
<rect x="86.80" y="221.62" width="12.85" height="5.73" fill="#4e1008" shape-rendering="crispEdges"/>
<rect x="86.80" y="227.05" width="12.85" height="5.73" fill="#4a1008" shape-rendering="crispEdges"/>
<rect x="86.80" y="232.47" width="12.85" height="5.73" fill="#4b1008" shape-rendering="crispEdges"/>
<rect x="86.80" y="237.90" width="12.85" height="5.05" fill="#c8310f" shape-rendering="crispEdges"/>
<rect x="86.80" y="242.65" width="12.85" height="5.05" fill="#e03711" shape-rendering="crispEdges"/>
<rect x="86.80" y="247.40" width="12.85" height="5.05" fill="#d83510" shape-rendering="crispEdges"/>
<rect x="86.80" y="252.15" width="12.85" height="5.05" fill="#e13711" shape-rendering="crispEdges"/>
<rect x="99.35" y="216.20" width="12.85" height="5.73" fill="#451008" shape-rendering="crispEdges"/>
<rect x="99.35" y="221.62" width="12.85" height="5.73" fill="#400f07" shape-rendering="crispEdges"/>
<rect x="99.35" y="227.05" width="12.85" height="5.73" fill="#400f07" shape-rendering="crispEdges"/>
<rect x="99.35" y="232.47" width="12.85" height="5.73" fill="#3f0f07" shape-rendering="crispEdges"/>
<rect x="99.35" y="237.90" width="12.85" height="5.05" fill="#200700" shape-rendering="crispEdges"/>
<rect x="99.35" y="242.65" width="12.85" height="5.05" fill="#1f0700" shape-rendering="crispEdges"/>
<rect x="99.35" y="247.40" width="12.85" height="5.05" fill="#200700" shape-rendering="crispEdges"/>
<rect x="99.35" y="252.15" width="12.85" height="5.05" fill="#220800" shape-rendering="crispEdges"/>
<rect x="111.90" y="216.20" width="12.85" height="5.73" fill="#451007" shape-rendering="crispEdges"/>
<rect x="111.90" y="221.62" width="12.85" height="5.73" fill="#4b1208" shape-rendering="crispEdges"/>
<rect x="111.90" y="227.05" width="12.85" height="5.73" fill="#481107" shape-rendering="crispEdges"/>
<rect x="111.90" y="232.47" width="12.85" height="5.73" fill="#481107" shape-rendering="crispEdges"/>
<rect x="111.90" y="237.90" width="12.85" height="5.05" fill="#d23610" shape-rendering="crispEdges"/>
<rect x="111.90" y="242.65" width="12.85" height="5.05" fill="#c7330f" shape-rendering="crispEdges"/>
<rect x="111.90" y="247.40" width="12.85" height="5.05" fill="#c2320f" shape-rendering="crispEdges"/>
<rect x="111.90" y="252.15" width="12.85" height="5.05" fill="#c7330f" shape-rendering="crispEdges"/>
<rect x="124.45" y="216.20" width="12.85" height="5.73" fill="#e53310" shape-rendering="crispEdges"/>
<rect x="124.45" y="221.62" width="12.85" height="5.73" fill="#d42f0f" shape-rendering="crispEdges"/>
<rect x="124.45" y="227.05" width="12.85" height="5.73" fill="#ec3410" shape-rendering="crispEdges"/>
<rect x="124.45" y="232.47" width="12.85" height="5.73" fill="#d32f0f" shape-rendering="crispEdges"/>
<rect x="124.45" y="237.90" width="12.85" height="5.05" fill="#aa2110" shape-rendering="crispEdges"/>
<rect x="124.45" y="242.65" width="12.85" height="5.05" fill="#ad2110" shape-rendering="crispEdges"/>
<rect x="124.45" y="247.40" width="12.85" height="5.05" fill="#971d0e" shape-rendering="crispEdges"/>
<rect x="124.45" y="252.15" width="12.85" height="5.05" fill="#ab2110" shape-rendering="crispEdges"/>
<rect x="137.00" y="216.20" width="12.85" height="5.73" fill="#ce2f0f" shape-rendering="crispEdges"/>
<rect x="137.00" y="221.62" width="12.85" height="5.73" fill="#d33010" shape-rendering="crispEdges"/>
<rect x="137.00" y="227.05" width="12.85" height="5.73" fill="#c52d0f" shape-rendering="crispEdges"/>
<rect x="137.00" y="232.47" width="12.85" height="5.73" fill="#c62d0f" shape-rendering="crispEdges"/>
<rect x="137.00" y="237.90" width="12.85" height="5.05" fill="#8c1c0b" shape-rendering="crispEdges"/>
<rect x="137.00" y="242.65" width="12.85" height="5.05" fill="#9e200c" shape-rendering="crispEdges"/>
<rect x="137.00" y="247.40" width="12.85" height="5.05" fill="#8c1c0b" shape-rendering="crispEdges"/>
<rect x="137.00" y="252.15" width="12.85" height="5.05" fill="#9a1f0c" shape-rendering="crispEdges"/>
<rect x="149.55" y="216.20" width="12.85" height="5.73" fill="#2c0a02" shape-rendering="crispEdges"/>
<rect x="149.55" y="221.62" width="12.85" height="5.73" fill="#2c0a02" shape-rendering="crispEdges"/>
<rect x="149.55" y="227.05" width="12.85" height="5.73" fill="#290901" shape-rendering="crispEdges"/>
<rect x="149.55" y="232.47" width="12.85" height="5.73" fill="#290901" shape-rendering="crispEdges"/>
<rect x="149.55" y="237.90" width="12.85" height="5.05" fill="#441008" shape-rendering="crispEdges"/>
<rect x="149.55" y="242.65" width="12.85" height="5.05" fill="#461008" shape-rendering="crispEdges"/>
<rect x="149.55" y="247.40" width="12.85" height="5.05" fill="#3f0e07" shape-rendering="crispEdges"/>
<rect x="149.55" y="252.15" width="12.85" height="5.05" fill="#461008" shape-rendering="crispEdges"/>
<rect x="162.10" y="216.20" width="12.85" height="5.73" fill="#1a3010" shape-rendering="crispEdges"/>
<rect x="162.10" y="221.62" width="12.85" height="5.73" fill="#24441a" shape-rendering="crispEdges"/>
<rect x="162.10" y="227.05" width="12.85" height="5.73" fill="#2e5a1a" shape-rendering="crispEdges"/>
<rect x="162.10" y="232.47" width="12.85" height="5.73" fill="#3a7020" shape-rendering="crispEdges"/>
<rect x="162.10" y="237.90" width="12.85" height="5.05" fill="#a72510" shape-rendering="crispEdges"/>
<rect x="162.10" y="242.65" width="12.85" height="5.05" fill="#a92610" shape-rendering="crispEdges"/>
<rect x="162.10" y="247.40" width="12.85" height="5.05" fill="#94210e" shape-rendering="crispEdges"/>
<rect x="162.10" y="252.15" width="12.85" height="5.05" fill="#ab2611" shape-rendering="crispEdges"/>
<rect x="174.65" y="216.20" width="12.85" height="5.73" fill="#98220f" shape-rendering="crispEdges"/>
<rect x="174.65" y="221.62" width="12.85" height="5.73" fill="#9c230f" shape-rendering="crispEdges"/>
<rect x="174.65" y="227.05" width="12.85" height="5.73" fill="#a22410" shape-rendering="crispEdges"/>
<rect x="174.65" y="232.47" width="12.85" height="5.73" fill="#a82510" shape-rendering="crispEdges"/>
<rect x="174.65" y="237.90" width="12.85" height="5.05" fill="#8c1d0b" shape-rendering="crispEdges"/>
<rect x="174.65" y="242.65" width="12.85" height="5.05" fill="#99200c" shape-rendering="crispEdges"/>
<rect x="174.65" y="247.40" width="12.85" height="5.05" fill="#911e0c" shape-rendering="crispEdges"/>
<rect x="174.65" y="252.15" width="12.85" height="5.05" fill="#8b1d0b" shape-rendering="crispEdges"/>
<rect x="187.20" y="216.20" width="12.85" height="5.73" fill="#d33211" shape-rendering="crispEdges"/>
<rect x="187.20" y="221.62" width="12.85" height="5.73" fill="#cf3111" shape-rendering="crispEdges"/>
<rect x="187.20" y="227.05" width="12.85" height="5.73" fill="#cd3111" shape-rendering="crispEdges"/>
<rect x="187.20" y="232.47" width="12.85" height="5.73" fill="#ce3111" shape-rendering="crispEdges"/>
<rect x="187.20" y="237.90" width="12.85" height="5.05" fill="#7b1c0c" shape-rendering="crispEdges"/>
<rect x="187.20" y="242.65" width="12.85" height="5.05" fill="#811e0c" shape-rendering="crispEdges"/>
<rect x="187.20" y="247.40" width="12.85" height="5.05" fill="#711a0b" shape-rendering="crispEdges"/>
<rect x="187.20" y="252.15" width="12.85" height="5.05" fill="#6f190b" shape-rendering="crispEdges"/>
<rect x="199.75" y="216.20" width="12.85" height="5.73" fill="#102010" shape-rendering="crispEdges"/>
<rect x="199.75" y="221.62" width="12.85" height="5.73" fill="#140c04" shape-rendering="crispEdges"/>
<rect x="199.75" y="227.05" width="12.85" height="5.73" fill="#1a0804" shape-rendering="crispEdges"/>
<rect x="199.75" y="232.47" width="12.85" height="5.73" fill="#1a0804" shape-rendering="crispEdges"/>
<rect x="199.75" y="237.90" width="12.85" height="5.05" fill="#9d2211" shape-rendering="crispEdges"/>
<rect x="199.75" y="242.65" width="12.85" height="5.05" fill="#922010" shape-rendering="crispEdges"/>
<rect x="199.75" y="247.40" width="12.85" height="5.05" fill="#8f1f0f" shape-rendering="crispEdges"/>
<rect x="199.75" y="252.15" width="12.85" height="5.05" fill="#8b1e0f" shape-rendering="crispEdges"/>
<rect x="212.30" y="216.20" width="12.85" height="5.73" fill="#300a04" shape-rendering="crispEdges"/>
<rect x="212.30" y="221.62" width="12.85" height="5.73" fill="#310a04" shape-rendering="crispEdges"/>
<rect x="212.30" y="227.05" width="12.85" height="5.73" fill="#2f0903" shape-rendering="crispEdges"/>
<rect x="212.30" y="232.47" width="12.85" height="5.73" fill="#2f0903" shape-rendering="crispEdges"/>
<rect x="212.30" y="237.90" width="12.85" height="5.05" fill="#0e0301" shape-rendering="crispEdges"/>
<rect x="212.30" y="242.65" width="12.85" height="5.05" fill="#110402" shape-rendering="crispEdges"/>
<rect x="212.30" y="247.40" width="12.85" height="5.05" fill="#0e0301" shape-rendering="crispEdges"/>
<rect x="212.30" y="252.15" width="12.85" height="5.05" fill="#0f0301" shape-rendering="crispEdges"/>
<rect x="224.85" y="216.20" width="12.85" height="5.73" fill="#a92110" shape-rendering="crispEdges"/>
<rect x="224.85" y="221.62" width="12.85" height="5.73" fill="#9b1e0f" shape-rendering="crispEdges"/>
<rect x="224.85" y="227.05" width="12.85" height="5.73" fill="#a72010" shape-rendering="crispEdges"/>
<rect x="224.85" y="232.47" width="12.85" height="5.73" fill="#ab2110" shape-rendering="crispEdges"/>
<rect x="224.85" y="237.90" width="12.85" height="5.05" fill="#531008" shape-rendering="crispEdges"/>
<rect x="224.85" y="242.65" width="12.85" height="5.05" fill="#551008" shape-rendering="crispEdges"/>
<rect x="224.85" y="247.40" width="12.85" height="5.05" fill="#4c0e07" shape-rendering="crispEdges"/>
<rect x="224.85" y="252.15" width="12.85" height="5.05" fill="#510f07" shape-rendering="crispEdges"/>
<rect x="36.60" y="264.60" width="12.85" height="4.70" fill="#6a0f07" shape-rendering="crispEdges"/>
<rect x="36.60" y="269.00" width="12.85" height="5.30" fill="#961d0a" shape-rendering="crispEdges"/>
<rect x="36.60" y="274.00" width="12.85" height="5.60" fill="#9b1f0f" shape-rendering="crispEdges"/>
<rect x="36.60" y="279.30" width="12.85" height="3.60" fill="#590f07" shape-rendering="crispEdges"/>
<rect x="36.60" y="282.60" width="12.85" height="3.60" fill="#601108" shape-rendering="crispEdges"/>
<rect x="36.60" y="285.90" width="12.85" height="3.60" fill="#5e1008" shape-rendering="crispEdges"/>
<rect x="36.60" y="289.20" width="12.85" height="3.60" fill="#5f1108" shape-rendering="crispEdges"/>
<rect x="36.60" y="292.50" width="12.85" height="3.63" fill="#791507" shape-rendering="crispEdges"/>
<rect x="36.60" y="295.82" width="12.85" height="3.63" fill="#791507" shape-rendering="crispEdges"/>
<rect x="36.60" y="299.15" width="12.85" height="3.63" fill="#7d1608" shape-rendering="crispEdges"/>
<rect x="36.60" y="302.48" width="12.85" height="3.63" fill="#791507" shape-rendering="crispEdges"/>
<rect x="36.60" y="305.80" width="12.85" height="3.70" fill="#380707" shape-rendering="crispEdges"/>
<rect x="36.60" y="309.20" width="12.85" height="3.70" fill="#390707" shape-rendering="crispEdges"/>
<rect x="49.15" y="264.60" width="12.85" height="3.97" fill="#220303" shape-rendering="crispEdges"/>
<rect x="49.15" y="268.28" width="12.85" height="3.97" fill="#230303" shape-rendering="crispEdges"/>
<rect x="49.15" y="271.95" width="12.85" height="3.97" fill="#260404" shape-rendering="crispEdges"/>
<rect x="49.15" y="275.62" width="12.85" height="3.97" fill="#260404" shape-rendering="crispEdges"/>
<rect x="49.15" y="279.30" width="12.85" height="4.09" fill="#200404" shape-rendering="crispEdges"/>
<rect x="49.15" y="283.09" width="12.85" height="4.09" fill="#1f0303" shape-rendering="crispEdges"/>
<rect x="49.15" y="286.87" width="12.85" height="4.09" fill="#1f0303" shape-rendering="crispEdges"/>
<rect x="49.15" y="290.66" width="12.85" height="4.09" fill="#1e0303" shape-rendering="crispEdges"/>
<rect x="49.15" y="294.44" width="12.85" height="4.09" fill="#1e0303" shape-rendering="crispEdges"/>
<rect x="49.15" y="298.23" width="12.85" height="4.09" fill="#210404" shape-rendering="crispEdges"/>
<rect x="49.15" y="302.01" width="12.85" height="4.09" fill="#210404" shape-rendering="crispEdges"/>
<rect x="49.15" y="305.80" width="12.85" height="3.70" fill="#1f0303" shape-rendering="crispEdges"/>
<rect x="49.15" y="309.20" width="12.85" height="3.70" fill="#210404" shape-rendering="crispEdges"/>
<rect x="61.70" y="264.60" width="12.85" height="4.00" fill="#407e23" shape-rendering="crispEdges"/>
<rect x="61.70" y="268.30" width="12.85" height="4.00" fill="#3f7d22" shape-rendering="crispEdges"/>
<rect x="61.70" y="272.00" width="12.85" height="3.95" fill="#2f5c1a" shape-rendering="crispEdges"/>
<rect x="61.70" y="275.65" width="12.85" height="3.95" fill="#2f5d1a" shape-rendering="crispEdges"/>
<rect x="61.70" y="279.30" width="12.85" height="3.60" fill="#69c03a" shape-rendering="crispEdges"/>
<rect x="61.70" y="282.60" width="12.85" height="3.60" fill="#6fc93d" shape-rendering="crispEdges"/>
<rect x="61.70" y="285.90" width="12.85" height="3.60" fill="#68bd3a" shape-rendering="crispEdges"/>
<rect x="61.70" y="289.20" width="12.85" height="3.60" fill="#6bc33b" shape-rendering="crispEdges"/>
<rect x="61.70" y="292.50" width="12.85" height="3.63" fill="#5bae33" shape-rendering="crispEdges"/>
<rect x="61.70" y="295.82" width="12.85" height="3.63" fill="#5aac33" shape-rendering="crispEdges"/>
<rect x="61.70" y="299.15" width="12.85" height="3.63" fill="#55a330" shape-rendering="crispEdges"/>
<rect x="61.70" y="302.48" width="12.85" height="3.63" fill="#5db235" shape-rendering="crispEdges"/>
<rect x="61.70" y="305.80" width="12.85" height="3.70" fill="#4b8c28" shape-rendering="crispEdges"/>
<rect x="61.70" y="309.20" width="12.85" height="3.70" fill="#4a8b28" shape-rendering="crispEdges"/>
<rect x="74.25" y="264.60" width="12.85" height="3.97" fill="#951a09" shape-rendering="crispEdges"/>
<rect x="74.25" y="268.28" width="12.85" height="3.97" fill="#a11c0a" shape-rendering="crispEdges"/>
<rect x="74.25" y="271.95" width="12.85" height="3.97" fill="#9a1b09" shape-rendering="crispEdges"/>
<rect x="74.25" y="275.62" width="12.85" height="3.97" fill="#a31c0a" shape-rendering="crispEdges"/>
<rect x="74.25" y="279.30" width="12.85" height="3.60" fill="#8f1b09" shape-rendering="crispEdges"/>
<rect x="74.25" y="282.60" width="12.85" height="3.60" fill="#961d0a" shape-rendering="crispEdges"/>
<rect x="74.25" y="285.90" width="12.85" height="3.60" fill="#921c0a" shape-rendering="crispEdges"/>
<rect x="74.25" y="289.20" width="12.85" height="3.60" fill="#961d0a" shape-rendering="crispEdges"/>
<rect x="74.25" y="292.50" width="12.85" height="3.63" fill="#a41f0f" shape-rendering="crispEdges"/>
<rect x="74.25" y="295.82" width="12.85" height="3.63" fill="#ab2010" shape-rendering="crispEdges"/>
<rect x="74.25" y="299.15" width="12.85" height="3.63" fill="#ad2110" shape-rendering="crispEdges"/>
<rect x="74.25" y="302.48" width="12.85" height="3.63" fill="#af2110" shape-rendering="crispEdges"/>
<rect x="74.25" y="305.80" width="12.85" height="3.70" fill="#0f0303" shape-rendering="crispEdges"/>
<rect x="74.25" y="309.20" width="12.85" height="3.70" fill="#100404" shape-rendering="crispEdges"/>
<rect x="86.80" y="264.60" width="12.85" height="4.00" fill="#418423" shape-rendering="crispEdges"/>
<rect x="86.80" y="268.30" width="12.85" height="4.00" fill="#3f8122" shape-rendering="crispEdges"/>
<rect x="86.80" y="272.00" width="12.85" height="3.95" fill="#448822" shape-rendering="crispEdges"/>
<rect x="86.80" y="275.65" width="12.85" height="3.95" fill="#448822" shape-rendering="crispEdges"/>
<rect x="86.80" y="279.30" width="12.85" height="3.60" fill="#6cc43c" shape-rendering="crispEdges"/>
<rect x="86.80" y="282.60" width="12.85" height="3.60" fill="#6cc43c" shape-rendering="crispEdges"/>
<rect x="86.80" y="285.90" width="12.85" height="3.60" fill="#66ba39" shape-rendering="crispEdges"/>
<rect x="86.80" y="289.20" width="12.85" height="3.60" fill="#71cd3e" shape-rendering="crispEdges"/>
<rect x="86.80" y="292.50" width="12.85" height="3.55" fill="#61ba39" shape-rendering="crispEdges"/>
<rect x="86.80" y="295.75" width="12.85" height="3.55" fill="#5baf35" shape-rendering="crispEdges"/>
<rect x="86.80" y="299.00" width="12.85" height="3.70" fill="#3b7320" shape-rendering="crispEdges"/>
<rect x="86.80" y="302.40" width="12.85" height="3.70" fill="#3b7320" shape-rendering="crispEdges"/>
<rect x="86.80" y="305.80" width="12.85" height="3.70" fill="#3b7d21" shape-rendering="crispEdges"/>
<rect x="86.80" y="309.20" width="12.85" height="3.70" fill="#37741e" shape-rendering="crispEdges"/>
<rect x="99.35" y="264.60" width="12.85" height="3.97" fill="#18290e" shape-rendering="crispEdges"/>
<rect x="99.35" y="268.28" width="12.85" height="3.97" fill="#18280e" shape-rendering="crispEdges"/>
<rect x="99.35" y="271.95" width="12.85" height="3.97" fill="#18280e" shape-rendering="crispEdges"/>
<rect x="99.35" y="275.62" width="12.85" height="3.97" fill="#17270d" shape-rendering="crispEdges"/>
<rect x="99.35" y="279.30" width="12.85" height="4.09" fill="#4b9228" shape-rendering="crispEdges"/>
<rect x="99.35" y="283.09" width="12.85" height="4.09" fill="#4c9529" shape-rendering="crispEdges"/>
<rect x="99.35" y="286.87" width="12.85" height="4.09" fill="#4b9228" shape-rendering="crispEdges"/>
<rect x="99.35" y="290.66" width="12.85" height="4.09" fill="#4c9429" shape-rendering="crispEdges"/>
<rect x="99.35" y="294.44" width="12.85" height="4.09" fill="#458625" shape-rendering="crispEdges"/>
<rect x="99.35" y="298.23" width="12.85" height="4.09" fill="#468926" shape-rendering="crispEdges"/>
<rect x="99.35" y="302.01" width="12.85" height="4.09" fill="#498e27" shape-rendering="crispEdges"/>
<rect x="99.35" y="305.80" width="12.85" height="3.70" fill="#2a5118" shape-rendering="crispEdges"/>
<rect x="99.35" y="309.20" width="12.85" height="3.70" fill="#284c17" shape-rendering="crispEdges"/>
<rect x="111.90" y="264.60" width="12.85" height="3.97" fill="#2b5c1a" shape-rendering="crispEdges"/>
<rect x="111.90" y="268.28" width="12.85" height="3.97" fill="#2a5b1a" shape-rendering="crispEdges"/>
<rect x="111.90" y="271.95" width="12.85" height="3.97" fill="#275418" shape-rendering="crispEdges"/>
<rect x="111.90" y="275.62" width="12.85" height="3.97" fill="#295919" shape-rendering="crispEdges"/>
<rect x="111.90" y="279.30" width="12.85" height="3.60" fill="#58a933" shape-rendering="crispEdges"/>
<rect x="111.90" y="282.60" width="12.85" height="3.60" fill="#56a532" shape-rendering="crispEdges"/>
<rect x="111.90" y="285.90" width="12.85" height="3.60" fill="#57a633" shape-rendering="crispEdges"/>
<rect x="111.90" y="289.20" width="12.85" height="3.60" fill="#59ab34" shape-rendering="crispEdges"/>
<rect x="111.90" y="292.50" width="12.85" height="3.63" fill="#376b1e" shape-rendering="crispEdges"/>
<rect x="111.90" y="295.82" width="12.85" height="3.63" fill="#376b1e" shape-rendering="crispEdges"/>
<rect x="111.90" y="299.15" width="12.85" height="3.63" fill="#36681d" shape-rendering="crispEdges"/>
<rect x="111.90" y="302.48" width="12.85" height="3.63" fill="#396f1f" shape-rendering="crispEdges"/>
<rect x="111.90" y="305.80" width="12.85" height="3.70" fill="#488d27" shape-rendering="crispEdges"/>
<rect x="111.90" y="309.20" width="12.85" height="3.70" fill="#4b9228" shape-rendering="crispEdges"/>
<rect x="124.45" y="264.60" width="12.85" height="3.97" fill="#203c14" shape-rendering="crispEdges"/>
<rect x="124.45" y="268.28" width="12.85" height="3.97" fill="#1e3913" shape-rendering="crispEdges"/>
<rect x="124.45" y="271.95" width="12.85" height="3.97" fill="#213f15" shape-rendering="crispEdges"/>
<rect x="124.45" y="275.62" width="12.85" height="3.97" fill="#1d3712" shape-rendering="crispEdges"/>
<rect x="124.45" y="279.30" width="12.85" height="3.65" fill="#498827" shape-rendering="crispEdges"/>
<rect x="124.45" y="282.65" width="12.85" height="3.65" fill="#478526" shape-rendering="crispEdges"/>
<rect x="124.45" y="286.00" width="12.85" height="3.80" fill="#294e17" shape-rendering="crispEdges"/>
<rect x="124.45" y="289.50" width="12.85" height="3.80" fill="#274b16" shape-rendering="crispEdges"/>
<rect x="124.45" y="293.00" width="12.85" height="3.80" fill="#102108" shape-rendering="crispEdges"/>
<rect x="124.45" y="296.50" width="12.85" height="3.80" fill="#0f1f07" shape-rendering="crispEdges"/>
<rect x="124.45" y="300.00" width="12.85" height="3.20" fill="#2c0707" shape-rendering="crispEdges"/>
<rect x="124.45" y="302.90" width="12.85" height="3.20" fill="#300808" shape-rendering="crispEdges"/>
<rect x="124.45" y="305.80" width="12.85" height="3.70" fill="#274316" shape-rendering="crispEdges"/>
<rect x="124.45" y="309.20" width="12.85" height="3.70" fill="#2a4818" shape-rendering="crispEdges"/>
<rect x="137.00" y="264.60" width="12.85" height="3.97" fill="#192e0f" shape-rendering="crispEdges"/>
<rect x="137.00" y="268.28" width="12.85" height="3.97" fill="#1a3010" shape-rendering="crispEdges"/>
<rect x="137.00" y="271.95" width="12.85" height="3.97" fill="#1b3311" shape-rendering="crispEdges"/>
<rect x="137.00" y="275.62" width="12.85" height="3.97" fill="#1b3210" shape-rendering="crispEdges"/>
<rect x="137.00" y="279.30" width="12.85" height="4.04" fill="#5eb537" shape-rendering="crispEdges"/>
<rect x="137.00" y="283.04" width="12.85" height="4.04" fill="#64c03a" shape-rendering="crispEdges"/>
<rect x="137.00" y="286.78" width="12.85" height="4.04" fill="#61bb39" shape-rendering="crispEdges"/>
<rect x="137.00" y="290.52" width="12.85" height="4.04" fill="#5eb436" shape-rendering="crispEdges"/>
<rect x="137.00" y="294.26" width="12.85" height="4.04" fill="#5bae35" shape-rendering="crispEdges"/>
<rect x="137.00" y="298.00" width="12.85" height="4.20" fill="#5db236" shape-rendering="crispEdges"/>
<rect x="137.00" y="301.90" width="12.85" height="4.20" fill="#5cb136" shape-rendering="crispEdges"/>
<rect x="137.00" y="305.80" width="12.85" height="3.70" fill="#220808" shape-rendering="crispEdges"/>
<rect x="137.00" y="309.20" width="12.85" height="3.70" fill="#220808" shape-rendering="crispEdges"/>
<rect x="149.55" y="264.60" width="12.85" height="3.97" fill="#2a5118" shape-rendering="crispEdges"/>
<rect x="149.55" y="268.28" width="12.85" height="3.97" fill="#294e17" shape-rendering="crispEdges"/>
<rect x="149.55" y="271.95" width="12.85" height="3.97" fill="#2c5419" shape-rendering="crispEdges"/>
<rect x="149.55" y="275.62" width="12.85" height="3.97" fill="#274a16" shape-rendering="crispEdges"/>
<rect x="149.55" y="279.30" width="12.85" height="4.09" fill="#36691e" shape-rendering="crispEdges"/>
<rect x="149.55" y="283.09" width="12.85" height="4.09" fill="#3a7120" shape-rendering="crispEdges"/>
<rect x="149.55" y="286.87" width="12.85" height="4.09" fill="#3a7120" shape-rendering="crispEdges"/>
<rect x="149.55" y="290.66" width="12.85" height="4.09" fill="#376a1e" shape-rendering="crispEdges"/>
<rect x="149.55" y="294.44" width="12.85" height="4.09" fill="#3b7220" shape-rendering="crispEdges"/>
<rect x="149.55" y="298.23" width="12.85" height="4.09" fill="#3d7621" shape-rendering="crispEdges"/>
<rect x="149.55" y="302.01" width="12.85" height="4.09" fill="#386e1f" shape-rendering="crispEdges"/>
<rect x="149.55" y="305.80" width="12.85" height="3.70" fill="#396e1f" shape-rendering="crispEdges"/>
<rect x="149.55" y="309.20" width="12.85" height="3.70" fill="#376b1e" shape-rendering="crispEdges"/>
<rect x="162.10" y="264.60" width="12.85" height="3.97" fill="#2e591b" shape-rendering="crispEdges"/>
<rect x="162.10" y="268.28" width="12.85" height="3.97" fill="#33621d" shape-rendering="crispEdges"/>
<rect x="162.10" y="271.95" width="12.85" height="3.97" fill="#2f5a1b" shape-rendering="crispEdges"/>
<rect x="162.10" y="275.62" width="12.85" height="3.97" fill="#33611d" shape-rendering="crispEdges"/>
<rect x="162.10" y="279.30" width="12.85" height="3.60" fill="#437e2a" shape-rendering="crispEdges"/>
<rect x="162.10" y="282.60" width="12.85" height="3.60" fill="#407928" shape-rendering="crispEdges"/>
<rect x="162.10" y="285.90" width="12.85" height="3.60" fill="#3d7326" shape-rendering="crispEdges"/>
<rect x="162.10" y="289.20" width="12.85" height="3.60" fill="#44802a" shape-rendering="crispEdges"/>
<rect x="162.10" y="292.50" width="12.85" height="3.63" fill="#294f17" shape-rendering="crispEdges"/>
<rect x="162.10" y="295.82" width="12.85" height="3.63" fill="#294f17" shape-rendering="crispEdges"/>
<rect x="162.10" y="299.15" width="12.85" height="3.63" fill="#284d17" shape-rendering="crispEdges"/>
<rect x="162.10" y="302.48" width="12.85" height="3.63" fill="#2c5519" shape-rendering="crispEdges"/>
<rect x="162.10" y="305.80" width="12.85" height="3.70" fill="#1f370f" shape-rendering="crispEdges"/>
<rect x="162.10" y="309.20" width="12.85" height="3.70" fill="#1f360f" shape-rendering="crispEdges"/>
<rect x="174.65" y="264.60" width="12.85" height="3.97" fill="#4f0f07" shape-rendering="crispEdges"/>
<rect x="174.65" y="268.28" width="12.85" height="3.97" fill="#4b0f07" shape-rendering="crispEdges"/>
<rect x="174.65" y="271.95" width="12.85" height="3.97" fill="#511008" shape-rendering="crispEdges"/>
<rect x="174.65" y="275.62" width="12.85" height="3.97" fill="#4f0f07" shape-rendering="crispEdges"/>
<rect x="174.65" y="279.30" width="12.85" height="4.09" fill="#17260f" shape-rendering="crispEdges"/>
<rect x="174.65" y="283.09" width="12.85" height="4.09" fill="#182910" shape-rendering="crispEdges"/>
<rect x="174.65" y="286.87" width="12.85" height="4.09" fill="#192910" shape-rendering="crispEdges"/>
<rect x="174.65" y="290.66" width="12.85" height="4.09" fill="#16250e" shape-rendering="crispEdges"/>
<rect x="174.65" y="294.44" width="12.85" height="4.09" fill="#182810" shape-rendering="crispEdges"/>
<rect x="174.65" y="298.23" width="12.85" height="4.09" fill="#17260f" shape-rendering="crispEdges"/>
<rect x="174.65" y="302.01" width="12.85" height="4.09" fill="#192a10" shape-rendering="crispEdges"/>
<rect x="174.65" y="305.80" width="12.85" height="3.70" fill="#310808" shape-rendering="crispEdges"/>
<rect x="174.65" y="309.20" width="12.85" height="3.70" fill="#2e0707" shape-rendering="crispEdges"/>
<rect x="187.20" y="264.60" width="12.85" height="3.97" fill="#224119" shape-rendering="crispEdges"/>
<rect x="187.20" y="268.28" width="12.85" height="3.97" fill="#224018" shape-rendering="crispEdges"/>
<rect x="187.20" y="271.95" width="12.85" height="3.97" fill="#26481b" shape-rendering="crispEdges"/>
<rect x="187.20" y="275.62" width="12.85" height="3.97" fill="#224219" shape-rendering="crispEdges"/>
<rect x="187.20" y="279.30" width="12.85" height="4.09" fill="#2a5118" shape-rendering="crispEdges"/>
<rect x="187.20" y="283.09" width="12.85" height="4.09" fill="#294f17" shape-rendering="crispEdges"/>
<rect x="187.20" y="286.87" width="12.85" height="4.09" fill="#2a5118" shape-rendering="crispEdges"/>
<rect x="187.20" y="290.66" width="12.85" height="4.09" fill="#2a5118" shape-rendering="crispEdges"/>
<rect x="187.20" y="294.44" width="12.85" height="4.09" fill="#2b5218" shape-rendering="crispEdges"/>
<rect x="187.20" y="298.23" width="12.85" height="4.09" fill="#274b16" shape-rendering="crispEdges"/>
<rect x="187.20" y="302.01" width="12.85" height="4.09" fill="#2b5218" shape-rendering="crispEdges"/>
<rect x="187.20" y="305.80" width="12.85" height="3.70" fill="#1f360f" shape-rendering="crispEdges"/>
<rect x="187.20" y="309.20" width="12.85" height="3.70" fill="#203810" shape-rendering="crispEdges"/>
<rect x="199.75" y="264.60" width="12.85" height="3.97" fill="#17290f" shape-rendering="crispEdges"/>
<rect x="199.75" y="268.28" width="12.85" height="3.97" fill="#17280f" shape-rendering="crispEdges"/>
<rect x="199.75" y="271.95" width="12.85" height="3.97" fill="#182a10" shape-rendering="crispEdges"/>
<rect x="199.75" y="275.62" width="12.85" height="3.97" fill="#17290f" shape-rendering="crispEdges"/>
<rect x="199.75" y="279.30" width="12.85" height="3.60" fill="#488727" shape-rendering="crispEdges"/>
<rect x="199.75" y="282.60" width="12.85" height="3.60" fill="#4c8e29" shape-rendering="crispEdges"/>
<rect x="199.75" y="285.90" width="12.85" height="3.60" fill="#4a8b28" shape-rendering="crispEdges"/>
<rect x="199.75" y="289.20" width="12.85" height="3.60" fill="#458125" shape-rendering="crispEdges"/>
<rect x="199.75" y="292.50" width="12.85" height="3.63" fill="#376c1e" shape-rendering="crispEdges"/>
<rect x="199.75" y="295.82" width="12.85" height="3.63" fill="#396f1f" shape-rendering="crispEdges"/>
<rect x="199.75" y="299.15" width="12.85" height="3.63" fill="#3d7621" shape-rendering="crispEdges"/>
<rect x="199.75" y="302.48" width="12.85" height="3.63" fill="#3d7621" shape-rendering="crispEdges"/>
<rect x="199.75" y="305.80" width="12.85" height="3.70" fill="#284818" shape-rendering="crispEdges"/>
<rect x="199.75" y="309.20" width="12.85" height="3.70" fill="#254316" shape-rendering="crispEdges"/>
<rect x="212.30" y="264.60" width="12.85" height="3.97" fill="#1b3110" shape-rendering="crispEdges"/>
<rect x="212.30" y="268.28" width="12.85" height="3.97" fill="#192f0f" shape-rendering="crispEdges"/>
<rect x="212.30" y="271.95" width="12.85" height="3.97" fill="#1a3010" shape-rendering="crispEdges"/>
<rect x="212.30" y="275.62" width="12.85" height="3.97" fill="#1a3110" shape-rendering="crispEdges"/>
<rect x="212.30" y="279.30" width="12.85" height="4.09" fill="#142008" shape-rendering="crispEdges"/>
<rect x="212.30" y="283.09" width="12.85" height="4.09" fill="#131f07" shape-rendering="crispEdges"/>
<rect x="212.30" y="286.87" width="12.85" height="4.09" fill="#152108" shape-rendering="crispEdges"/>
<rect x="212.30" y="290.66" width="12.85" height="4.09" fill="#131f07" shape-rendering="crispEdges"/>
<rect x="212.30" y="294.44" width="12.85" height="4.09" fill="#131f07" shape-rendering="crispEdges"/>
<rect x="212.30" y="298.23" width="12.85" height="4.09" fill="#142108" shape-rendering="crispEdges"/>
<rect x="212.30" y="302.01" width="12.85" height="4.09" fill="#131e07" shape-rendering="crispEdges"/>
<rect x="212.30" y="305.80" width="12.85" height="3.70" fill="#19280f" shape-rendering="crispEdges"/>
<rect x="212.30" y="309.20" width="12.85" height="3.70" fill="#1b2b10" shape-rendering="crispEdges"/>
<rect x="224.85" y="264.60" width="12.85" height="3.97" fill="#274b16" shape-rendering="crispEdges"/>
<rect x="224.85" y="268.28" width="12.85" height="3.97" fill="#2b5319" shape-rendering="crispEdges"/>
<rect x="224.85" y="271.95" width="12.85" height="3.97" fill="#2b5218" shape-rendering="crispEdges"/>
<rect x="224.85" y="275.62" width="12.85" height="3.97" fill="#294f17" shape-rendering="crispEdges"/>
<rect x="224.85" y="279.30" width="12.85" height="3.65" fill="#2e551f" shape-rendering="crispEdges"/>
<rect x="224.85" y="282.65" width="12.85" height="3.65" fill="#315b21" shape-rendering="crispEdges"/>
<rect x="224.85" y="286.00" width="12.85" height="3.97" fill="#1f3b13" shape-rendering="crispEdges"/>
<rect x="224.85" y="289.67" width="12.85" height="3.97" fill="#1c3511" shape-rendering="crispEdges"/>
<rect x="224.85" y="293.33" width="12.85" height="3.97" fill="#1d3711" shape-rendering="crispEdges"/>
<rect x="224.85" y="297.00" width="12.85" height="4.70" fill="#3a7020" shape-rendering="crispEdges"/>
<rect x="224.85" y="301.40" width="12.85" height="4.70" fill="#396f1f" shape-rendering="crispEdges"/>
<rect x="224.85" y="305.80" width="12.85" height="3.70" fill="#0f1f07" shape-rendering="crispEdges"/>
<rect x="224.85" y="309.20" width="12.85" height="3.70" fill="#0f1e07" shape-rendering="crispEdges"/>
<rect x="19.6" y="216.6" width="12.8" height="95.6" fill="#fff" stroke="#111" stroke-width="1"/>
<text x="29.00" y="264.20" font-size="8" text-anchor="middle" fill="#000" textLength="62" lengthAdjust="spacingAndGlyphs" transform="rotate(-90 29.00 264.20)" >24 50kb windows</text>
<rect x="240.8" y="216.1" width="12.5" height="40.4" fill="#b5b5b5" stroke="#a8a8a8" stroke-width="0.5"/>
<rect x="240.8" y="264.6" width="12.5" height="48" fill="#b5b5b5" stroke="#a8a8a8" stroke-width="0.5"/>
<text x="247.00" y="239.60" font-size="8" text-anchor="middle" fill="#000" font-weight="bold" >1</text>
<text x="247.00" y="291.90" font-size="8" text-anchor="middle" fill="#000" font-weight="bold" >2</text>
<text x="200.60" y="322.60" font-size="7.7" text-anchor="middle" fill="#000" textLength="15" lengthAdjust="spacingAndGlyphs" >Late</text>
<text x="242.70" y="322.60" font-size="7.7" text-anchor="middle" fill="#000" textLength="16.2" lengthAdjust="spacingAndGlyphs" >Early</text>
<rect x="194.2" y="325.4" width="54.6" height="6.9" fill="url(#cbar)"/>
<line x1="197" y1="332.3" x2="197" y2="335" stroke="#111" stroke-width="0.9"/>
<line x1="221.2" y1="332.3" x2="221.2" y2="335" stroke="#111" stroke-width="0.9"/>
<line x1="245.7" y1="332.3" x2="245.7" y2="335" stroke="#111" stroke-width="0.9"/>
<text x="197.60" y="345.40" font-size="7.7" text-anchor="middle" fill="#000" >-5.0</text>
<text x="221.20" y="345.40" font-size="7.7" text-anchor="middle" fill="#000" >0.0</text>
<text x="245.70" y="345.40" font-size="7.7" text-anchor="middle" fill="#000" >5.0</text>
<rect x="385.5" y="190.6" width="35" height="82.6" rx="2" fill="#fbe9d3" stroke="#333" stroke-width="0.7" stroke-dasharray="1,1.2"/>
<line x1="312.8" y1="231.8" x2="492.8" y2="231.8" stroke="#bdbdbd" stroke-width="1.3"/>
<line x1="312.2" y1="189.2" x2="312.2" y2="274.6" stroke="#111" stroke-width="1.2"/>
<line x1="309.4" y1="192.5" x2="312.2" y2="192.5" stroke="#111" stroke-width="1"/>
<text x="306.40" y="195.60" font-size="8.6" text-anchor="end" fill="#000" >6</text>
<line x1="309.4" y1="212.15" x2="312.2" y2="212.15" stroke="#111" stroke-width="1"/>
<text x="306.40" y="215.25" font-size="8.6" text-anchor="end" fill="#000" >3</text>
<line x1="309.4" y1="231.8" x2="312.2" y2="231.8" stroke="#111" stroke-width="1"/>
<text x="306.40" y="234.90" font-size="8.6" text-anchor="end" fill="#000" >0</text>
<line x1="309.4" y1="251.45000000000002" x2="312.2" y2="251.45000000000002" stroke="#111" stroke-width="1"/>
<text x="306.40" y="254.55" font-size="8.6" text-anchor="end" fill="#000" >−3</text>
<line x1="309.4" y1="271.1" x2="312.2" y2="271.1" stroke="#111" stroke-width="1"/>
<text x="306.40" y="274.20" font-size="8.6" text-anchor="end" fill="#000" >−6</text>
<line x1="311.6" y1="274.8" x2="493.8" y2="274.8" stroke="#111" stroke-width="1.2"/>
<line x1="320.5" y1="274.8" x2="320.5" y2="277.40000000000003" stroke="#111" stroke-width="1"/>
<text x="320.50" y="288.90" font-size="8.6" text-anchor="middle" fill="#000" >68</text>
<line x1="353.5" y1="274.8" x2="353.5" y2="277.40000000000003" stroke="#111" stroke-width="1"/>
<text x="353.50" y="288.90" font-size="8.6" text-anchor="middle" fill="#000" >69</text>
<line x1="386.5" y1="274.8" x2="386.5" y2="277.40000000000003" stroke="#111" stroke-width="1"/>
<text x="386.50" y="288.90" font-size="8.6" text-anchor="middle" fill="#000" >70</text>
<line x1="419.5" y1="274.8" x2="419.5" y2="277.40000000000003" stroke="#111" stroke-width="1"/>
<text x="419.50" y="288.90" font-size="8.6" text-anchor="middle" fill="#000" >71</text>
<line x1="452.5" y1="274.8" x2="452.5" y2="277.40000000000003" stroke="#111" stroke-width="1"/>
<text x="452.50" y="288.90" font-size="8.6" text-anchor="middle" fill="#000" >72</text>
<line x1="485.5" y1="274.8" x2="485.5" y2="277.40000000000003" stroke="#111" stroke-width="1"/>
<text x="485.50" y="288.90" font-size="8.6" text-anchor="middle" fill="#000" >73</text>
<text x="403.00" y="301.00" font-size="8.8" text-anchor="middle" fill="#000" textLength="60.7" lengthAdjust="spacingAndGlyphs" stroke="#000" stroke-width="0.25">Chromosome 4 (Mb)</text>
<line x1="320.2" y1="195.3" x2="485.6" y2="195.3" stroke="#000" stroke-width="1.1"/>
<rect x="322.8" y="192.20000000000002" width="1.80" height="6.2" fill="#000"/>
<rect x="325.4" y="192.20000000000002" width="2.10" height="6.2" fill="#000"/>
<rect x="328.5" y="192.20000000000002" width="2.10" height="6.2" fill="#000"/>
<rect x="334.9" y="192.20000000000002" width="1.20" height="6.2" fill="#000"/>
<rect x="336.6" y="192.20000000000002" width="1.80" height="6.2" fill="#000"/>
<rect x="351.3" y="192.20000000000002" width="2.60" height="6.2" fill="#000"/>
<rect x="355.7" y="192.20000000000002" width="1.70" height="6.2" fill="#000"/>
<rect x="370.4" y="192.20000000000002" width="2.60" height="6.2" fill="#000"/>
<rect x="373.8" y="192.20000000000002" width="1.80" height="6.2" fill="#000"/>
<rect x="375.9" y="192.20000000000002" width="1.40" height="6.2" fill="#000"/>
<rect x="381.6" y="192.20000000000002" width="2.30" height="6.2" fill="#000"/>
<rect x="385" y="192.20000000000002" width="2.70" height="6.2" fill="#000"/>
<rect x="388.5" y="192.20000000000002" width="3.50" height="6.2" fill="#000"/>
<rect x="392.9" y="192.20000000000002" width="3.40" height="6.2" fill="#000"/>
<rect x="398" y="192.20000000000002" width="3.50" height="6.2" fill="#000"/>
<rect x="402.4" y="192.20000000000002" width="2.80" height="6.2" fill="#000"/>
<rect x="406.6" y="192.20000000000002" width="7.20" height="6.2" fill="#000"/>
<rect x="415.6" y="192.20000000000002" width="5.20" height="6.2" fill="#000"/>
<rect x="425.6" y="192.20000000000002" width="13.30" height="6.2" fill="#000"/>
<rect x="444.1" y="192.20000000000002" width="1.70" height="6.2" fill="#000"/>
<rect x="453.6" y="192.20000000000002" width="3.50" height="6.2" fill="#000"/>
<rect x="461.9" y="192.20000000000002" width="9.40" height="6.2" fill="#000"/>
<rect x="331.8" y="192.70000000000002" width="1.0" height="5.2" fill="#000"/>
<rect x="340.1" y="192.70000000000002" width="1.0" height="5.2" fill="#000"/>
<rect x="342.2" y="192.70000000000002" width="1.0" height="5.2" fill="#000"/>
<rect x="348.6" y="192.70000000000002" width="1.0" height="5.2" fill="#000"/>
<rect x="358.8" y="192.70000000000002" width="1.0" height="5.2" fill="#000"/>
<rect x="362.1" y="192.70000000000002" width="1.0" height="5.2" fill="#000"/>
<rect x="366.5" y="192.70000000000002" width="1.0" height="5.2" fill="#000"/>
<rect x="379.8" y="192.70000000000002" width="1.0" height="5.2" fill="#000"/>
<rect x="440.0" y="192.70000000000002" width="1.0" height="5.2" fill="#000"/>
<rect x="484.5" y="192.70000000000002" width="1.0" height="5.2" fill="#000"/>
<path d="M320.50,250.94 C321.19,251.13 323.25,251.35 324.62,252.10 C326.00,252.85 327.38,254.42 328.75,255.45 C330.12,256.47 331.50,257.40 332.88,258.26 C334.25,259.13 335.62,260.03 337.00,260.65 C338.38,261.26 339.75,261.83 341.12,261.98 C342.50,262.13 343.88,261.69 345.25,261.57 C346.62,261.44 348.00,261.11 349.38,261.23 C350.75,261.34 352.12,262.32 353.50,262.26 C354.88,262.19 356.25,260.89 357.62,260.83 C359.00,260.78 360.38,261.75 361.75,261.94 C363.12,262.12 364.50,261.87 365.88,261.94 C367.25,262.00 368.62,262.56 370.00,262.31 C371.38,262.06 372.75,260.66 374.12,260.43 C375.50,260.20 376.88,260.90 378.25,260.93 C379.62,260.96 381.00,260.62 382.38,260.62 C383.75,260.62 385.12,260.80 386.50,260.94 C387.88,261.08 389.25,261.74 390.62,261.43 C392.00,261.13 393.38,260.16 394.75,259.12 C396.12,258.07 397.50,256.65 398.88,255.16 C400.25,253.68 401.62,252.38 403.00,250.20 C404.38,248.02 405.75,243.99 407.12,242.09 C408.50,240.19 409.88,239.27 411.25,238.79 C412.62,238.31 414.00,238.62 415.38,239.22 C416.75,239.82 418.12,240.55 419.50,242.38 C420.88,244.21 422.25,248.22 423.62,250.21 C425.00,252.21 426.38,252.89 427.75,254.34 C429.12,255.78 430.50,257.87 431.88,258.88 C433.25,259.90 434.62,259.99 436.00,260.42 C437.38,260.85 438.75,261.32 440.12,261.48 C441.50,261.64 442.88,261.30 444.25,261.39 C445.62,261.48 447.00,261.87 448.38,262.03 C449.75,262.18 451.12,262.56 452.50,262.34 C453.88,262.13 455.25,260.79 456.62,260.73 C458.00,260.67 459.38,261.95 460.75,261.98 C462.12,262.01 463.50,260.91 464.88,260.92 C466.25,260.94 467.62,262.12 469.00,262.06 C470.38,262.00 471.75,260.80 473.12,260.58 C474.50,260.36 475.88,260.67 477.25,260.74 C478.62,260.82 480.00,260.98 481.38,261.03 C482.75,261.08 484.81,261.03 485.50,261.03" fill="none" stroke="#8c8c8c" stroke-width="1.2" stroke-linejoin="round"/>
<path d="M320.50,235.76 C321.19,236.05 323.25,235.96 324.62,237.49 C326.00,239.01 327.38,242.27 328.75,244.91 C330.12,247.54 331.50,251.05 332.88,253.28 C334.25,255.51 335.62,257.09 337.00,258.28 C338.38,259.48 339.75,259.93 341.12,260.44 C342.50,260.96 343.88,261.39 345.25,261.39 C346.62,261.38 348.00,260.36 349.38,260.41 C350.75,260.45 352.12,261.32 353.50,261.65 C354.88,261.97 356.25,262.26 357.62,262.36 C359.00,262.46 360.38,262.46 361.75,262.23 C363.12,262.00 364.50,261.30 365.88,261.00 C367.25,260.71 368.62,260.39 370.00,260.46 C371.38,260.53 372.75,261.27 374.12,261.44 C375.50,261.60 376.88,261.46 378.25,261.44 C379.62,261.43 381.00,261.41 382.38,261.32 C383.75,261.23 385.12,260.81 386.50,260.89 C387.88,260.96 389.25,261.82 390.62,261.76 C392.00,261.70 393.38,260.89 394.75,260.51 C396.12,260.14 397.50,260.02 398.88,259.50 C400.25,258.98 401.62,258.03 403.00,257.39 C404.38,256.75 405.75,256.34 407.12,255.68 C408.50,255.02 409.88,254.00 411.25,253.45 C412.62,252.89 414.00,252.51 415.38,252.32 C416.75,252.13 418.12,251.74 419.50,252.33 C420.88,252.93 422.25,254.96 423.62,255.89 C425.00,256.82 426.38,257.18 427.75,257.91 C429.12,258.65 430.50,259.66 431.88,260.29 C433.25,260.91 434.62,261.34 436.00,261.65 C437.38,261.95 438.75,262.26 440.12,262.12 C441.50,261.97 442.88,261.03 444.25,260.77 C445.62,260.52 447.00,260.56 448.38,260.58 C449.75,260.60 451.12,261.02 452.50,260.89 C453.88,260.76 455.25,260.06 456.62,259.80 C458.00,259.54 459.38,259.56 460.75,259.33 C462.12,259.09 463.50,258.65 464.88,258.40 C466.25,258.14 467.62,257.80 469.00,257.79 C470.38,257.79 471.75,258.56 473.12,258.39 C474.50,258.22 475.88,257.10 477.25,256.76 C478.62,256.41 480.00,256.35 481.38,256.32 C482.75,256.29 484.81,256.52 485.50,256.56" fill="none" stroke="#8c8c8c" stroke-width="1.2" stroke-linejoin="round"/>
<path d="M320.50,223.96 C321.19,224.78 323.25,226.45 324.62,228.88 C326.00,231.31 327.38,235.04 328.75,238.53 C330.12,242.02 331.50,246.60 332.88,249.82 C334.25,253.03 335.62,256.01 337.00,257.81 C338.38,259.62 339.75,259.70 341.12,260.63 C342.50,261.57 343.88,262.96 345.25,263.41 C346.62,263.86 348.00,263.34 349.38,263.33 C350.75,263.32 352.12,263.37 353.50,263.33 C354.88,263.29 356.25,263.05 357.62,263.09 C359.00,263.13 360.38,263.46 361.75,263.58 C363.12,263.69 364.50,263.83 365.88,263.78 C367.25,263.72 368.62,263.52 370.00,263.24 C371.38,262.96 372.75,262.35 374.12,262.11 C375.50,261.87 376.88,261.85 378.25,261.80 C379.62,261.74 381.00,261.91 382.38,261.78 C383.75,261.64 385.12,261.50 386.50,260.99 C387.88,260.48 389.25,260.03 390.62,258.70 C392.00,257.36 393.38,254.61 394.75,252.98 C396.12,251.35 397.50,250.22 398.88,248.90 C400.25,247.59 401.62,245.51 403.00,245.09 C404.38,244.68 405.75,245.71 407.12,246.44 C408.50,247.16 409.88,248.32 411.25,249.44 C412.62,250.55 414.00,251.77 415.38,253.13 C416.75,254.48 418.12,256.39 419.50,257.57 C420.88,258.74 422.25,259.42 423.62,260.16 C425.00,260.91 426.38,261.59 427.75,262.05 C429.12,262.50 430.50,262.77 431.88,262.89 C433.25,263.00 434.62,262.84 436.00,262.73 C437.38,262.62 438.75,262.14 440.12,262.24 C441.50,262.33 442.88,263.27 444.25,263.31 C445.62,263.34 447.00,262.62 448.38,262.45 C449.75,262.28 451.12,262.58 452.50,262.27 C453.88,261.97 455.25,260.76 456.62,260.62 C458.00,260.48 459.38,261.63 460.75,261.43 C462.12,261.23 463.50,259.95 464.88,259.42 C466.25,258.88 467.62,258.21 469.00,258.20 C470.38,258.19 471.75,259.46 473.12,259.35 C474.50,259.23 475.88,257.97 477.25,257.54 C478.62,257.11 480.00,257.07 481.38,256.76 C482.75,256.44 484.81,255.84 485.50,255.66" fill="none" stroke="#8c8c8c" stroke-width="1.2" stroke-linejoin="round"/>
<path d="M320.50,235.76 C321.19,236.23 323.25,237.05 324.62,238.61 C326.00,240.17 327.38,242.92 328.75,245.12 C330.12,247.32 331.50,250.12 332.88,251.83 C334.25,253.54 335.62,254.32 337.00,255.36 C338.38,256.39 339.75,257.69 341.12,258.02 C342.50,258.34 343.88,257.33 345.25,257.31 C346.62,257.30 348.00,257.64 349.38,257.92 C350.75,258.20 352.12,258.95 353.50,259.00 C354.88,259.04 356.25,258.26 357.62,258.19 C359.00,258.13 360.38,258.60 361.75,258.61 C363.12,258.61 364.50,258.23 365.88,258.23 C367.25,258.23 368.62,258.61 370.00,258.59 C371.38,258.58 372.75,258.46 374.12,258.15 C375.50,257.84 376.88,257.48 378.25,256.75 C379.62,256.03 381.00,255.00 382.38,253.78 C383.75,252.56 385.12,250.71 386.50,249.43 C387.88,248.14 389.25,246.77 390.62,246.06 C392.00,245.35 393.38,245.37 394.75,245.16 C396.12,244.95 397.50,244.38 398.88,244.81 C400.25,245.24 401.62,246.58 403.00,247.75 C404.38,248.92 405.75,250.64 407.12,251.82 C408.50,253.00 409.88,253.77 411.25,254.82 C412.62,255.87 414.00,257.58 415.38,258.11 C416.75,258.64 418.12,257.83 419.50,257.99 C420.88,258.14 422.25,259.08 423.62,259.04 C425.00,259.00 426.38,257.76 427.75,257.73 C429.12,257.71 430.50,258.89 431.88,258.91 C433.25,258.93 434.62,257.88 436.00,257.85 C437.38,257.83 438.75,258.75 440.12,258.76 C441.50,258.76 442.88,257.93 444.25,257.88 C445.62,257.84 447.00,258.35 448.38,258.50 C449.75,258.66 451.12,258.91 452.50,258.81 C453.88,258.71 455.25,258.07 456.62,257.91 C458.00,257.74 459.38,258.08 460.75,257.84 C462.12,257.60 463.50,256.52 464.88,256.45 C466.25,256.38 467.62,257.36 469.00,257.42 C470.38,257.48 471.75,256.95 473.12,256.79 C474.50,256.63 475.88,256.69 477.25,256.47 C478.62,256.25 480.00,255.39 481.38,255.46 C482.75,255.54 484.81,256.67 485.50,256.91" fill="none" stroke="#8c8c8c" stroke-width="1.2" stroke-linejoin="round"/>
<path d="M320.50,233.98 C321.19,234.51 323.25,235.54 324.62,237.18 C326.00,238.81 327.38,241.39 328.75,243.78 C330.12,246.17 331.50,249.72 332.88,251.51 C334.25,253.29 335.62,253.70 337.00,254.50 C338.38,255.30 339.75,255.67 341.12,256.30 C342.50,256.92 343.88,257.89 345.25,258.26 C346.62,258.63 348.00,258.70 349.38,258.53 C350.75,258.36 352.12,257.16 353.50,257.24 C354.88,257.32 356.25,258.68 357.62,258.99 C359.00,259.29 360.38,259.04 361.75,259.05 C363.12,259.06 364.50,259.30 365.88,259.05 C367.25,258.81 368.62,257.82 370.00,257.59 C371.38,257.36 372.75,257.58 374.12,257.67 C375.50,257.76 376.88,258.20 378.25,258.13 C379.62,258.07 381.00,257.46 382.38,257.28 C383.75,257.09 385.12,257.79 386.50,257.01 C387.88,256.23 389.25,254.16 390.62,252.62 C392.00,251.07 393.38,249.65 394.75,247.75 C396.12,245.85 397.50,243.09 398.88,241.22 C400.25,239.34 401.62,237.45 403.00,236.52 C404.38,235.59 405.75,235.09 407.12,235.62 C408.50,236.14 409.88,237.89 411.25,239.66 C412.62,241.43 414.00,244.27 415.38,246.22 C416.75,248.16 418.12,249.77 419.50,251.34 C420.88,252.91 422.25,254.75 423.62,255.65 C425.00,256.55 426.38,256.46 427.75,256.73 C429.12,257.01 430.50,257.12 431.88,257.29 C433.25,257.45 434.62,257.54 436.00,257.71 C437.38,257.87 438.75,258.12 440.12,258.29 C441.50,258.46 442.88,258.68 444.25,258.73 C445.62,258.78 447.00,258.61 448.38,258.60 C449.75,258.59 451.12,258.66 452.50,258.67 C453.88,258.68 455.25,258.72 456.62,258.66 C458.00,258.59 459.38,258.01 460.75,258.28 C462.12,258.54 463.50,260.02 464.88,260.27 C466.25,260.52 467.62,259.81 469.00,259.76 C470.38,259.72 471.75,260.00 473.12,260.01 C474.50,260.02 475.88,259.88 477.25,259.84 C478.62,259.80 480.00,259.70 481.38,259.77 C482.75,259.83 484.81,260.17 485.50,260.25" fill="none" stroke="#8c8c8c" stroke-width="1.2" stroke-linejoin="round"/>
<path d="M320.50,233.01 C321.19,233.66 323.25,235.30 324.62,236.93 C326.00,238.55 327.38,240.41 328.75,242.76 C330.12,245.11 331.50,248.94 332.88,251.04 C334.25,253.14 335.62,254.35 337.00,255.38 C338.38,256.41 339.75,256.84 341.12,257.23 C342.50,257.63 343.88,257.64 345.25,257.75 C346.62,257.87 348.00,257.56 349.38,257.91 C350.75,258.27 352.12,259.66 353.50,259.89 C354.88,260.12 356.25,259.39 357.62,259.29 C359.00,259.19 360.38,259.32 361.75,259.29 C363.12,259.27 364.50,259.08 365.88,259.14 C367.25,259.19 368.62,259.67 370.00,259.62 C371.38,259.57 372.75,258.80 374.12,258.82 C375.50,258.84 376.88,259.67 378.25,259.75 C379.62,259.83 381.00,259.59 382.38,259.30 C383.75,259.00 385.12,258.17 386.50,257.97 C387.88,257.77 389.25,258.13 390.62,258.10 C392.00,258.07 393.38,258.09 394.75,257.80 C396.12,257.52 397.50,257.58 398.88,256.40 C400.25,255.22 401.62,252.54 403.00,250.72 C404.38,248.89 405.75,247.12 407.12,245.45 C408.50,243.77 409.88,242.01 411.25,240.67 C412.62,239.33 414.00,237.81 415.38,237.41 C416.75,237.00 418.12,237.28 419.50,238.24 C420.88,239.21 422.25,241.24 423.62,243.22 C425.00,245.19 426.38,248.38 427.75,250.09 C429.12,251.81 430.50,252.27 431.88,253.50 C433.25,254.73 434.62,256.60 436.00,257.49 C437.38,258.38 438.75,258.74 440.12,258.84 C441.50,258.94 442.88,257.99 444.25,258.10 C445.62,258.21 447.00,259.46 448.38,259.50 C449.75,259.55 451.12,258.42 452.50,258.37 C453.88,258.32 455.25,259.21 456.62,259.19 C458.00,259.18 459.38,258.36 460.75,258.29 C462.12,258.22 463.50,258.77 464.88,258.80 C466.25,258.83 467.62,258.73 469.00,258.47 C470.38,258.22 471.75,257.32 473.12,257.25 C474.50,257.18 475.88,257.93 477.25,258.06 C478.62,258.18 480.00,258.08 481.38,257.99 C482.75,257.90 484.81,257.60 485.50,257.52" fill="none" stroke="#8c8c8c" stroke-width="1.2" stroke-linejoin="round"/>
<path d="M320.50,246.07 C321.19,246.68 323.25,248.68 324.62,249.78 C326.00,250.88 327.38,251.49 328.75,252.67 C330.12,253.86 331.50,255.63 332.88,256.90 C334.25,258.17 335.62,259.29 337.00,260.31 C338.38,261.34 339.75,262.68 341.12,263.06 C342.50,263.44 343.88,262.51 345.25,262.60 C346.62,262.70 348.00,263.65 349.38,263.64 C350.75,263.63 352.12,262.76 353.50,262.55 C354.88,262.33 356.25,262.25 357.62,262.36 C359.00,262.47 360.38,263.03 361.75,263.22 C363.12,263.41 364.50,263.73 365.88,263.50 C367.25,263.28 368.62,262.24 370.00,261.86 C371.38,261.48 372.75,261.91 374.12,261.23 C375.50,260.55 376.88,259.16 378.25,257.78 C379.62,256.40 381.00,254.70 382.38,252.94 C383.75,251.18 385.12,248.49 386.50,247.21 C387.88,245.94 389.25,245.43 390.62,245.28 C392.00,245.14 393.38,245.74 394.75,246.33 C396.12,246.93 397.50,247.60 398.88,248.84 C400.25,250.08 401.62,252.15 403.00,253.76 C404.38,255.37 405.75,257.12 407.12,258.48 C408.50,259.84 409.88,261.21 411.25,261.93 C412.62,262.65 414.00,262.67 415.38,262.82 C416.75,262.96 418.12,262.84 419.50,262.81 C420.88,262.78 422.25,262.55 423.62,262.63 C425.00,262.71 426.38,263.38 427.75,263.30 C429.12,263.22 430.50,262.37 431.88,262.17 C433.25,261.97 434.62,262.13 436.00,262.09 C437.38,262.05 438.75,261.94 440.12,261.93 C441.50,261.92 442.88,261.73 444.25,262.01 C445.62,262.30 447.00,263.58 448.38,263.65 C449.75,263.72 451.12,262.49 452.50,262.44 C453.88,262.38 455.25,263.46 456.62,263.32 C458.00,263.18 459.38,261.86 460.75,261.60 C462.12,261.35 463.50,261.79 464.88,261.80 C466.25,261.81 467.62,261.52 469.00,261.67 C470.38,261.82 471.75,262.49 473.12,262.69 C474.50,262.88 475.88,263.07 477.25,262.83 C478.62,262.59 480.00,261.46 481.38,261.24 C482.75,261.03 484.81,261.50 485.50,261.55" fill="none" stroke="#8c8c8c" stroke-width="1.2" stroke-linejoin="round"/>
<path d="M320.50,233.91 C321.19,234.50 323.25,235.64 324.62,237.46 C326.00,239.28 327.38,242.35 328.75,244.85 C330.12,247.35 331.50,250.03 332.88,252.46 C334.25,254.89 335.62,257.86 337.00,259.45 C338.38,261.04 339.75,261.57 341.12,262.00 C342.50,262.43 343.88,262.03 345.25,262.02 C346.62,262.01 348.00,261.78 349.38,261.93 C350.75,262.08 352.12,262.79 353.50,262.94 C354.88,263.08 356.25,262.74 357.62,262.79 C359.00,262.83 360.38,263.13 361.75,263.20 C363.12,263.28 364.50,263.39 365.88,263.24 C367.25,263.10 368.62,262.55 370.00,262.33 C371.38,262.10 372.75,262.01 374.12,261.89 C375.50,261.78 376.88,261.69 378.25,261.65 C379.62,261.60 381.00,262.04 382.38,261.64 C383.75,261.24 385.12,260.74 386.50,259.24 C387.88,257.74 389.25,254.85 390.62,252.64 C392.00,250.44 393.38,248.37 394.75,246.01 C396.12,243.65 397.50,240.58 398.88,238.47 C400.25,236.35 401.62,233.98 403.00,233.30 C404.38,232.61 405.75,233.09 407.12,234.37 C408.50,235.66 409.88,238.42 411.25,241.01 C412.62,243.60 414.00,247.58 415.38,249.92 C416.75,252.26 418.12,253.33 419.50,255.05 C420.88,256.77 422.25,259.00 423.62,260.22 C425.00,261.43 426.38,262.00 427.75,262.37 C429.12,262.73 430.50,262.42 431.88,262.40 C433.25,262.37 434.62,262.28 436.00,262.22 C437.38,262.17 438.75,261.95 440.12,262.08 C441.50,262.20 442.88,263.01 444.25,262.98 C445.62,262.94 447.00,261.99 448.38,261.85 C449.75,261.71 451.12,262.01 452.50,262.15 C453.88,262.28 455.25,262.83 456.62,262.67 C458.00,262.51 459.38,261.44 460.75,261.19 C462.12,260.94 463.50,261.21 464.88,261.15 C466.25,261.09 467.62,260.83 469.00,260.83 C470.38,260.83 471.75,260.96 473.12,261.15 C474.50,261.33 475.88,262.00 477.25,261.93 C478.62,261.85 480.00,260.97 481.38,260.70 C482.75,260.43 484.81,260.39 485.50,260.33" fill="none" stroke="#8c8c8c" stroke-width="1.2" stroke-linejoin="round"/>
<path d="M320.50,236.18 C321.19,236.73 323.25,237.49 324.62,239.45 C326.00,241.42 327.38,245.49 328.75,247.97 C330.12,250.46 331.50,252.61 332.88,254.37 C334.25,256.13 335.62,257.47 337.00,258.53 C338.38,259.59 339.75,260.30 341.12,260.76 C342.50,261.21 343.88,261.09 345.25,261.24 C346.62,261.39 348.00,261.42 349.38,261.66 C350.75,261.89 352.12,262.74 353.50,262.65 C354.88,262.57 356.25,261.27 357.62,261.15 C359.00,261.03 360.38,261.91 361.75,261.92 C363.12,261.94 364.50,261.14 365.88,261.24 C367.25,261.35 368.62,262.61 370.00,262.57 C371.38,262.53 372.75,261.13 374.12,261.02 C375.50,260.90 376.88,261.81 378.25,261.89 C379.62,261.96 381.00,261.51 382.38,261.45 C383.75,261.39 385.12,261.56 386.50,261.51 C387.88,261.47 389.25,261.11 390.62,261.19 C392.00,261.27 393.38,261.90 394.75,262.00 C396.12,262.10 397.50,262.29 398.88,261.81 C400.25,261.32 401.62,260.22 403.00,259.08 C404.38,257.94 405.75,257.03 407.12,254.96 C408.50,252.89 409.88,249.66 411.25,246.65 C412.62,243.63 414.00,239.55 415.38,236.88 C416.75,234.21 418.12,231.79 419.50,230.61 C420.88,229.42 422.25,228.99 423.62,229.77 C425.00,230.55 426.38,233.02 427.75,235.31 C429.12,237.59 430.50,240.77 431.88,243.50 C433.25,246.23 434.62,249.20 436.00,251.70 C437.38,254.20 438.75,257.08 440.12,258.49 C441.50,259.89 442.88,259.56 444.25,260.10 C445.62,260.64 447.00,261.48 448.38,261.73 C449.75,261.99 451.12,262.02 452.50,261.64 C453.88,261.26 455.25,259.80 456.62,259.47 C458.00,259.13 459.38,259.84 460.75,259.64 C462.12,259.44 463.50,258.48 464.88,258.27 C466.25,258.06 467.62,258.34 469.00,258.38 C470.38,258.41 471.75,258.63 473.12,258.50 C474.50,258.38 475.88,257.94 477.25,257.63 C478.62,257.32 480.00,256.97 481.38,256.63 C482.75,256.28 484.81,255.74 485.50,255.56" fill="none" stroke="#8c8c8c" stroke-width="1.2" stroke-linejoin="round"/>
<path d="M320.50,227.94 C321.19,228.61 323.25,229.56 324.62,231.94 C326.00,234.32 327.38,238.94 328.75,242.23 C330.12,245.51 331.50,248.96 332.88,251.65 C334.25,254.35 335.62,256.62 337.00,258.40 C338.38,260.19 339.75,261.77 341.12,262.36 C342.50,262.94 343.88,261.85 345.25,261.90 C346.62,261.95 348.00,262.59 349.38,262.66 C350.75,262.72 352.12,262.33 353.50,262.29 C354.88,262.25 356.25,262.40 357.62,262.43 C359.00,262.45 360.38,262.52 361.75,262.44 C363.12,262.36 364.50,261.81 365.88,261.92 C367.25,262.04 368.62,262.94 370.00,263.14 C371.38,263.33 372.75,262.98 374.12,263.10 C375.50,263.22 376.88,263.96 378.25,263.87 C379.62,263.77 381.00,262.76 382.38,262.55 C383.75,262.34 385.12,262.67 386.50,262.63 C387.88,262.58 389.25,262.67 390.62,262.30 C392.00,261.93 393.38,260.90 394.75,260.41 C396.12,259.93 397.50,260.40 398.88,259.42 C400.25,258.44 401.62,256.64 403.00,254.53 C404.38,252.42 405.75,249.17 407.12,246.76 C408.50,244.35 409.88,241.59 411.25,240.06 C412.62,238.52 414.00,237.49 415.38,237.55 C416.75,237.61 418.12,239.04 419.50,240.42 C420.88,241.81 422.25,243.93 423.62,245.85 C425.00,247.77 426.38,249.92 427.75,251.93 C429.12,253.95 430.50,256.42 431.88,257.93 C433.25,259.45 434.62,260.29 436.00,261.05 C437.38,261.81 438.75,262.27 440.12,262.51 C441.50,262.75 442.88,262.50 444.25,262.49 C445.62,262.49 447.00,262.56 448.38,262.48 C449.75,262.40 451.12,262.19 452.50,262.00 C453.88,261.82 455.25,261.48 456.62,261.35 C458.00,261.23 459.38,261.21 460.75,261.26 C462.12,261.32 463.50,261.63 464.88,261.69 C466.25,261.74 467.62,261.85 469.00,261.61 C470.38,261.38 471.75,260.54 473.12,260.25 C474.50,259.97 475.88,260.07 477.25,259.92 C478.62,259.76 480.00,259.24 481.38,259.33 C482.75,259.42 484.81,260.26 485.50,260.45" fill="none" stroke="#8c8c8c" stroke-width="1.2" stroke-linejoin="round"/>
<path d="M320.50,225.38 C321.19,225.91 323.25,226.09 324.62,228.57 C326.00,231.05 327.38,236.67 328.75,240.27 C330.12,243.87 331.50,247.21 332.88,250.17 C334.25,253.12 335.62,256.12 337.00,258.02 C338.38,259.91 339.75,260.74 341.12,261.53 C342.50,262.31 343.88,262.57 345.25,262.73 C346.62,262.88 348.00,262.57 349.38,262.46 C350.75,262.36 352.12,262.00 353.50,262.10 C354.88,262.21 356.25,263.08 357.62,263.09 C359.00,263.10 360.38,262.20 361.75,262.17 C363.12,262.13 364.50,262.84 365.88,262.86 C367.25,262.87 368.62,262.25 370.00,262.24 C371.38,262.23 372.75,262.64 374.12,262.79 C375.50,262.94 376.88,263.06 378.25,263.14 C379.62,263.21 381.00,263.19 382.38,263.24 C383.75,263.28 385.12,263.58 386.50,263.40 C387.88,263.21 389.25,262.26 390.62,262.13 C392.00,261.99 393.38,262.47 394.75,262.61 C396.12,262.74 397.50,263.23 398.88,262.92 C400.25,262.62 401.62,261.28 403.00,260.75 C404.38,260.23 405.75,260.11 407.12,259.78 C408.50,259.44 409.88,259.60 411.25,258.77 C412.62,257.95 414.00,255.74 415.38,254.83 C416.75,253.92 418.12,253.53 419.50,253.32 C420.88,253.12 422.25,253.29 423.62,253.61 C425.00,253.93 426.38,254.70 427.75,255.25 C429.12,255.79 430.50,256.05 431.88,256.89 C433.25,257.74 434.62,259.58 436.00,260.30 C437.38,261.03 438.75,260.95 440.12,261.22 C441.50,261.49 442.88,261.71 444.25,261.91 C445.62,262.11 447.00,262.40 448.38,262.43 C449.75,262.46 451.12,262.36 452.50,262.10 C453.88,261.84 455.25,261.11 456.62,260.87 C458.00,260.63 459.38,260.71 460.75,260.66 C462.12,260.61 463.50,260.68 464.88,260.57 C466.25,260.46 467.62,260.08 469.00,260.01 C470.38,259.94 471.75,260.38 473.12,260.14 C474.50,259.90 475.88,258.66 477.25,258.58 C478.62,258.50 480.00,259.75 481.38,259.65 C482.75,259.55 484.81,258.26 485.50,257.98" fill="none" stroke="#8c8c8c" stroke-width="1.2" stroke-linejoin="round"/>
<path d="M320.50,240.14 C321.19,240.66 323.25,241.98 324.62,243.25 C326.00,244.52 327.38,245.89 328.75,247.77 C330.12,249.65 331.50,252.76 332.88,254.53 C334.25,256.30 335.62,257.41 337.00,258.39 C338.38,259.38 339.75,259.94 341.12,260.44 C342.50,260.94 343.88,261.27 345.25,261.41 C346.62,261.55 348.00,261.31 349.38,261.31 C350.75,261.31 352.12,261.55 353.50,261.41 C354.88,261.27 356.25,260.71 357.62,260.48 C359.00,260.25 360.38,259.91 361.75,260.02 C363.12,260.13 364.50,260.98 365.88,261.14 C367.25,261.29 368.62,261.31 370.00,260.94 C371.38,260.57 372.75,259.56 374.12,258.91 C375.50,258.26 376.88,258.22 378.25,257.03 C379.62,255.85 381.00,253.77 382.38,251.79 C383.75,249.81 385.12,246.91 386.50,245.16 C387.88,243.42 389.25,242.35 390.62,241.31 C392.00,240.27 393.38,238.78 394.75,238.93 C396.12,239.07 397.50,240.56 398.88,242.20 C400.25,243.83 401.62,246.75 403.00,248.73 C404.38,250.71 405.75,252.64 407.12,254.07 C408.50,255.50 409.88,256.26 411.25,257.31 C412.62,258.36 414.00,259.74 415.38,260.35 C416.75,260.96 418.12,260.95 419.50,260.97 C420.88,261.00 422.25,260.65 423.62,260.50 C425.00,260.35 426.38,260.06 427.75,260.09 C429.12,260.12 430.50,260.64 431.88,260.69 C433.25,260.74 434.62,260.24 436.00,260.41 C437.38,260.58 438.75,261.58 440.12,261.70 C441.50,261.81 442.88,261.20 444.25,261.12 C445.62,261.04 447.00,261.35 448.38,261.20 C449.75,261.05 451.12,260.17 452.50,260.22 C453.88,260.27 455.25,261.40 456.62,261.51 C458.00,261.61 459.38,260.69 460.75,260.86 C462.12,261.03 463.50,262.36 464.88,262.52 C466.25,262.68 467.62,262.02 469.00,261.80 C470.38,261.58 471.75,261.24 473.12,261.22 C474.50,261.19 475.88,261.48 477.25,261.64 C478.62,261.81 480.00,261.95 481.38,262.21 C482.75,262.47 484.81,263.02 485.50,263.18" fill="none" stroke="#8c8c8c" stroke-width="1.2" stroke-linejoin="round"/>
<path d="M320.50,221.54 C321.19,222.41 323.25,224.21 324.62,226.79 C326.00,229.38 327.38,233.66 328.75,237.04 C330.12,240.43 331.50,244.26 332.88,247.13 C334.25,250.00 335.62,252.41 337.00,254.24 C338.38,256.07 339.75,257.41 341.12,258.12 C342.50,258.83 343.88,258.13 345.25,258.49 C346.62,258.85 348.00,260.04 349.38,260.27 C350.75,260.50 352.12,259.87 353.50,259.86 C354.88,259.84 356.25,260.26 357.62,260.19 C359.00,260.12 360.38,259.88 361.75,259.44 C363.12,259.01 364.50,258.29 365.88,257.58 C367.25,256.87 368.62,256.23 370.00,255.19 C371.38,254.16 372.75,253.34 374.12,251.37 C375.50,249.41 376.88,246.06 378.25,243.40 C379.62,240.75 381.00,237.83 382.38,235.44 C383.75,233.05 385.12,229.93 386.50,229.04 C387.88,228.16 389.25,228.84 390.62,230.13 C392.00,231.42 393.38,234.32 394.75,236.80 C396.12,239.27 397.50,242.59 398.88,244.99 C400.25,247.40 401.62,249.31 403.00,251.23 C404.38,253.15 405.75,255.38 407.12,256.52 C408.50,257.66 409.88,257.66 411.25,258.06 C412.62,258.47 414.00,258.71 415.38,258.94 C416.75,259.17 418.12,259.39 419.50,259.46 C420.88,259.53 422.25,259.30 423.62,259.34 C425.00,259.39 426.38,259.61 427.75,259.73 C429.12,259.85 430.50,260.10 431.88,260.06 C433.25,260.02 434.62,259.51 436.00,259.48 C437.38,259.44 438.75,259.80 440.12,259.85 C441.50,259.90 442.88,259.78 444.25,259.80 C445.62,259.82 447.00,260.21 448.38,259.96 C449.75,259.72 451.12,258.48 452.50,258.34 C453.88,258.20 455.25,258.93 456.62,259.10 C458.00,259.27 459.38,259.29 460.75,259.35 C462.12,259.41 463.50,259.55 464.88,259.48 C466.25,259.41 467.62,259.27 469.00,258.93 C470.38,258.59 471.75,257.55 473.12,257.45 C474.50,257.34 475.88,258.30 477.25,258.30 C478.62,258.30 480.00,257.48 481.38,257.45 C482.75,257.42 484.81,258.00 485.50,258.11" fill="none" stroke="#8c8c8c" stroke-width="1.2" stroke-linejoin="round"/>
<path d="M320.50,232.86 C321.19,233.33 323.25,233.95 324.62,235.68 C326.00,237.41 327.38,240.57 328.75,243.23 C330.12,245.89 331.50,249.26 332.88,251.62 C334.25,253.98 335.62,255.97 337.00,257.40 C338.38,258.84 339.75,259.81 341.12,260.24 C342.50,260.68 343.88,260.01 345.25,260.03 C346.62,260.05 348.00,260.06 349.38,260.35 C350.75,260.64 352.12,261.71 353.50,261.78 C354.88,261.84 356.25,260.94 357.62,260.74 C359.00,260.53 360.38,260.55 361.75,260.55 C363.12,260.55 364.50,260.81 365.88,260.74 C367.25,260.67 368.62,260.24 370.00,260.15 C371.38,260.07 372.75,260.07 374.12,260.23 C375.50,260.40 376.88,261.40 378.25,261.13 C379.62,260.85 381.00,259.21 382.38,258.56 C383.75,257.91 385.12,258.29 386.50,257.22 C387.88,256.16 389.25,254.35 390.62,252.16 C392.00,249.97 393.38,246.25 394.75,244.06 C396.12,241.86 397.50,240.43 398.88,238.98 C400.25,237.53 401.62,235.68 403.00,235.36 C404.38,235.03 405.75,235.61 407.12,237.04 C408.50,238.47 409.88,241.61 411.25,243.95 C412.62,246.29 414.00,249.15 415.38,251.08 C416.75,253.00 418.12,254.18 419.50,255.49 C420.88,256.80 422.25,258.18 423.62,258.93 C425.00,259.68 426.38,259.77 427.75,260.01 C429.12,260.25 430.50,260.31 431.88,260.37 C433.25,260.42 434.62,260.34 436.00,260.33 C437.38,260.32 438.75,260.29 440.12,260.31 C441.50,260.33 442.88,260.49 444.25,260.45 C445.62,260.42 447.00,260.01 448.38,260.10 C449.75,260.18 451.12,260.89 452.50,260.96 C453.88,261.02 455.25,260.51 456.62,260.48 C458.00,260.44 459.38,260.88 460.75,260.76 C462.12,260.65 463.50,259.86 464.88,259.78 C466.25,259.71 467.62,260.17 469.00,260.32 C470.38,260.47 471.75,260.71 473.12,260.68 C474.50,260.64 475.88,260.12 477.25,260.13 C478.62,260.15 480.00,260.63 481.38,260.78 C482.75,260.92 484.81,260.98 485.50,261.02" fill="none" stroke="#8c8c8c" stroke-width="1.2" stroke-linejoin="round"/>
<path d="M320.50,242.30 C321.19,242.96 323.25,244.79 324.62,246.24 C326.00,247.68 327.38,249.03 328.75,250.99 C330.12,252.95 331.50,256.31 332.88,258.00 C334.25,259.70 335.62,260.27 337.00,261.18 C338.38,262.09 339.75,263.03 341.12,263.47 C342.50,263.92 343.88,263.83 345.25,263.84 C346.62,263.84 348.00,263.44 349.38,263.49 C350.75,263.53 352.12,264.00 353.50,264.11 C354.88,264.22 356.25,264.26 357.62,264.15 C359.00,264.04 360.38,263.39 361.75,263.45 C363.12,263.51 364.50,264.48 365.88,264.52 C367.25,264.55 368.62,264.07 370.00,263.64 C371.38,263.22 372.75,262.59 374.12,261.97 C375.50,261.35 376.88,260.72 378.25,259.94 C379.62,259.17 381.00,257.86 382.38,257.30 C383.75,256.74 385.12,256.96 386.50,256.58 C387.88,256.21 389.25,255.03 390.62,255.02 C392.00,255.02 393.38,256.09 394.75,256.58 C396.12,257.08 397.50,257.42 398.88,258.00 C400.25,258.58 401.62,259.19 403.00,260.05 C404.38,260.92 405.75,262.56 407.12,263.17 C408.50,263.77 409.88,263.73 411.25,263.69 C412.62,263.65 414.00,262.83 415.38,262.92 C416.75,263.00 418.12,264.07 419.50,264.19 C420.88,264.32 422.25,263.82 423.62,263.68 C425.00,263.53 426.38,263.20 427.75,263.32 C429.12,263.43 430.50,264.37 431.88,264.38 C433.25,264.39 434.62,263.30 436.00,263.39 C437.38,263.48 438.75,264.77 440.12,264.92 C441.50,265.06 442.88,264.36 444.25,264.26 C445.62,264.16 447.00,264.45 448.38,264.33 C449.75,264.21 451.12,263.70 452.50,263.53 C453.88,263.37 455.25,263.39 456.62,263.35 C458.00,263.31 459.38,263.62 460.75,263.27 C462.12,262.93 463.50,261.50 464.88,261.30 C466.25,261.10 467.62,262.16 469.00,262.09 C470.38,262.02 471.75,261.13 473.12,260.86 C474.50,260.59 475.88,260.69 477.25,260.45 C478.62,260.21 480.00,259.67 481.38,259.43 C482.75,259.18 484.81,259.06 485.50,258.99" fill="none" stroke="#8c8c8c" stroke-width="1.2" stroke-linejoin="round"/>
<path d="M320.50,233.95 C321.19,234.57 323.25,235.64 324.62,237.69 C326.00,239.74 327.38,243.45 328.75,246.25 C330.12,249.05 331.50,252.30 332.88,254.49 C334.25,256.68 335.62,258.15 337.00,259.40 C338.38,260.64 339.75,261.34 341.12,261.96 C342.50,262.58 343.88,262.88 345.25,263.12 C346.62,263.36 348.00,263.19 349.38,263.40 C350.75,263.62 352.12,264.26 353.50,264.40 C354.88,264.54 356.25,264.28 357.62,264.24 C359.00,264.21 360.38,264.30 361.75,264.20 C363.12,264.10 364.50,264.04 365.88,263.63 C367.25,263.23 368.62,262.53 370.00,261.75 C371.38,260.96 372.75,259.94 374.12,258.91 C375.50,257.89 376.88,257.70 378.25,255.59 C379.62,253.49 381.00,249.14 382.38,246.29 C383.75,243.43 385.12,240.39 386.50,238.48 C387.88,236.56 389.25,235.26 390.62,234.79 C392.00,234.32 393.38,234.46 394.75,235.64 C396.12,236.82 397.50,239.29 398.88,241.89 C400.25,244.49 401.62,248.70 403.00,251.22 C404.38,253.75 405.75,255.53 407.12,257.04 C408.50,258.56 409.88,259.42 411.25,260.30 C412.62,261.17 414.00,261.87 415.38,262.30 C416.75,262.73 418.12,262.48 419.50,262.88 C420.88,263.27 422.25,264.58 423.62,264.68 C425.00,264.78 426.38,263.61 427.75,263.48 C429.12,263.36 430.50,264.00 431.88,263.94 C433.25,263.87 434.62,263.00 436.00,263.11 C437.38,263.21 438.75,264.45 440.12,264.57 C441.50,264.68 442.88,263.88 444.25,263.82 C445.62,263.75 447.00,264.46 448.38,264.16 C449.75,263.85 451.12,262.46 452.50,261.98 C453.88,261.51 455.25,261.34 456.62,261.32 C458.00,261.29 459.38,261.99 460.75,261.84 C462.12,261.70 463.50,260.78 464.88,260.47 C466.25,260.15 467.62,260.35 469.00,259.97 C470.38,259.58 471.75,258.60 473.12,258.17 C474.50,257.73 475.88,257.44 477.25,257.35 C478.62,257.26 480.00,258.01 481.38,257.63 C482.75,257.25 484.81,255.48 485.50,255.06" fill="none" stroke="#8c8c8c" stroke-width="1.2" stroke-linejoin="round"/>
<path d="M320.50,233.77 C322.48,235.40 329.08,243.37 332.38,243.59 C335.68,243.81 337.99,237.31 340.30,235.08 C342.61,232.84 344.31,229.40 346.24,230.16 C348.17,230.93 350.09,236.33 351.85,239.66 C353.61,242.99 354.60,247.19 356.80,250.14 C359.00,253.09 362.30,255.82 365.05,257.35 C367.80,258.87 370.27,260.07 373.30,259.31 C376.32,258.55 379.90,256.25 383.20,252.76 C386.50,249.27 390.08,242.17 393.10,238.35 C396.13,234.53 398.60,230.38 401.35,229.84 C404.10,229.29 406.58,233.66 409.60,235.08 C412.63,236.49 416.20,236.17 419.50,238.35 C422.80,240.53 425.55,245.12 429.40,248.18 C433.25,251.23 438.75,255.49 442.60,256.69 C446.45,257.89 448.10,254.94 452.50,255.38 C456.90,255.82 463.50,258.65 469.00,259.31 C474.50,259.97 482.75,259.31 485.50,259.31" fill="none" stroke="#8c8c8c" stroke-width="1.2" stroke-linejoin="round"/>
<path d="M320.50,241.62 C322.15,242.61 326.55,246.54 330.40,247.52 C334.25,248.50 339.53,247.52 343.60,247.52 C347.67,247.52 351.25,246.32 354.82,247.52 C358.40,248.72 361.42,253.09 365.05,254.73 C368.68,256.36 373.03,257.24 376.60,257.35 C380.18,257.45 382.65,256.80 386.50,255.38 C390.35,253.96 395.30,251.12 399.70,248.83 C404.10,246.54 409.05,243.92 412.90,241.62 C416.75,239.33 419.50,234.75 422.80,235.08 C426.10,235.40 428.85,239.99 432.70,243.59 C436.55,247.19 442.60,255.49 445.90,256.69 C449.20,257.89 450.30,250.80 452.50,250.80 C454.70,250.80 455.80,255.49 459.10,256.69 C462.40,257.89 467.90,258.00 472.30,258.00 C476.70,258.00 483.30,256.91 485.50,256.69" fill="none" stroke="#8c8c8c" stroke-width="1.2" stroke-linejoin="round"/>
<path d="M320.50,218.05 C322.15,220.88 327.10,229.73 330.40,235.08 C333.70,240.42 337.00,246.32 340.30,250.14 C343.60,253.96 346.35,256.25 350.20,258.00 C354.05,259.75 359.00,260.40 363.40,260.62 C367.80,260.84 372.75,261.71 376.60,259.31 C380.45,256.91 383.20,251.01 386.50,246.21 C389.80,241.41 393.37,233.33 396.40,230.49 C399.42,227.65 401.90,228.42 404.65,229.18 C407.40,229.94 410.42,234.31 412.90,235.08 C415.37,235.84 416.75,232.67 419.50,233.77 C422.25,234.86 426.10,238.13 429.40,241.62 C432.70,245.12 435.45,251.78 439.30,254.73 C443.15,257.67 447.55,258.44 452.50,259.31 C457.45,260.18 463.50,259.75 469.00,259.97 C474.50,260.18 482.75,260.51 485.50,260.62" fill="none" stroke="#8c8c8c" stroke-width="1.2" stroke-linejoin="round"/>
<path d="M320.50,224.59 C321.60,225.80 324.35,227.87 327.10,231.80 C329.85,235.73 333.87,244.03 337.00,248.18 C340.13,252.32 342.61,254.83 345.91,256.69 C349.21,258.55 352.78,258.76 356.80,259.31 C360.81,259.86 366.04,261.55 370.00,259.97 C373.96,258.38 377.31,253.63 380.56,249.81 C383.80,245.99 387.11,239.33 389.47,237.04 C391.84,234.75 392.50,234.97 394.75,236.06 C397.00,237.15 399.98,239.93 403.00,243.59 C406.02,247.25 409.87,257.78 412.90,258.00 C415.92,258.22 418.23,249.67 421.15,244.90 C424.06,240.13 427.64,230.69 430.39,229.38 C433.14,228.07 434.95,233.25 437.65,237.04 C440.34,240.83 443.53,249.16 446.56,252.11 C449.58,255.05 452.88,254.18 455.80,254.73 C458.71,255.27 460.75,255.60 464.05,255.38 C467.35,255.16 472.03,253.09 475.60,253.42 C479.18,253.74 483.85,256.69 485.50,257.35" fill="none" stroke="#f2a31e" stroke-width="1.5" stroke-linejoin="round"/>
<path d="M320.50,222.63 C322.15,225.80 326.99,235.95 330.40,241.62 C333.81,247.30 337.66,253.63 340.96,256.69 C344.26,259.75 347.01,260.07 350.20,259.97 C353.39,259.86 356.47,256.31 360.10,256.04 C363.73,255.76 367.97,259.64 371.98,258.33 C376.00,257.02 380.73,252.16 384.19,248.18 C387.66,244.19 390.18,238.57 392.77,234.42 C395.35,230.27 397.72,226.01 399.70,223.29 C401.68,220.56 403.11,217.72 404.65,218.05 C406.19,218.37 407.57,221.97 408.94,225.25 C410.32,228.53 411.41,234.53 412.90,237.70 C414.38,240.86 415.65,241.95 417.85,244.25 C420.05,246.54 423.08,249.38 426.10,251.45 C429.13,253.52 431.60,255.49 436.00,256.69 C440.40,257.89 447.00,258.11 452.50,258.66 C458.00,259.20 463.50,259.42 469.00,259.97 C474.50,260.51 482.75,261.60 485.50,261.93" fill="none" stroke="#e3301c" stroke-width="1.7" stroke-linejoin="round"/>
<path d="M320.50,247.52 C321.60,248.39 324.57,251.23 327.10,252.76 C329.63,254.29 331.83,255.33 335.68,256.69 C339.53,258.05 345.03,260.40 350.20,260.95 C355.37,261.49 362.30,260.78 366.70,259.97 C371.10,259.15 373.08,258.44 376.60,256.04 C380.12,253.63 384.52,248.88 387.82,245.56 C391.12,242.23 393.54,239.05 396.40,236.06 C399.26,233.07 401.68,230.39 404.98,227.61 C408.28,224.82 413.23,219.20 416.20,219.36 C419.17,219.51 419.99,222.63 422.80,228.53 C425.60,234.42 429.73,249.38 433.03,254.73 C436.33,260.07 439.30,259.20 442.60,260.62 C445.90,262.04 449.53,263.68 452.83,263.24 C456.13,262.80 459.70,261.17 462.40,258.00 C465.09,254.83 466.91,244.14 469.00,244.25 C471.09,244.35 472.19,255.82 474.94,258.66 C477.69,261.49 483.74,260.84 485.50,261.28" fill="none" stroke="#e3301c" stroke-width="1.7" stroke-linejoin="round"/>
<rect x="500.4" y="188.6" width="11.4" height="85.7" fill="#b5b5b5"/>
<text x="506.10" y="234.00" font-size="8" text-anchor="middle" fill="#000" font-weight="bold" >1</text>
<rect x="383.5" y="315.8" width="19.5" height="82.4" rx="2" fill="#fbe9d3" stroke="#333" stroke-width="0.7" stroke-dasharray="1,1.2"/>
<rect x="427" y="315.8" width="13.6" height="82.4" rx="2" fill="#fbe9d3" stroke="#333" stroke-width="0.7" stroke-dasharray="1,1.2"/>
<line x1="312.8" y1="356.8" x2="492.8" y2="356.8" stroke="#bdbdbd" stroke-width="1.3"/>
<line x1="312.6" y1="314.4" x2="312.6" y2="399.8" stroke="#111" stroke-width="1.2"/>
<line x1="309.8" y1="317.62" x2="312.6" y2="317.62" stroke="#111" stroke-width="1"/>
<text x="306.40" y="320.72" font-size="8.6" text-anchor="end" fill="#000" >6</text>
<line x1="309.8" y1="337.21000000000004" x2="312.6" y2="337.21000000000004" stroke="#111" stroke-width="1"/>
<text x="306.40" y="340.31" font-size="8.6" text-anchor="end" fill="#000" >3</text>
<line x1="309.8" y1="356.8" x2="312.6" y2="356.8" stroke="#111" stroke-width="1"/>
<text x="306.40" y="359.90" font-size="8.6" text-anchor="end" fill="#000" >0</text>
<line x1="309.8" y1="376.39" x2="312.6" y2="376.39" stroke="#111" stroke-width="1"/>
<text x="306.40" y="379.49" font-size="8.6" text-anchor="end" fill="#000" >−3</text>
<line x1="309.8" y1="395.98" x2="312.6" y2="395.98" stroke="#111" stroke-width="1"/>
<text x="306.40" y="399.08" font-size="8.6" text-anchor="end" fill="#000" >−6</text>
<line x1="312" y1="400.0" x2="493.8" y2="400.0" stroke="#111" stroke-width="1.2"/>
<line x1="320.5" y1="400.0" x2="320.5" y2="402.6" stroke="#111" stroke-width="1"/>
<text x="320.50" y="413.30" font-size="8.6" text-anchor="middle" fill="#000" >35</text>
<line x1="385.0" y1="400.0" x2="385.0" y2="402.6" stroke="#111" stroke-width="1"/>
<text x="385.00" y="413.30" font-size="8.6" text-anchor="middle" fill="#000" >40</text>
<line x1="449.5" y1="400.0" x2="449.5" y2="402.6" stroke="#111" stroke-width="1"/>
<text x="449.50" y="413.30" font-size="8.6" text-anchor="middle" fill="#000" >45</text>
<text x="403.00" y="426.20" font-size="8.8" text-anchor="middle" fill="#000" textLength="60.7" lengthAdjust="spacingAndGlyphs" stroke="#000" stroke-width="0.25">Chromosome 3 (Mb)</text>
<text x="290.80" y="307.60" font-size="9.2" text-anchor="middle" fill="#000" textLength="53.5" lengthAdjust="spacingAndGlyphs" transform="rotate(-90 290.80 307.60)" stroke="#000" stroke-width="0.25">Replication timing</text>
<line x1="320.2" y1="320.4" x2="485.6" y2="320.4" stroke="#000" stroke-width="1.1"/>
<rect x="328" y="317.29999999999995" width="2.20" height="6.2" fill="#000"/>
<rect x="337.1" y="317.29999999999995" width="2.10" height="6.2" fill="#000"/>
<rect x="341.8" y="317.29999999999995" width="35.50" height="6.2" fill="#000"/>
<rect x="381.6" y="317.29999999999995" width="4.00" height="6.2" fill="#000"/>
<rect x="386.4" y="317.29999999999995" width="4.20" height="6.2" fill="#000"/>
<rect x="391.4" y="317.29999999999995" width="4.40" height="6.2" fill="#000"/>
<rect x="396.6" y="317.29999999999995" width="8.40" height="6.2" fill="#000"/>
<rect x="405.5" y="317.29999999999995" width="7.00" height="6.2" fill="#000"/>
<rect x="413.5" y="317.29999999999995" width="12.00" height="6.2" fill="#000"/>
<rect x="427" y="317.29999999999995" width="6.00" height="6.2" fill="#000"/>
<rect x="434.5" y="317.29999999999995" width="2.00" height="6.2" fill="#000"/>
<rect x="438" y="317.29999999999995" width="10.00" height="6.2" fill="#000"/>
<rect x="449" y="317.29999999999995" width="2.50" height="6.2" fill="#000"/>
<rect x="452.5" y="317.29999999999995" width="9.50" height="6.2" fill="#000"/>
<rect x="463" y="317.29999999999995" width="22.60" height="6.2" fill="#000"/>
<path d="M320.50,363.54 C321.04,362.35 322.65,358.92 323.73,356.42 C324.80,353.91 325.88,350.57 326.95,348.52 C328.02,346.46 329.10,345.62 330.18,344.08 C331.25,342.53 332.32,340.99 333.40,339.23 C334.47,337.46 335.55,334.93 336.62,333.49 C337.70,332.05 338.78,331.48 339.85,330.59 C340.93,329.71 342.00,328.97 343.07,328.17 C344.15,327.36 345.23,325.90 346.30,325.75 C347.38,325.61 348.45,326.49 349.52,327.31 C350.60,328.13 351.68,329.76 352.75,330.66 C353.82,331.56 354.90,332.51 355.98,332.71 C357.05,332.91 358.12,332.02 359.20,331.87 C360.27,331.73 361.35,331.77 362.43,331.83 C363.50,331.89 364.57,332.52 365.65,332.25 C366.72,331.99 367.80,330.73 368.88,330.26 C369.95,329.78 371.03,329.55 372.10,329.42 C373.18,329.28 374.25,329.32 375.32,329.45 C376.40,329.58 377.48,329.43 378.55,330.18 C379.62,330.93 380.70,332.21 381.77,333.96 C382.85,335.70 383.93,337.99 385.00,340.65 C386.07,343.31 387.15,347.52 388.23,349.89 C389.30,352.26 390.38,353.48 391.45,354.88 C392.52,356.29 393.60,357.65 394.68,358.30 C395.75,358.96 396.82,359.11 397.90,358.81 C398.97,358.51 400.05,357.99 401.12,356.50 C402.20,355.01 403.28,352.63 404.35,349.87 C405.43,347.11 406.50,342.12 407.57,339.95 C408.65,337.77 409.73,338.22 410.80,336.81 C411.88,335.39 412.95,332.64 414.02,331.46 C415.10,330.27 416.18,330.08 417.25,329.70 C418.32,329.32 419.40,328.76 420.48,329.19 C421.55,329.62 422.62,331.05 423.70,332.28 C424.77,333.52 425.85,335.27 426.93,336.62 C428.00,337.97 429.07,338.92 430.15,340.37 C431.22,341.81 432.30,344.50 433.38,345.28 C434.45,346.05 435.53,345.35 436.60,345.03 C437.68,344.70 438.75,343.88 439.82,343.32 C440.90,342.77 441.98,342.40 443.05,341.70 C444.12,341.00 445.20,340.00 446.27,339.10 C447.35,338.20 448.43,337.12 449.50,336.30 C450.57,335.48 451.65,334.86 452.73,334.17 C453.80,333.49 454.88,332.17 455.95,332.19 C457.03,332.22 458.10,333.99 459.18,334.33 C460.25,334.66 461.32,333.92 462.40,334.22 C463.47,334.51 464.55,336.29 465.62,336.09 C466.70,335.88 467.78,333.86 468.85,332.99 C469.93,332.12 471.00,331.48 472.08,330.88 C473.15,330.28 474.23,329.91 475.30,329.41 C476.38,328.91 477.45,328.20 478.52,327.90 C479.60,327.59 480.68,327.44 481.75,327.58 C482.82,327.72 483.90,328.47 484.98,328.73 C486.05,328.99 487.66,329.07 488.20,329.13" fill="none" stroke="#8c8c8c" stroke-width="1.2" stroke-linejoin="round"/>
<path d="M320.50,358.57 C321.04,357.58 322.65,354.80 323.73,352.62 C324.80,350.43 325.88,347.35 326.95,345.46 C328.02,343.57 329.10,342.44 330.18,341.27 C331.25,340.10 332.32,339.26 333.40,338.45 C334.47,337.64 335.55,337.11 336.62,336.38 C337.70,335.65 338.78,334.78 339.85,334.07 C340.93,333.36 342.00,332.72 343.07,332.12 C344.15,331.53 345.23,330.77 346.30,330.51 C347.38,330.25 348.45,330.67 349.52,330.58 C350.60,330.49 351.68,330.02 352.75,329.97 C353.82,329.92 354.90,330.12 355.98,330.28 C357.05,330.45 358.12,330.48 359.20,330.96 C360.27,331.44 361.35,332.47 362.43,333.18 C363.50,333.88 364.57,335.42 365.65,335.18 C366.72,334.94 367.80,332.79 368.88,331.74 C369.95,330.68 371.03,329.64 372.10,328.86 C373.18,328.09 374.25,327.64 375.32,327.09 C376.40,326.55 377.48,325.13 378.55,325.60 C379.62,326.08 380.70,328.20 381.77,329.95 C382.85,331.69 383.93,332.70 385.00,336.07 C386.07,339.44 387.15,346.40 388.23,350.15 C389.30,353.89 390.38,356.51 391.45,358.54 C392.52,360.58 393.60,361.66 394.68,362.37 C395.75,363.07 396.82,362.89 397.90,362.77 C398.97,362.65 400.05,363.40 401.12,361.65 C402.20,359.90 403.28,355.55 404.35,352.26 C405.43,348.96 406.50,344.60 407.57,341.87 C408.65,339.15 409.73,337.68 410.80,335.93 C411.88,334.19 412.95,332.24 414.02,331.41 C415.10,330.57 416.18,331.00 417.25,330.92 C418.32,330.84 419.40,330.18 420.48,330.92 C421.55,331.66 422.62,333.75 423.70,335.37 C424.77,336.98 425.85,337.74 426.93,340.60 C428.00,343.46 429.07,349.01 430.15,352.52 C431.22,356.03 432.30,360.45 433.38,361.66 C434.45,362.86 435.53,361.51 436.60,359.74 C437.68,357.97 438.75,353.91 439.82,351.03 C440.90,348.15 441.98,344.40 443.05,342.44 C444.12,340.49 445.20,340.40 446.27,339.32 C447.35,338.24 448.43,337.12 449.50,335.96 C450.57,334.79 451.65,333.30 452.73,332.33 C453.80,331.35 454.88,330.53 455.95,330.12 C457.03,329.71 458.10,329.70 459.18,329.84 C460.25,329.98 461.32,330.75 462.40,330.97 C463.47,331.19 464.55,331.20 465.62,331.15 C466.70,331.09 467.78,330.53 468.85,330.65 C469.93,330.78 471.00,331.62 472.08,331.88 C473.15,332.15 474.23,332.36 475.30,332.25 C476.38,332.14 477.45,331.66 478.52,331.21 C479.60,330.77 480.68,329.98 481.75,329.55 C482.82,329.12 483.90,328.92 484.98,328.62 C486.05,328.31 487.66,327.88 488.20,327.73" fill="none" stroke="#8c8c8c" stroke-width="1.2" stroke-linejoin="round"/>
<path d="M320.50,370.17 C321.04,369.15 322.65,366.17 323.73,364.05 C324.80,361.92 325.88,359.33 326.95,357.42 C328.02,355.51 329.10,354.40 330.18,352.58 C331.25,350.76 332.32,348.05 333.40,346.51 C334.47,344.98 335.55,344.60 336.62,343.37 C337.70,342.14 338.78,340.77 339.85,339.12 C340.93,337.46 342.00,334.71 343.07,333.43 C344.15,332.14 345.23,331.82 346.30,331.40 C347.38,330.98 348.45,330.69 349.52,330.91 C350.60,331.13 351.68,332.40 352.75,332.72 C353.82,333.04 354.90,332.89 355.98,332.80 C357.05,332.71 358.12,332.44 359.20,332.17 C360.27,331.89 361.35,331.58 362.43,331.15 C363.50,330.72 364.57,329.83 365.65,329.57 C366.72,329.30 367.80,329.73 368.88,329.59 C369.95,329.45 371.03,328.65 372.10,328.75 C373.18,328.84 374.25,330.00 375.32,330.15 C376.40,330.31 377.48,328.96 378.55,329.68 C379.62,330.40 380.70,332.79 381.77,334.49 C382.85,336.19 383.93,337.20 385.00,339.89 C386.07,342.57 387.15,348.04 388.23,350.60 C389.30,353.17 390.38,354.17 391.45,355.27 C392.52,356.36 393.60,356.73 394.68,357.15 C395.75,357.57 396.82,358.02 397.90,357.78 C398.97,357.53 400.05,356.72 401.12,355.68 C402.20,354.64 403.28,353.66 404.35,351.55 C405.43,349.43 406.50,344.97 407.57,342.98 C408.65,340.99 409.73,340.67 410.80,339.61 C411.88,338.54 412.95,337.04 414.02,336.59 C415.10,336.13 416.18,336.89 417.25,336.88 C418.32,336.87 419.40,336.35 420.48,336.52 C421.55,336.69 422.62,337.00 423.70,337.91 C424.77,338.83 425.85,339.55 426.93,342.01 C428.00,344.47 429.07,349.65 430.15,352.68 C431.22,355.70 432.30,359.34 433.38,360.18 C434.45,361.01 435.53,359.66 436.60,357.69 C437.68,355.71 438.75,350.94 439.82,348.33 C440.90,345.72 441.98,343.50 443.05,342.00 C444.12,340.50 445.20,340.02 446.27,339.35 C447.35,338.67 448.43,338.50 449.50,337.93 C450.57,337.36 451.65,336.45 452.73,335.90 C453.80,335.36 454.88,335.29 455.95,334.67 C457.03,334.06 458.10,332.93 459.18,332.21 C460.25,331.50 461.32,330.95 462.40,330.38 C463.47,329.80 464.55,328.69 465.62,328.76 C466.70,328.83 467.78,329.86 468.85,330.80 C469.93,331.74 471.00,333.67 472.08,334.39 C473.15,335.11 474.23,335.39 475.30,335.12 C476.38,334.86 477.45,333.58 478.52,332.81 C479.60,332.04 480.68,331.00 481.75,330.51 C482.82,330.02 483.90,329.85 484.98,329.85 C486.05,329.84 487.66,330.36 488.20,330.46" fill="none" stroke="#8c8c8c" stroke-width="1.2" stroke-linejoin="round"/>
<path d="M320.50,379.72 C321.04,378.38 322.65,374.20 323.73,371.65 C324.80,369.09 325.88,366.69 326.95,364.41 C328.02,362.13 329.10,360.24 330.18,357.96 C331.25,355.67 332.32,352.76 333.40,350.70 C334.47,348.64 335.55,347.61 336.62,345.58 C337.70,343.55 338.78,340.81 339.85,338.51 C340.93,336.22 342.00,333.38 343.07,331.82 C344.15,330.25 345.23,329.55 346.30,329.11 C347.38,328.66 348.45,329.22 349.52,329.15 C350.60,329.07 351.68,328.84 352.75,328.63 C353.82,328.42 354.90,328.24 355.98,327.90 C357.05,327.55 358.12,326.70 359.20,326.57 C360.27,326.44 361.35,326.81 362.43,327.13 C363.50,327.45 364.57,328.31 365.65,328.47 C366.72,328.62 367.80,328.01 368.88,328.06 C369.95,328.11 371.03,328.42 372.10,328.78 C373.18,329.14 374.25,330.04 375.32,330.22 C376.40,330.40 377.48,329.24 378.55,329.85 C379.62,330.45 380.70,332.60 381.77,333.85 C382.85,335.10 383.93,335.77 385.00,337.33 C386.07,338.88 387.15,341.91 388.23,343.18 C389.30,344.44 390.38,344.54 391.45,344.91 C392.52,345.28 393.60,345.73 394.68,345.39 C395.75,345.06 396.82,343.37 397.90,342.88 C398.97,342.39 400.05,342.39 401.12,342.45 C402.20,342.52 403.28,343.89 404.35,343.25 C405.43,342.62 406.50,339.90 407.57,338.66 C408.65,337.42 409.73,336.79 410.80,335.84 C411.88,334.88 412.95,333.25 414.02,332.93 C415.10,332.60 416.18,333.65 417.25,333.86 C418.32,334.08 419.40,333.67 420.48,334.21 C421.55,334.74 422.62,336.30 423.70,337.07 C424.77,337.85 425.85,338.56 426.93,338.85 C428.00,339.15 429.07,338.64 430.15,338.83 C431.22,339.02 432.30,340.19 433.38,340.00 C434.45,339.81 435.53,337.93 436.60,337.70 C437.68,337.47 438.75,338.23 439.82,338.61 C440.90,338.99 441.98,339.99 443.05,339.99 C444.12,339.99 445.20,339.07 446.27,338.59 C447.35,338.11 448.43,337.60 449.50,337.09 C450.57,336.57 451.65,335.78 452.73,335.50 C453.80,335.21 454.88,335.70 455.95,335.38 C457.03,335.06 458.10,333.76 459.18,333.59 C460.25,333.43 461.32,334.48 462.40,334.38 C463.47,334.27 464.55,333.55 465.62,332.97 C466.70,332.38 467.78,331.54 468.85,330.86 C469.93,330.17 471.00,329.49 472.08,328.83 C473.15,328.17 474.23,326.86 475.30,326.90 C476.38,326.93 477.45,328.25 478.52,329.06 C479.60,329.87 480.68,331.40 481.75,331.75 C482.82,332.11 483.90,331.79 484.98,331.20 C486.05,330.61 487.66,328.71 488.20,328.21" fill="none" stroke="#8c8c8c" stroke-width="1.2" stroke-linejoin="round"/>
<path d="M320.50,372.70 C321.04,371.39 322.65,367.59 323.73,364.80 C324.80,362.02 325.88,358.54 326.95,355.99 C328.02,353.43 329.10,351.34 330.18,349.45 C331.25,347.57 332.32,345.92 333.40,344.66 C334.47,343.41 335.55,343.25 336.62,341.92 C337.70,340.59 338.78,338.25 339.85,336.69 C340.93,335.14 342.00,333.86 343.07,332.60 C344.15,331.34 345.23,329.44 346.30,329.15 C347.38,328.87 348.45,330.47 349.52,330.91 C350.60,331.36 351.68,331.24 352.75,331.83 C353.82,332.41 354.90,334.30 355.98,334.42 C357.05,334.55 358.12,332.92 359.20,332.56 C360.27,332.20 361.35,332.36 362.43,332.26 C363.50,332.16 364.57,332.23 365.65,331.97 C366.72,331.72 367.80,331.13 368.88,330.73 C369.95,330.33 371.03,329.73 372.10,329.59 C373.18,329.45 374.25,329.73 375.32,329.87 C376.40,330.02 377.48,329.65 378.55,330.44 C379.62,331.22 380.70,332.94 381.77,334.60 C382.85,336.25 383.93,338.13 385.00,340.38 C386.07,342.63 387.15,346.35 388.23,348.08 C389.30,349.82 390.38,350.18 391.45,350.78 C392.52,351.38 393.60,351.70 394.68,351.66 C395.75,351.63 396.82,351.25 397.90,350.57 C398.97,349.89 400.05,348.74 401.12,347.56 C402.20,346.37 403.28,345.19 404.35,343.45 C405.43,341.71 406.50,338.76 407.57,337.11 C408.65,335.47 409.73,334.44 410.80,333.56 C411.88,332.69 412.95,332.13 414.02,331.84 C415.10,331.56 416.18,331.61 417.25,331.85 C418.32,332.08 419.40,332.44 420.48,333.28 C421.55,334.11 422.62,335.41 423.70,336.85 C424.77,338.29 425.85,339.66 426.93,341.93 C428.00,344.20 429.07,348.21 430.15,350.48 C431.22,352.75 432.30,355.30 433.38,355.54 C434.45,355.77 435.53,353.67 436.60,351.89 C437.68,350.11 438.75,346.93 439.82,344.87 C440.90,342.81 441.98,340.58 443.05,339.53 C444.12,338.49 445.20,338.90 446.27,338.61 C447.35,338.32 448.43,338.27 449.50,337.79 C450.57,337.31 451.65,336.16 452.73,335.74 C453.80,335.31 454.88,335.42 455.95,335.23 C457.03,335.04 458.10,334.97 459.18,334.58 C460.25,334.20 461.32,333.39 462.40,332.94 C463.47,332.48 464.55,332.01 465.62,331.86 C466.70,331.70 467.78,331.91 468.85,332.00 C469.93,332.09 471.00,332.22 472.08,332.40 C473.15,332.58 474.23,333.38 475.30,333.07 C476.38,332.76 477.45,331.03 478.52,330.52 C479.60,330.01 480.68,330.29 481.75,329.99 C482.82,329.69 483.90,329.10 484.98,328.70 C486.05,328.30 487.66,327.77 488.20,327.59" fill="none" stroke="#8c8c8c" stroke-width="1.2" stroke-linejoin="round"/>
<path d="M320.50,354.91 C321.04,353.90 322.65,350.56 323.73,348.85 C324.80,347.14 325.88,345.82 326.95,344.64 C328.02,343.46 329.10,342.86 330.18,341.76 C331.25,340.65 332.32,339.05 333.40,338.01 C334.47,336.97 335.55,336.20 336.62,335.52 C337.70,334.84 338.78,334.33 339.85,333.93 C340.93,333.52 342.00,333.00 343.07,333.08 C344.15,333.16 345.23,334.05 346.30,334.43 C347.38,334.82 348.45,335.51 349.52,335.39 C350.60,335.28 351.68,334.07 352.75,333.74 C353.82,333.42 354.90,333.70 355.98,333.45 C357.05,333.20 358.12,332.38 359.20,332.24 C360.27,332.10 361.35,332.38 362.43,332.62 C363.50,332.86 364.57,333.74 365.65,333.68 C366.72,333.61 367.80,332.95 368.88,332.21 C369.95,331.47 371.03,329.74 372.10,329.23 C373.18,328.72 374.25,328.79 375.32,329.15 C376.40,329.52 377.48,330.30 378.55,331.41 C379.62,332.51 380.70,333.77 381.77,335.78 C382.85,337.79 383.93,339.99 385.00,343.44 C386.07,346.89 387.15,353.13 388.23,356.48 C389.30,359.83 390.38,362.17 391.45,363.53 C392.52,364.90 393.60,365.05 394.68,364.66 C395.75,364.26 396.82,362.98 397.90,361.14 C398.97,359.31 400.05,356.22 401.12,353.66 C402.20,351.11 403.28,348.73 404.35,345.80 C405.43,342.87 406.50,338.13 407.57,336.08 C408.65,334.04 409.73,334.35 410.80,333.52 C411.88,332.69 412.95,331.24 414.02,331.09 C415.10,330.94 416.18,332.21 417.25,332.63 C418.32,333.06 419.40,333.29 420.48,333.64 C421.55,333.98 422.62,334.07 423.70,334.70 C424.77,335.34 425.85,336.48 426.93,337.45 C428.00,338.42 429.07,339.29 430.15,340.54 C431.22,341.79 432.30,344.36 433.38,344.94 C434.45,345.51 435.53,344.66 436.60,343.99 C437.68,343.33 438.75,342.18 439.82,340.95 C440.90,339.71 441.98,337.77 443.05,336.58 C444.12,335.39 445.20,334.38 446.27,333.82 C447.35,333.27 448.43,333.65 449.50,333.24 C450.57,332.82 451.65,331.67 452.73,331.35 C453.80,331.03 454.88,331.24 455.95,331.32 C457.03,331.39 458.10,331.94 459.18,331.79 C460.25,331.64 461.32,330.50 462.40,330.40 C463.47,330.31 464.55,330.88 465.62,331.23 C466.70,331.58 467.78,332.02 468.85,332.50 C469.93,332.97 471.00,333.88 472.08,334.07 C473.15,334.25 474.23,333.89 475.30,333.62 C476.38,333.34 477.45,332.91 478.52,332.42 C479.60,331.93 480.68,331.02 481.75,330.69 C482.82,330.35 483.90,330.47 484.98,330.39 C486.05,330.31 487.66,330.23 488.20,330.20" fill="none" stroke="#8c8c8c" stroke-width="1.2" stroke-linejoin="round"/>
<path d="M320.50,351.51 C321.04,350.19 322.65,345.85 323.73,343.64 C324.80,341.43 325.88,339.95 326.95,338.25 C328.02,336.56 329.10,334.69 330.18,333.45 C331.25,332.21 332.32,331.43 333.40,330.81 C334.47,330.19 335.55,330.15 336.62,329.72 C337.70,329.30 338.78,328.32 339.85,328.25 C340.93,328.19 342.00,329.26 343.07,329.31 C344.15,329.37 345.23,328.91 346.30,328.59 C347.38,328.26 348.45,327.56 349.52,327.37 C350.60,327.18 351.68,327.73 352.75,327.46 C353.82,327.19 354.90,326.09 355.98,325.76 C357.05,325.43 358.12,325.03 359.20,325.46 C360.27,325.89 361.35,327.66 362.43,328.34 C363.50,329.01 364.57,329.29 365.65,329.51 C366.72,329.73 367.80,329.49 368.88,329.66 C369.95,329.84 371.03,330.38 372.10,330.55 C373.18,330.72 374.25,330.48 375.32,330.69 C376.40,330.89 377.48,330.75 378.55,331.78 C379.62,332.80 380.70,335.37 381.77,336.82 C382.85,338.26 383.93,338.74 385.00,340.44 C386.07,342.15 387.15,345.51 388.23,347.04 C389.30,348.58 390.38,349.13 391.45,349.67 C392.52,350.20 393.60,350.82 394.68,350.26 C395.75,349.71 396.82,347.39 397.90,346.34 C398.97,345.30 400.05,344.93 401.12,343.99 C402.20,343.06 403.28,342.04 404.35,340.73 C405.43,339.43 406.50,337.65 407.57,336.16 C408.65,334.67 409.73,332.64 410.80,331.80 C411.88,330.96 412.95,330.71 414.02,331.11 C415.10,331.51 416.18,333.01 417.25,334.19 C418.32,335.37 419.40,337.10 420.48,338.18 C421.55,339.26 422.62,339.56 423.70,340.68 C424.77,341.79 425.85,342.77 426.93,344.89 C428.00,347.01 429.07,351.24 430.15,353.38 C431.22,355.53 432.30,357.69 433.38,357.76 C434.45,357.82 435.53,355.65 436.60,353.77 C437.68,351.89 438.75,349.21 439.82,346.46 C440.90,343.70 441.98,339.41 443.05,337.24 C444.12,335.07 445.20,334.57 446.27,333.43 C447.35,332.30 448.43,331.09 449.50,330.43 C450.57,329.76 451.65,329.79 452.73,329.43 C453.80,329.07 454.88,328.51 455.95,328.26 C457.03,328.01 458.10,328.04 459.18,327.92 C460.25,327.81 461.32,327.37 462.40,327.56 C463.47,327.76 464.55,328.42 465.62,329.09 C466.70,329.77 467.78,330.99 468.85,331.62 C469.93,332.24 471.00,332.39 472.08,332.86 C473.15,333.33 474.23,334.36 475.30,334.44 C476.38,334.51 477.45,333.51 478.52,333.31 C479.60,333.10 480.68,333.46 481.75,333.19 C482.82,332.92 483.90,332.38 484.98,331.68 C486.05,330.99 487.66,329.48 488.20,329.03" fill="none" stroke="#8c8c8c" stroke-width="1.2" stroke-linejoin="round"/>
<path d="M320.50,369.87 C321.04,368.80 322.65,365.28 323.73,363.44 C324.80,361.60 325.88,360.30 326.95,358.86 C328.02,357.41 329.10,356.73 330.18,354.76 C331.25,352.79 332.32,349.32 333.40,347.03 C334.47,344.75 335.55,343.03 336.62,341.05 C337.70,339.08 338.78,336.65 339.85,335.19 C340.93,333.73 342.00,333.08 343.07,332.29 C344.15,331.49 345.23,330.98 346.30,330.41 C347.38,329.84 348.45,329.13 349.52,328.88 C350.60,328.63 351.68,328.93 352.75,328.91 C353.82,328.89 354.90,328.91 355.98,328.74 C357.05,328.58 358.12,327.97 359.20,327.92 C360.27,327.87 361.35,328.20 362.43,328.43 C363.50,328.67 364.57,329.18 365.65,329.32 C366.72,329.47 367.80,329.31 368.88,329.32 C369.95,329.33 371.03,328.96 372.10,329.36 C373.18,329.76 374.25,331.83 375.32,331.72 C376.40,331.61 377.48,328.93 378.55,328.68 C379.62,328.42 380.70,329.29 381.77,330.19 C382.85,331.09 383.93,331.97 385.00,334.07 C386.07,336.18 387.15,340.63 388.23,342.83 C389.30,345.03 390.38,345.89 391.45,347.25 C392.52,348.62 393.60,350.56 394.68,351.02 C395.75,351.49 396.82,350.28 397.90,350.06 C398.97,349.84 400.05,350.30 401.12,349.73 C402.20,349.15 403.28,348.21 404.35,346.62 C405.43,345.02 406.50,342.17 407.57,340.17 C408.65,338.16 409.73,335.89 410.80,334.56 C411.88,333.24 412.95,332.54 414.02,332.20 C415.10,331.87 416.18,332.34 417.25,332.57 C418.32,332.79 419.40,333.12 420.48,333.58 C421.55,334.04 422.62,334.37 423.70,335.34 C424.77,336.31 425.85,337.70 426.93,339.39 C428.00,341.08 429.07,343.14 430.15,345.49 C431.22,347.84 432.30,351.98 433.38,353.48 C434.45,354.98 435.53,355.53 436.60,354.49 C437.68,353.45 438.75,349.90 439.82,347.25 C440.90,344.60 441.98,340.89 443.05,338.58 C444.12,336.27 445.20,334.35 446.27,333.38 C447.35,332.42 448.43,332.92 449.50,332.79 C450.57,332.67 451.65,332.50 452.73,332.63 C453.80,332.75 454.88,333.16 455.95,333.53 C457.03,333.90 458.10,334.59 459.18,334.86 C460.25,335.13 461.32,335.08 462.40,335.16 C463.47,335.24 464.55,335.27 465.62,335.35 C466.70,335.44 467.78,335.86 468.85,335.67 C469.93,335.49 471.00,334.42 472.08,334.25 C473.15,334.07 474.23,334.85 475.30,334.62 C476.38,334.39 477.45,333.39 478.52,332.86 C479.60,332.33 480.68,331.62 481.75,331.43 C482.82,331.25 483.90,331.65 484.98,331.75 C486.05,331.85 487.66,331.99 488.20,332.04" fill="none" stroke="#8c8c8c" stroke-width="1.2" stroke-linejoin="round"/>
<path d="M320.50,376.74 C321.04,375.46 322.65,371.70 323.73,369.07 C324.80,366.43 325.88,363.24 326.95,360.94 C328.02,358.64 329.10,357.46 330.18,355.27 C331.25,353.07 332.32,349.93 333.40,347.75 C334.47,345.57 335.55,344.04 336.62,342.19 C337.70,340.34 338.78,338.06 339.85,336.64 C340.93,335.23 342.00,334.44 343.07,333.68 C344.15,332.92 345.23,332.13 346.30,332.08 C347.38,332.02 348.45,333.33 349.52,333.34 C350.60,333.35 351.68,332.30 352.75,332.13 C353.82,331.95 354.90,332.51 355.98,332.28 C357.05,332.05 358.12,330.76 359.20,330.75 C360.27,330.73 361.35,331.83 362.43,332.17 C363.50,332.50 364.57,332.95 365.65,332.76 C366.72,332.58 367.80,332.04 368.88,331.07 C369.95,330.10 371.03,327.65 372.10,326.96 C373.18,326.28 374.25,326.50 375.32,326.96 C376.40,327.42 377.48,328.56 378.55,329.72 C379.62,330.88 380.70,331.87 381.77,333.93 C382.85,335.98 383.93,339.23 385.00,342.07 C386.07,344.90 387.15,348.55 388.23,350.96 C389.30,353.37 390.38,355.59 391.45,356.54 C392.52,357.49 393.60,357.20 394.68,356.66 C395.75,356.11 396.82,354.50 397.90,353.24 C398.97,351.99 400.05,350.64 401.12,349.12 C402.20,347.60 403.28,345.93 404.35,344.12 C405.43,342.31 406.50,339.92 407.57,338.26 C408.65,336.59 409.73,334.88 410.80,334.11 C411.88,333.34 412.95,333.68 414.02,333.64 C415.10,333.60 416.18,333.43 417.25,333.87 C418.32,334.31 419.40,336.03 420.48,336.29 C421.55,336.55 422.62,335.48 423.70,335.44 C424.77,335.40 425.85,334.79 426.93,336.06 C428.00,337.34 429.07,340.52 430.15,343.06 C431.22,345.61 432.30,349.68 433.38,351.35 C434.45,353.03 435.53,353.96 436.60,353.11 C437.68,352.25 438.75,348.29 439.82,346.22 C440.90,344.16 441.98,342.55 443.05,340.73 C444.12,338.90 445.20,336.37 446.27,335.28 C447.35,334.20 448.43,334.42 449.50,334.22 C450.57,334.01 451.65,333.96 452.73,334.06 C453.80,334.15 454.88,335.06 455.95,334.80 C457.03,334.53 458.10,333.37 459.18,332.46 C460.25,331.55 461.32,329.94 462.40,329.34 C463.47,328.74 464.55,328.92 465.62,328.88 C466.70,328.84 467.78,328.81 468.85,329.08 C469.93,329.35 471.00,330.07 472.08,330.51 C473.15,330.96 474.23,331.79 475.30,331.75 C476.38,331.70 477.45,330.67 478.52,330.25 C479.60,329.83 480.68,329.47 481.75,329.23 C482.82,328.98 483.90,329.18 484.98,328.80 C486.05,328.42 487.66,327.26 488.20,326.95" fill="none" stroke="#8c8c8c" stroke-width="1.2" stroke-linejoin="round"/>
<path d="M320.50,346.22 C321.04,345.31 322.65,342.30 323.73,340.73 C324.80,339.15 325.88,338.03 326.95,336.79 C328.02,335.54 329.10,334.11 330.18,333.26 C331.25,332.41 332.32,331.99 333.40,331.69 C334.47,331.39 335.55,331.94 336.62,331.46 C337.70,330.99 338.78,329.48 339.85,328.84 C340.93,328.20 342.00,328.02 343.07,327.60 C344.15,327.19 345.23,326.66 346.30,326.37 C347.38,326.07 348.45,326.00 349.52,325.85 C350.60,325.69 351.68,325.42 352.75,325.46 C353.82,325.49 354.90,326.07 355.98,326.07 C357.05,326.07 358.12,325.07 359.20,325.46 C360.27,325.85 361.35,327.43 362.43,328.41 C363.50,329.38 364.57,331.03 365.65,331.28 C366.72,331.53 367.80,330.45 368.88,329.91 C369.95,329.37 371.03,328.19 372.10,328.03 C373.18,327.86 374.25,328.70 375.32,328.91 C376.40,329.13 377.48,328.34 378.55,329.32 C379.62,330.29 380.70,333.25 381.77,334.77 C382.85,336.30 383.93,337.19 385.00,338.48 C386.07,339.78 387.15,341.80 388.23,342.54 C389.30,343.27 390.38,342.47 391.45,342.89 C392.52,343.31 393.60,344.59 394.68,345.05 C395.75,345.50 396.82,345.38 397.90,345.63 C398.97,345.88 400.05,346.63 401.12,346.55 C402.20,346.46 403.28,345.99 404.35,345.13 C405.43,344.26 406.50,342.52 407.57,341.35 C408.65,340.17 409.73,339.33 410.80,338.09 C411.88,336.85 412.95,334.57 414.02,333.90 C415.10,333.23 416.18,334.01 417.25,334.09 C418.32,334.17 419.40,333.83 420.48,334.38 C421.55,334.93 422.62,336.20 423.70,337.40 C424.77,338.60 425.85,338.86 426.93,341.58 C428.00,344.30 429.07,350.13 430.15,353.74 C431.22,357.35 432.30,362.14 433.38,363.24 C434.45,364.35 435.53,362.24 436.60,360.36 C437.68,358.48 438.75,354.69 439.82,351.95 C440.90,349.21 441.98,345.89 443.05,343.91 C444.12,341.93 445.20,340.99 446.27,340.07 C447.35,339.14 448.43,339.17 449.50,338.36 C450.57,337.56 451.65,335.74 452.73,335.22 C453.80,334.69 454.88,335.35 455.95,335.22 C457.03,335.09 458.10,334.48 459.18,334.45 C460.25,334.42 461.32,335.02 462.40,335.04 C463.47,335.06 464.55,334.66 465.62,334.55 C466.70,334.44 467.78,334.30 468.85,334.37 C469.93,334.44 471.00,335.06 472.08,334.97 C473.15,334.87 474.23,334.41 475.30,333.80 C476.38,333.18 477.45,332.15 478.52,331.27 C479.60,330.39 480.68,329.13 481.75,328.54 C482.82,327.95 483.90,328.13 484.98,327.75 C486.05,327.36 487.66,326.48 488.20,326.22" fill="none" stroke="#8c8c8c" stroke-width="1.2" stroke-linejoin="round"/>
<path d="M320.50,361.48 C321.04,360.47 322.65,357.67 323.73,355.38 C324.80,353.09 325.88,349.64 326.95,347.74 C328.02,345.85 329.10,345.29 330.18,343.99 C331.25,342.70 332.32,341.24 333.40,339.95 C334.47,338.66 335.55,337.57 336.62,336.24 C337.70,334.90 338.78,333.13 339.85,331.93 C340.93,330.73 342.00,329.92 343.07,329.05 C344.15,328.19 345.23,326.93 346.30,326.74 C347.38,326.55 348.45,327.33 349.52,327.91 C350.60,328.48 351.68,329.44 352.75,330.18 C353.82,330.92 354.90,331.89 355.98,332.37 C357.05,332.85 358.12,332.91 359.20,333.07 C360.27,333.22 361.35,333.03 362.43,333.30 C363.50,333.57 364.57,334.85 365.65,334.70 C366.72,334.55 367.80,333.06 368.88,332.40 C369.95,331.74 371.03,331.11 372.10,330.72 C373.18,330.32 374.25,330.31 375.32,330.02 C376.40,329.73 377.48,328.66 378.55,328.98 C379.62,329.30 380.70,329.88 381.77,331.94 C382.85,334.00 383.93,337.06 385.00,341.34 C386.07,345.62 387.15,353.00 388.23,357.60 C389.30,362.20 390.38,366.41 391.45,368.95 C392.52,371.50 393.60,372.88 394.68,372.86 C395.75,372.84 396.82,370.59 397.90,368.83 C398.97,367.07 400.05,365.31 401.12,362.29 C402.20,359.26 403.28,355.24 404.35,350.69 C405.43,346.13 406.50,338.32 407.57,334.98 C408.65,331.63 409.73,331.20 410.80,330.62 C411.88,330.04 412.95,330.92 414.02,331.50 C415.10,332.07 416.18,333.15 417.25,334.09 C418.32,335.02 419.40,336.32 420.48,337.09 C421.55,337.87 422.62,338.31 423.70,338.76 C424.77,339.20 425.85,339.28 426.93,339.79 C428.00,340.29 429.07,341.05 430.15,341.77 C431.22,342.48 432.30,344.32 433.38,344.09 C434.45,343.87 435.53,341.33 436.60,340.43 C437.68,339.52 438.75,339.33 439.82,338.68 C440.90,338.04 441.98,337.52 443.05,336.56 C444.12,335.60 445.20,333.82 446.27,332.92 C447.35,332.03 448.43,331.88 449.50,331.19 C450.57,330.50 451.65,329.25 452.73,328.79 C453.80,328.32 454.88,328.17 455.95,328.39 C457.03,328.62 458.10,329.57 459.18,330.14 C460.25,330.70 461.32,331.31 462.40,331.79 C463.47,332.27 464.55,332.86 465.62,333.04 C466.70,333.22 467.78,332.79 468.85,332.85 C469.93,332.92 471.00,333.55 472.08,333.43 C473.15,333.31 474.23,332.71 475.30,332.12 C476.38,331.54 477.45,330.50 478.52,329.91 C479.60,329.33 480.68,328.79 481.75,328.59 C482.82,328.38 483.90,328.90 484.98,328.67 C486.05,328.44 487.66,327.45 488.20,327.20" fill="none" stroke="#8c8c8c" stroke-width="1.2" stroke-linejoin="round"/>
<path d="M320.50,356.00 C321.04,355.15 322.65,352.44 323.73,350.86 C324.80,349.29 325.88,347.77 326.95,346.55 C328.02,345.32 329.10,344.67 330.18,343.51 C331.25,342.36 332.32,340.86 333.40,339.61 C334.47,338.36 335.55,336.99 336.62,335.99 C337.70,334.99 338.78,334.40 339.85,333.60 C340.93,332.81 342.00,331.95 343.07,331.23 C344.15,330.51 345.23,329.60 346.30,329.29 C347.38,328.98 348.45,329.27 349.52,329.36 C350.60,329.45 351.68,329.56 352.75,329.84 C353.82,330.11 354.90,330.91 355.98,331.00 C357.05,331.09 358.12,330.47 359.20,330.37 C360.27,330.28 361.35,330.22 362.43,330.46 C363.50,330.70 364.57,331.62 365.65,331.81 C366.72,332.00 367.80,331.88 368.88,331.59 C369.95,331.31 371.03,330.19 372.10,330.08 C373.18,329.97 374.25,330.92 375.32,330.95 C376.40,330.97 377.48,329.51 378.55,330.21 C379.62,330.91 380.70,333.33 381.77,335.16 C382.85,336.99 383.93,338.06 385.00,341.18 C386.07,344.29 387.15,350.75 388.23,353.83 C389.30,356.91 390.38,358.13 391.45,359.65 C392.52,361.17 393.60,362.43 394.68,362.95 C395.75,363.46 396.82,363.14 397.90,362.73 C398.97,362.31 400.05,362.23 401.12,360.46 C402.20,358.68 403.28,355.43 404.35,352.09 C405.43,348.74 406.50,343.23 407.57,340.40 C408.65,337.57 409.73,336.44 410.80,335.10 C411.88,333.75 412.95,332.61 414.02,332.33 C415.10,332.05 416.18,332.83 417.25,333.41 C418.32,333.99 419.40,334.96 420.48,335.82 C421.55,336.69 422.62,337.71 423.70,338.61 C424.77,339.50 425.85,340.65 426.93,341.18 C428.00,341.71 429.07,341.28 430.15,341.80 C431.22,342.32 432.30,343.96 433.38,344.29 C434.45,344.62 435.53,344.18 436.60,343.80 C437.68,343.42 438.75,342.82 439.82,342.03 C440.90,341.24 441.98,340.21 443.05,339.05 C444.12,337.89 445.20,335.95 446.27,335.06 C447.35,334.17 448.43,333.99 449.50,333.68 C450.57,333.37 451.65,333.18 452.73,333.18 C453.80,333.19 454.88,333.77 455.95,333.71 C457.03,333.66 458.10,333.30 459.18,332.87 C460.25,332.45 461.32,331.66 462.40,331.16 C463.47,330.66 464.55,330.11 465.62,329.88 C466.70,329.65 467.78,329.55 468.85,329.76 C469.93,329.98 471.00,331.04 472.08,331.17 C473.15,331.30 474.23,330.74 475.30,330.53 C476.38,330.32 477.45,330.24 478.52,329.94 C479.60,329.64 480.68,328.69 481.75,328.72 C482.82,328.74 483.90,329.86 484.98,330.11 C486.05,330.36 487.66,330.19 488.20,330.21" fill="none" stroke="#8c8c8c" stroke-width="1.2" stroke-linejoin="round"/>
<path d="M320.50,347.51 C321.04,346.85 322.65,345.09 323.73,343.54 C324.80,341.99 325.88,339.48 326.95,338.22 C328.02,336.97 329.10,336.54 330.18,336.00 C331.25,335.47 332.32,335.16 333.40,335.04 C334.47,334.91 335.55,335.29 336.62,335.26 C337.70,335.22 338.78,335.60 339.85,334.83 C340.93,334.06 342.00,331.72 343.07,330.64 C344.15,329.55 345.23,328.89 346.30,328.31 C347.38,327.73 348.45,327.36 349.52,327.14 C350.60,326.91 351.68,326.76 352.75,326.96 C353.82,327.16 354.90,328.12 355.98,328.33 C357.05,328.55 358.12,327.61 359.20,328.27 C360.27,328.93 361.35,331.21 362.43,332.27 C363.50,333.32 364.57,334.55 365.65,334.60 C366.72,334.64 367.80,333.04 368.88,332.54 C369.95,332.05 371.03,331.61 372.10,331.64 C373.18,331.67 374.25,332.51 375.32,332.74 C376.40,332.97 377.48,332.29 378.55,333.02 C379.62,333.74 380.70,335.70 381.77,337.08 C382.85,338.47 383.93,340.41 385.00,341.33 C386.07,342.24 387.15,342.35 388.23,342.58 C389.30,342.80 390.38,342.74 391.45,342.69 C392.52,342.65 393.60,342.03 394.68,342.32 C395.75,342.60 396.82,343.62 397.90,344.40 C398.97,345.19 400.05,346.81 401.12,347.03 C402.20,347.25 403.28,346.85 404.35,345.73 C405.43,344.62 406.50,342.17 407.57,340.34 C408.65,338.51 409.73,336.39 410.80,334.73 C411.88,333.07 412.95,330.95 414.02,330.36 C415.10,329.77 416.18,331.08 417.25,331.19 C418.32,331.29 419.40,330.55 420.48,331.00 C421.55,331.44 422.62,332.68 423.70,333.87 C424.77,335.06 425.85,335.78 426.93,338.15 C428.00,340.52 429.07,345.46 430.15,348.11 C431.22,350.76 432.30,353.54 433.38,354.04 C434.45,354.54 435.53,352.65 436.60,351.10 C437.68,349.56 438.75,346.79 439.82,344.74 C440.90,342.70 441.98,339.77 443.05,338.83 C444.12,337.89 445.20,339.65 446.27,339.12 C447.35,338.59 448.43,336.53 449.50,335.64 C450.57,334.76 451.65,334.46 452.73,333.79 C453.80,333.11 454.88,331.76 455.95,331.60 C457.03,331.43 458.10,332.50 459.18,332.78 C460.25,333.07 461.32,333.19 462.40,333.28 C463.47,333.38 464.55,333.68 465.62,333.34 C466.70,333.01 467.78,331.92 468.85,331.28 C469.93,330.64 471.00,329.96 472.08,329.49 C473.15,329.02 474.23,328.66 475.30,328.45 C476.38,328.25 477.45,328.38 478.52,328.25 C479.60,328.12 480.68,327.68 481.75,327.68 C482.82,327.67 483.90,328.06 484.98,328.25 C486.05,328.44 487.66,328.71 488.20,328.80" fill="none" stroke="#8c8c8c" stroke-width="1.2" stroke-linejoin="round"/>
<path d="M320.50,361.66 C321.04,360.26 322.65,355.97 323.73,353.28 C324.80,350.59 325.88,347.64 326.95,345.55 C328.02,343.45 329.10,341.74 330.18,340.69 C331.25,339.64 332.32,339.49 333.40,339.26 C334.47,339.03 335.55,339.52 336.62,339.32 C337.70,339.11 338.78,338.47 339.85,338.03 C340.93,337.58 342.00,337.26 343.07,336.66 C344.15,336.07 345.23,335.07 346.30,334.44 C347.38,333.81 348.45,333.69 349.52,332.89 C350.60,332.09 351.68,330.72 352.75,329.66 C353.82,328.60 354.90,326.91 355.98,326.54 C357.05,326.17 358.12,326.68 359.20,327.45 C360.27,328.22 361.35,330.01 362.43,331.16 C363.50,332.31 364.57,334.00 365.65,334.35 C366.72,334.70 367.80,333.80 368.88,333.26 C369.95,332.71 371.03,331.41 372.10,331.11 C373.18,330.80 374.25,331.74 375.32,331.44 C376.40,331.14 377.48,329.36 378.55,329.29 C379.62,329.22 380.70,329.51 381.77,331.03 C382.85,332.55 383.93,334.87 385.00,338.41 C386.07,341.95 387.15,348.42 388.23,352.27 C389.30,356.11 390.38,359.58 391.45,361.49 C392.52,363.41 393.60,363.95 394.68,363.77 C395.75,363.59 396.82,361.86 397.90,360.41 C398.97,358.96 400.05,357.40 401.12,355.06 C402.20,352.71 403.28,349.35 404.35,346.34 C405.43,343.33 406.50,339.50 407.57,336.99 C408.65,334.47 409.73,332.46 410.80,331.25 C411.88,330.03 412.95,329.63 414.02,329.69 C415.10,329.76 416.18,331.01 417.25,331.63 C418.32,332.26 419.40,332.40 420.48,333.43 C421.55,334.45 422.62,336.35 423.70,337.78 C424.77,339.21 425.85,341.07 426.93,342.02 C428.00,342.96 429.07,342.73 430.15,343.47 C431.22,344.21 432.30,346.15 433.38,346.46 C434.45,346.78 435.53,345.98 436.60,345.37 C437.68,344.75 438.75,343.83 439.82,342.78 C440.90,341.74 441.98,340.57 443.05,339.10 C444.12,337.63 445.20,334.92 446.27,333.96 C447.35,332.99 448.43,333.41 449.50,333.31 C450.57,333.22 451.65,333.10 452.73,333.40 C453.80,333.70 454.88,334.99 455.95,335.10 C457.03,335.21 458.10,334.75 459.18,334.04 C460.25,333.34 461.32,331.70 462.40,330.85 C463.47,330.00 464.55,329.24 465.62,328.94 C466.70,328.64 467.78,329.14 468.85,329.06 C469.93,328.98 471.00,328.45 472.08,328.46 C473.15,328.46 474.23,329.06 475.30,329.10 C476.38,329.13 477.45,328.92 478.52,328.68 C479.60,328.45 480.68,327.76 481.75,327.68 C482.82,327.60 483.90,328.28 484.98,328.19 C486.05,328.11 487.66,327.35 488.20,327.18" fill="none" stroke="#8c8c8c" stroke-width="1.2" stroke-linejoin="round"/>
<path d="M320.50,387.49 C321.57,386.51 324.80,384.01 326.95,381.61 C329.10,379.22 331.25,377.26 333.40,373.12 C335.55,368.99 337.70,362.79 339.85,356.80 C342.00,350.81 344.15,341.56 346.30,337.21 C348.45,332.86 350.60,331.88 352.75,330.68 C354.90,329.48 357.05,327.52 359.20,330.03 C361.35,332.53 363.50,345.37 365.65,345.70 C367.80,346.03 369.95,334.38 372.10,331.99 C374.25,329.59 376.62,328.29 378.55,331.33 C380.49,334.38 382.20,342.43 383.71,350.27 C385.21,358.11 385.86,374.21 387.58,378.35 C389.30,382.48 391.99,374.87 394.03,375.08 C396.07,375.30 397.90,382.70 399.83,379.66 C401.77,376.61 403.81,363.87 405.64,356.80 C407.47,349.73 408.87,341.02 410.80,337.21 C412.74,333.40 415.10,332.86 417.25,333.94 C419.40,335.03 421.55,339.93 423.70,343.74 C425.85,347.55 428.00,354.08 430.15,356.80 C432.30,359.52 434.45,362.02 436.60,360.06 C438.75,358.11 440.90,346.35 443.05,345.05 C445.20,343.74 447.35,352.99 449.50,352.23 C451.65,351.47 453.80,343.52 455.95,340.48 C458.10,337.43 459.17,335.80 462.40,333.94 C465.62,332.09 471.00,326.93 475.30,329.37 C479.60,331.82 486.05,345.43 488.20,348.64" fill="none" stroke="#8c8c8c" stroke-width="1.2" stroke-linejoin="round"/>
<path d="M320.50,359.41 C321.57,357.13 325.01,349.18 326.95,345.70 C328.88,342.22 330.07,341.13 332.11,338.52 C334.15,335.90 337.27,331.12 339.21,330.03 C341.14,328.94 341.46,332.42 343.72,331.99 C345.98,331.55 349.52,327.63 352.75,327.42 C355.98,327.20 360.06,330.90 363.07,330.68 C366.08,330.46 368.23,326.49 370.81,326.11 C373.39,325.73 376.40,327.20 378.55,328.39 C380.70,329.59 382.05,330.95 383.71,333.29 C385.37,335.63 386.66,342.98 388.48,342.43 C390.31,341.89 392.68,331.55 394.68,330.03 C396.67,328.50 398.50,330.57 400.48,333.29 C402.46,336.01 404.82,346.13 406.54,346.35 C408.26,346.57 409.23,337.59 410.80,334.60 C412.37,331.61 413.49,328.50 415.96,328.39 C418.43,328.29 422.62,331.71 425.63,333.94 C428.64,336.18 431.55,341.56 434.02,341.78 C436.49,342.00 438.10,336.88 440.47,335.25 C442.83,333.62 443.91,333.13 448.21,331.99 C452.51,330.84 461.65,328.67 466.27,328.39 C470.89,328.12 473.15,328.45 475.94,330.35 C478.74,332.26 481.00,338.57 483.04,339.82 C485.08,341.07 487.34,338.19 488.20,337.86" fill="none" stroke="#f2a31e" stroke-width="1.5" stroke-linejoin="round"/>
<path d="M320.50,364.64 C321.57,361.92 325.23,350.49 326.95,348.31 C328.67,346.13 329.53,352.12 330.82,351.58 C332.11,351.03 332.75,348.09 334.69,345.05 C336.62,342.00 340.07,335.47 342.43,333.29 C344.80,331.12 346.30,332.09 348.88,331.99 C351.46,331.88 355.12,331.55 357.91,332.64 C360.70,333.73 363.07,338.41 365.65,338.52 C368.23,338.62 371.24,334.16 373.39,333.29 C375.54,332.42 376.83,329.48 378.55,333.29 C380.27,337.10 382.20,351.47 383.71,356.15 C385.21,360.83 386.08,360.72 387.58,361.37 C389.09,362.02 391.24,360.50 392.74,360.06 C394.25,359.63 394.89,358.54 396.61,358.76 C398.33,358.98 401.12,363.38 403.06,361.37 C405.00,359.36 406.07,351.03 408.22,346.68 C410.37,342.33 413.68,336.07 415.96,335.25 C418.24,334.43 419.10,337.48 421.89,341.78 C424.69,346.08 430.17,358.98 432.73,361.04 C435.29,363.11 435.52,356.58 437.24,354.19 C438.96,351.79 441.44,348.86 443.05,346.68 C444.66,344.50 445.63,342.71 446.92,341.13 C448.21,339.55 448.86,338.41 450.79,337.21 C452.73,336.01 455.09,335.58 458.53,333.94 C461.97,332.31 466.49,328.83 471.43,327.42 C476.38,326.00 485.41,325.78 488.20,325.46" fill="none" stroke="#e3301c" stroke-width="1.7" stroke-linejoin="round"/>
<path d="M320.50,375.08 C321.57,370.95 324.69,352.99 326.95,350.27 C329.21,347.55 331.68,359.52 334.04,358.76 C336.41,358.00 338.88,350.16 341.14,345.70 C343.40,341.24 344.80,334.60 347.59,331.99 C350.38,329.37 354.90,330.35 357.91,330.03 C360.92,329.70 363.28,330.30 365.65,330.03 C368.01,329.75 369.95,328.39 372.10,328.39 C374.25,328.39 376.62,325.73 378.55,330.03 C380.49,334.33 382.20,346.68 383.71,354.19 C385.21,361.70 386.29,372.47 387.58,375.08 C388.87,377.70 390.27,371.27 391.45,369.86 C392.63,368.45 393.60,365.94 394.68,366.60 C395.75,367.25 396.50,372.91 397.90,373.78 C399.30,374.65 401.56,374.10 403.06,371.82 C404.56,369.53 405.43,365.51 406.93,360.06 C408.44,354.62 410.16,343.20 412.09,339.17 C414.03,335.14 416.28,333.40 418.54,335.90 C420.80,338.41 423.16,349.18 425.63,354.19 C428.11,359.19 431.12,366.27 433.38,365.94 C435.63,365.62 437.25,355.11 439.18,352.23 C441.12,349.34 443.27,350.71 444.99,348.64 C446.70,346.57 447.24,342.05 449.50,339.82 C451.76,337.59 454.88,336.67 458.53,335.25 C462.19,333.84 466.49,332.16 471.43,331.33 C476.38,330.51 485.41,330.46 488.20,330.29" fill="none" stroke="#e3301c" stroke-width="1.7" stroke-linejoin="round"/>
<rect x="500.4" y="314.0" width="11.4" height="86.0" fill="#b5b5b5"/>
<text x="506.10" y="359.60" font-size="8" text-anchor="middle" fill="#000" font-weight="bold" >2</text>
<rect x="8" y="379.4" width="13.5" height="21" fill="#b5b5b5"/>
<rect x="8" y="405.2" width="13.5" height="33.4" fill="#b5b5b5"/>
<text x="14.80" y="392.70" font-size="8" text-anchor="middle" fill="#000" font-weight="bold" >1</text>
<text x="14.80" y="424.80" font-size="8" text-anchor="middle" fill="#000" font-weight="bold" >2</text>
<text x="137.30" y="385.60" font-size="7.8" text-anchor="end" fill="#000" >odontogenesis</text>
<rect x="140.7" y="382.1" width="124.9" height="3.9" fill="#a00c2a"/>
<text x="137.30" y="394.80" font-size="7.8" text-anchor="end" fill="#000" >regulation of neurological system</text>
<rect x="140.7" y="390.1" width="60.5" height="4.1" fill="#a00c2a"/>
<text x="137.30" y="409.60" font-size="7.8" text-anchor="end" fill="#000" >glial cell fate determination</text>
<rect x="140.7" y="405.9" width="58.5" height="4.2" fill="#a00c2a"/>
<text x="137.30" y="418.80" font-size="7.8" text-anchor="end" fill="#000" >neural plate development</text>
<rect x="140.7" y="413.9" width="37.2" height="4.4" fill="#a00c2a"/>
<text x="137.30" y="429.00" font-size="7.8" text-anchor="end" fill="#000" >endothelial blood-brain barrier</text>
<rect x="140.7" y="422.9" width="30.0" height="4.1" fill="#a00c2a"/>
<text x="137.30" y="438.40" font-size="7.8" text-anchor="end" fill="#000" >neuron migration</text>
<rect x="140.7" y="430.8" width="32.6" height="4.0" fill="#a00c2a"/>
<line x1="140.5" y1="379.5" x2="140.5" y2="437.2" stroke="#111" stroke-width="0.9"/>
<line x1="140" y1="436.8" x2="270" y2="436.8" stroke="#111" stroke-width="1.0"/>
<line x1="140.7" y1="436.8" x2="140.7" y2="439.4" stroke="#111" stroke-width="0.8"/>
<line x1="161.8" y1="436.8" x2="161.8" y2="439.4" stroke="#111" stroke-width="0.8"/>
<line x1="183.0" y1="436.8" x2="183.0" y2="439.4" stroke="#111" stroke-width="0.8"/>
<line x1="203.9" y1="436.8" x2="203.9" y2="439.4" stroke="#111" stroke-width="0.8"/>
<line x1="225.3" y1="436.8" x2="225.3" y2="439.4" stroke="#111" stroke-width="0.8"/>
<line x1="246.6" y1="436.8" x2="246.6" y2="439.4" stroke="#111" stroke-width="0.8"/>
<line x1="267.9" y1="436.8" x2="267.9" y2="439.4" stroke="#111" stroke-width="0.8"/>
<text x="182.9" y="448.5" font-size="8" text-anchor="middle">1x10<tspan font-size="5.4" dy="-3.2">-2</tspan></text>
<text x="225.3" y="448.5" font-size="8" text-anchor="middle">1x10<tspan font-size="5.4" dy="-3.2">-4</tspan></text>
<text x="267.9" y="448.5" font-size="8" text-anchor="middle">1x10<tspan font-size="5.4" dy="-3.2">-6</tspan></text>
<line x1="35.8" y1="494.5" x2="35.8" y2="556.2" stroke="#111" stroke-width="1.1"/>
<line x1="33.199999999999996" y1="556.20" x2="35.8" y2="556.20" stroke="#111" stroke-width="0.9"/>
<text x="29.30" y="559.00" font-size="7.8" text-anchor="end" fill="#000" >0</text>
<line x1="33.199999999999996" y1="529.60" x2="35.8" y2="529.60" stroke="#111" stroke-width="0.9"/>
<text x="29.30" y="532.40" font-size="7.8" text-anchor="end" fill="#000" >10</text>
<line x1="33.199999999999996" y1="503.00" x2="35.8" y2="503.00" stroke="#111" stroke-width="0.9"/>
<text x="29.30" y="505.80" font-size="7.8" text-anchor="end" fill="#000" >20</text>
<line x1="35.3" y1="556.2" x2="209.8" y2="556.2" stroke="#111" stroke-width="1.1"/>
<rect x="38.40" y="520.56" width="5.6" height="35.64" fill="#2c4a86"/>
<line x1="41.20" y1="556.2" x2="41.20" y2="558.6" stroke="#111" stroke-width="0.8"/>
<text x="45.00" y="563.80" font-size="8.3" text-anchor="end" fill="#000" transform="rotate(-45 45.00 563.80)" >ENAM</text>
<rect x="49.82" y="524.81" width="5.6" height="31.39" fill="#2c4a86"/>
<line x1="52.62" y1="556.2" x2="52.62" y2="558.6" stroke="#111" stroke-width="0.8"/>
<text x="56.42" y="563.80" font-size="8.3" text-anchor="end" fill="#000" transform="rotate(-45 56.42 563.80)" >ZNF385D</text>
<rect x="61.24" y="534.39" width="5.6" height="21.81" fill="#2c4a86"/>
<line x1="64.04" y1="556.2" x2="64.04" y2="558.6" stroke="#111" stroke-width="0.8"/>
<text x="67.84" y="563.80" font-size="8.3" text-anchor="end" fill="#000" transform="rotate(-45 67.84 563.80)" >RUFY3</text>
<rect x="72.66" y="538.11" width="5.6" height="18.09" fill="#2c4a86"/>
<line x1="75.46" y1="556.2" x2="75.46" y2="558.6" stroke="#111" stroke-width="0.8"/>
<text x="79.26" y="563.80" font-size="8.3" text-anchor="end" fill="#000" transform="rotate(-45 79.26 563.80)" >MUC7</text>
<rect x="84.08" y="538.91" width="5.6" height="17.29" fill="#2c4a86"/>
<line x1="86.88" y1="556.2" x2="86.88" y2="558.6" stroke="#111" stroke-width="0.8"/>
<text x="90.68" y="563.80" font-size="8.3" text-anchor="end" fill="#000" transform="rotate(-45 90.68 563.80)" >CABS1</text>
<rect x="95.50" y="540.24" width="5.6" height="15.96" fill="#2c4a86"/>
<line x1="98.30" y1="556.2" x2="98.30" y2="558.6" stroke="#111" stroke-width="0.8"/>
<text x="102.10" y="563.80" font-size="8.3" text-anchor="end" fill="#000" transform="rotate(-45 102.10 563.80)" >AMBN</text>
<rect x="106.92" y="544.23" width="5.6" height="11.97" fill="#2c4a86"/>
<line x1="109.72" y1="556.2" x2="109.72" y2="558.6" stroke="#111" stroke-width="0.8"/>
<text x="113.52" y="563.80" font-size="8.3" text-anchor="end" fill="#000" transform="rotate(-45 113.52 563.80)" >MOB1B</text>
<rect x="118.34" y="544.50" width="5.6" height="11.70" fill="#2c4a86"/>
<line x1="121.14" y1="556.2" x2="121.14" y2="558.6" stroke="#111" stroke-width="0.8"/>
<text x="124.94" y="563.80" font-size="8.3" text-anchor="end" fill="#000" transform="rotate(-45 124.94 563.80)" >GRSF1</text>
<rect x="129.76" y="545.56" width="5.6" height="10.64" fill="#2c4a86"/>
<line x1="132.56" y1="556.2" x2="132.56" y2="558.6" stroke="#111" stroke-width="0.8"/>
<text x="136.36" y="563.80" font-size="8.3" text-anchor="end" fill="#000" transform="rotate(-45 136.36 563.80)" >PRR27</text>
<rect x="141.18" y="546.36" width="5.6" height="9.84" fill="#2c4a86"/>
<line x1="143.98" y1="556.2" x2="143.98" y2="558.6" stroke="#111" stroke-width="0.8"/>
<text x="147.78" y="563.80" font-size="8.3" text-anchor="end" fill="#000" transform="rotate(-45 147.78 563.80)" >DCK</text>
<rect x="152.60" y="547.16" width="5.6" height="9.04" fill="#2c4a86"/>
<line x1="155.40" y1="556.2" x2="155.40" y2="558.6" stroke="#111" stroke-width="0.8"/>
<text x="159.20" y="563.80" font-size="8.3" text-anchor="end" fill="#000" transform="rotate(-45 159.20 563.80)" >UTP3</text>
<rect x="164.02" y="547.95" width="5.6" height="8.25" fill="#2c4a86"/>
<line x1="166.82" y1="556.2" x2="166.82" y2="558.6" stroke="#111" stroke-width="0.8"/>
<text x="170.62" y="563.80" font-size="8.3" text-anchor="end" fill="#000" transform="rotate(-45 170.62 563.80)" >SMR3A</text>
<rect x="175.44" y="547.95" width="5.6" height="8.25" fill="#2c4a86"/>
<line x1="178.24" y1="556.2" x2="178.24" y2="558.6" stroke="#111" stroke-width="0.8"/>
<text x="182.04" y="563.80" font-size="8.3" text-anchor="end" fill="#000" transform="rotate(-45 182.04 563.80)" >SMR3B</text>
<rect x="186.86" y="548.22" width="5.6" height="7.98" fill="#2c4a86"/>
<line x1="189.66" y1="556.2" x2="189.66" y2="558.6" stroke="#111" stroke-width="0.8"/>
<text x="193.46" y="563.80" font-size="8.3" text-anchor="end" fill="#000" transform="rotate(-45 193.46 563.80)" >ODAM</text>
<rect x="198.28" y="548.75" width="5.6" height="7.45" fill="#2c4a86"/>
<line x1="201.08" y1="556.2" x2="201.08" y2="558.6" stroke="#111" stroke-width="0.8"/>
<text x="204.88" y="563.80" font-size="8.3" text-anchor="end" fill="#000" transform="rotate(-45 204.88 563.80)" >CSN3</text>
<line x1="206.9" y1="556.2" x2="206.9" y2="558.6" stroke="#111" stroke-width="0.8"/>
<text x="121.30" y="489.00" font-size="7.7" text-anchor="middle" fill="#000" textLength="65" lengthAdjust="spacingAndGlyphs" >Mutation frequency</text>
<text x="14.80" y="526.35" font-size="8.8" text-anchor="middle" fill="#000" textLength="51" lengthAdjust="spacingAndGlyphs" transform="rotate(-90 14.80 526.35)" stroke="#000" stroke-width="0.25">% cases affected</text>
<rect x="213.2" y="502.3" width="10.600000000000023" height="55.49999999999994" fill="#b5b5b5"/>
<text x="218.50" y="532.95" font-size="8" text-anchor="middle" fill="#000" font-weight="bold" >1</text>
<line x1="262.5" y1="492" x2="262.5" y2="554.4" stroke="#111" stroke-width="1.1"/>
<line x1="259.9" y1="554.40" x2="262.5" y2="554.40" stroke="#111" stroke-width="0.9"/>
<text x="256.00" y="557.20" font-size="7.8" text-anchor="end" fill="#000" >0</text>
<line x1="259.9" y1="527.50" x2="262.5" y2="527.50" stroke="#111" stroke-width="0.9"/>
<text x="256.00" y="530.30" font-size="7.8" text-anchor="end" fill="#000" >10</text>
<line x1="259.9" y1="500.60" x2="262.5" y2="500.60" stroke="#111" stroke-width="0.9"/>
<text x="256.00" y="503.40" font-size="7.8" text-anchor="end" fill="#000" >20</text>
<line x1="262.0" y1="554.4" x2="431.6" y2="554.4" stroke="#111" stroke-width="1.1"/>
<rect x="264.40" y="492.53" width="5.0" height="61.87" fill="#2c4a86"/>
<line x1="266.90" y1="554.4" x2="266.90" y2="556.8" stroke="#111" stroke-width="0.8"/>
<text x="270.70" y="562.00" font-size="8.3" text-anchor="end" fill="#000" transform="rotate(-45 270.70 562.00)" >CTNNB1</text>
<rect x="275.56" y="527.50" width="5.0" height="26.90" fill="#2c4a86"/>
<line x1="278.06" y1="554.4" x2="278.06" y2="556.8" stroke="#111" stroke-width="0.8"/>
<text x="281.86" y="562.00" font-size="8.3" text-anchor="end" fill="#000" transform="rotate(-45 281.86 562.00)" >MYRIP</text>
<rect x="286.72" y="528.31" width="5.0" height="26.09" fill="#2c4a86"/>
<line x1="289.22" y1="554.4" x2="289.22" y2="556.8" stroke="#111" stroke-width="0.8"/>
<text x="293.02" y="562.00" font-size="8.3" text-anchor="end" fill="#000" transform="rotate(-45 293.02 562.00)" >ULK4</text>
<rect x="297.88" y="529.11" width="5.0" height="25.29" fill="#2c4a86"/>
<line x1="300.38" y1="554.4" x2="300.38" y2="556.8" stroke="#111" stroke-width="0.8"/>
<text x="304.18" y="562.00" font-size="8.3" text-anchor="end" fill="#000" transform="rotate(-45 304.18 562.00)" >ZNF445</text>
<rect x="309.04" y="536.65" width="5.0" height="17.75" fill="#2c4a86"/>
<line x1="311.54" y1="554.4" x2="311.54" y2="556.8" stroke="#111" stroke-width="0.8"/>
<text x="315.34" y="562.00" font-size="8.3" text-anchor="end" fill="#000" transform="rotate(-45 315.34 562.00)" >ANO10</text>
<rect x="320.20" y="537.72" width="5.0" height="16.68" fill="#2c4a86"/>
<line x1="322.70" y1="554.4" x2="322.70" y2="556.8" stroke="#111" stroke-width="0.8"/>
<text x="326.50" y="562.00" font-size="8.3" text-anchor="end" fill="#000" transform="rotate(-45 326.50 562.00)" >ZNF619</text>
<rect x="331.36" y="537.72" width="5.0" height="16.68" fill="#2c4a86"/>
<line x1="333.86" y1="554.4" x2="333.86" y2="556.8" stroke="#111" stroke-width="0.8"/>
<text x="337.66" y="562.00" font-size="8.3" text-anchor="end" fill="#000" transform="rotate(-45 337.66 562.00)" >ENTPD3</text>
<rect x="342.52" y="537.72" width="5.0" height="16.68" fill="#2c4a86"/>
<line x1="345.02" y1="554.4" x2="345.02" y2="556.8" stroke="#111" stroke-width="0.8"/>
<text x="348.82" y="562.00" font-size="8.3" text-anchor="end" fill="#000" transform="rotate(-45 348.82 562.00)" >TOPAZ1</text>
<rect x="353.68" y="540.68" width="5.0" height="13.72" fill="#2c4a86"/>
<line x1="356.18" y1="554.4" x2="356.18" y2="556.8" stroke="#111" stroke-width="0.8"/>
<text x="359.98" y="562.00" font-size="8.3" text-anchor="end" fill="#000" transform="rotate(-45 359.98 562.00)" >TCAIM</text>
<rect x="364.84" y="540.68" width="5.0" height="13.72" fill="#2c4a86"/>
<line x1="367.34" y1="554.4" x2="367.34" y2="556.8" stroke="#111" stroke-width="0.8"/>
<text x="371.14" y="562.00" font-size="8.3" text-anchor="end" fill="#000" transform="rotate(-45 371.14 562.00)" >ZNF621</text>
<rect x="376.00" y="544.72" width="5.0" height="9.68" fill="#2c4a86"/>
<line x1="378.50" y1="554.4" x2="378.50" y2="556.8" stroke="#111" stroke-width="0.8"/>
<text x="382.30" y="562.00" font-size="8.3" text-anchor="end" fill="#000" transform="rotate(-45 382.30 562.00)" >ZNF620</text>
<rect x="387.16" y="546.06" width="5.0" height="8.34" fill="#2c4a86"/>
<line x1="389.66" y1="554.4" x2="389.66" y2="556.8" stroke="#111" stroke-width="0.8"/>
<text x="393.46" y="562.00" font-size="8.3" text-anchor="end" fill="#000" transform="rotate(-45 393.46 562.00)" >ABHD5</text>
<rect x="398.32" y="548.21" width="5.0" height="6.19" fill="#2c4a86"/>
<line x1="400.82" y1="554.4" x2="400.82" y2="556.8" stroke="#111" stroke-width="0.8"/>
<text x="404.62" y="562.00" font-size="8.3" text-anchor="end" fill="#000" transform="rotate(-45 404.62 562.00)" >EIF1B</text>
<rect x="409.48" y="550.10" width="5.0" height="4.30" fill="#2c4a86"/>
<line x1="411.98" y1="554.4" x2="411.98" y2="556.8" stroke="#111" stroke-width="0.8"/>
<text x="415.78" y="562.00" font-size="8.3" text-anchor="end" fill="#000" transform="rotate(-45 415.78 562.00)" >RPL14</text>
<rect x="420.64" y="553.59" width="5.0" height="0.81" fill="#2c4a86"/>
<line x1="423.14" y1="554.4" x2="423.14" y2="556.8" stroke="#111" stroke-width="0.8"/>
<text x="426.94" y="562.00" font-size="8.3" text-anchor="end" fill="#000" transform="rotate(-45 426.94 562.00)" >MIR138-1</text>
<line x1="429.2" y1="554.4" x2="429.2" y2="556.8" stroke="#111" stroke-width="0.8"/>
<text x="345.20" y="487.20" font-size="7.7" text-anchor="middle" fill="#000" textLength="65" lengthAdjust="spacingAndGlyphs" >Mutation frequency</text>
<text x="241.40" y="524.20" font-size="8.8" text-anchor="middle" fill="#000" textLength="51" lengthAdjust="spacingAndGlyphs" transform="rotate(-90 241.40 524.20)" stroke="#000" stroke-width="0.25">% cases affected</text>
<rect x="434.5" y="500.8" width="11.0" height="54.69999999999999" fill="#b5b5b5"/>
<text x="440.00" y="531.05" font-size="8" text-anchor="middle" fill="#000" font-weight="bold" >2</text>
<rect x="0" y="0" width="520" height="1.1" fill="#000"/><rect x="0" y="0" width="1.0" height="598" fill="#000"/><rect x="518.9" y="0" width="1.1" height="598" fill="#000"/><rect x="0" y="596.7" width="520" height="1.3" fill="#000"/>
</svg></body></html>
